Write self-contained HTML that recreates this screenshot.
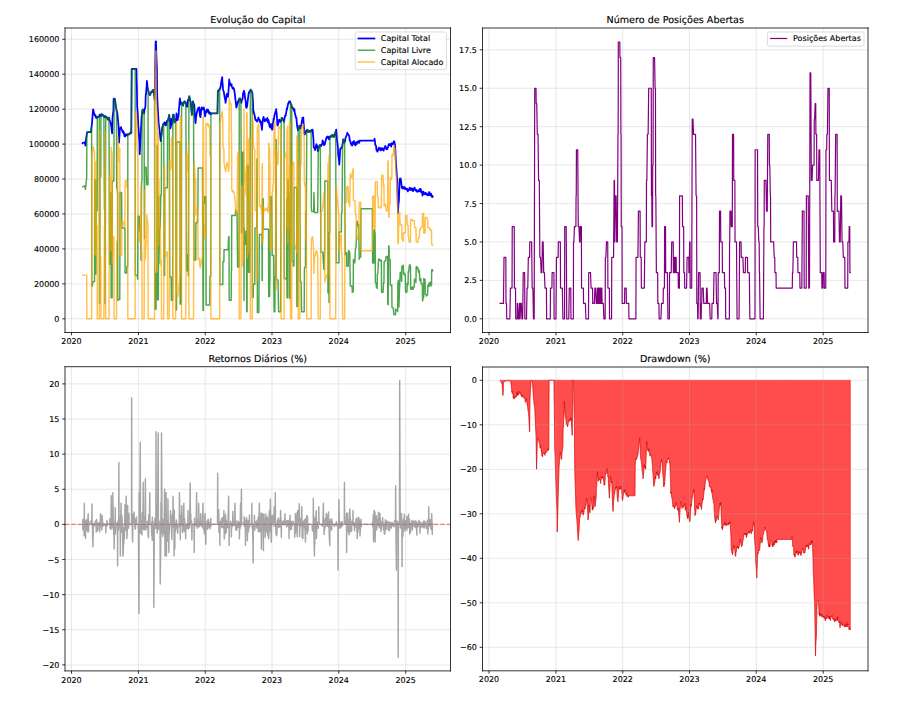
<!DOCTYPE html>
<html><head><meta charset="utf-8"><title>Backtest</title>
<style>html,body{margin:0;padding:0;background:#fff;width:903px;height:704px;overflow:hidden}
svg{display:block}
svg text{font-family:"DejaVu Sans","Liberation Sans",sans-serif;text-rendering:geometricPrecision;stroke:#000;stroke-width:0.3px;stroke-opacity:0.6}</style></head>
<body>
<svg width="903px" height="704px" viewBox="0 0 1128.75 880" version="1.1">
 
 <defs>
  <style type="text/css">*{stroke-linejoin: round; stroke-linecap: butt}</style>
 </defs>
 <g id="figure_1">
  <g id="patch_1">
   <path d="M 0 880 
L 1128.75 880 
L 1128.75 0 
L 0 0 
z
" style="fill: #ffffff"/>
  </g>
  <g id="axes_1">
   <g id="patch_2">
    <path d="M 81.25 415.625 
L 563.125 415.625 
L 563.125 35 
L 81.25 35 
z
" style="fill: #ffffff"/>
   </g>
   <g id="matplotlib.axis_1">
    <g id="xtick_1">
     <g id="line2d_1">
      <path d="M 89.375 415.625 
L 89.375 35 
" clip-path="url(#p4b7e24a7e3)" style="fill: none; stroke: #b0b0b0; stroke-opacity: 0.3; stroke-width: 1.2; stroke-linecap: square"/>
     </g>
     <g id="line2d_2">
      <defs>
       <path id="me911267e3d" d="M 0 0 
L 0 3.5 
" style="stroke: #000000"/>
      </defs>
      <g>
       <use href="#me911267e3d" x="89.375" y="415.625" style="stroke: #000000"/>
      </g>
     </g>
     <g id="text_1">
      <text style="font-size: 10px; font-family: 'DejaVu Sans', 'Liberation Sans', sans-serif; text-anchor: middle" x="89.375" y="430.223438" transform="rotate(-0 89.375 430.223438)">2020</text>
     </g>
    </g>
    <g id="xtick_2">
     <g id="line2d_3">
      <path d="M 173.065475 415.625 
L 173.065475 35 
" clip-path="url(#p4b7e24a7e3)" style="fill: none; stroke: #b0b0b0; stroke-opacity: 0.3; stroke-width: 1.2; stroke-linecap: square"/>
     </g>
     <g id="line2d_4">
      <g>
       <use href="#me911267e3d" x="173.065475" y="415.625" style="stroke: #000000"/>
      </g>
     </g>
     <g id="text_2">
      <text style="font-size: 10px; font-family: 'DejaVu Sans', 'Liberation Sans', sans-serif; text-anchor: middle" x="173.065475" y="430.223438" transform="rotate(-0 173.065475 430.223438)">2021</text>
     </g>
    </g>
    <g id="xtick_3">
     <g id="line2d_5">
      <path d="M 256.527288 415.625 
L 256.527288 35 
" clip-path="url(#p4b7e24a7e3)" style="fill: none; stroke: #b0b0b0; stroke-opacity: 0.3; stroke-width: 1.2; stroke-linecap: square"/>
     </g>
     <g id="line2d_6">
      <g>
       <use href="#me911267e3d" x="256.527288" y="415.625" style="stroke: #000000"/>
      </g>
     </g>
     <g id="text_3">
      <text style="font-size: 10px; font-family: 'DejaVu Sans', 'Liberation Sans', sans-serif; text-anchor: middle" x="256.527288" y="430.223438" transform="rotate(-0 256.527288 430.223438)">2022</text>
     </g>
    </g>
    <g id="xtick_4">
     <g id="line2d_7">
      <path d="M 339.9891 415.625 
L 339.9891 35 
" clip-path="url(#p4b7e24a7e3)" style="fill: none; stroke: #b0b0b0; stroke-opacity: 0.3; stroke-width: 1.2; stroke-linecap: square"/>
     </g>
     <g id="line2d_8">
      <g>
       <use href="#me911267e3d" x="339.9891" y="415.625" style="stroke: #000000"/>
      </g>
     </g>
     <g id="text_4">
      <text style="font-size: 10px; font-family: 'DejaVu Sans', 'Liberation Sans', sans-serif; text-anchor: middle" x="339.9891" y="430.223438" transform="rotate(-0 339.9891 430.223438)">2023</text>
     </g>
    </g>
    <g id="xtick_5">
     <g id="line2d_9">
      <path d="M 423.450913 415.625 
L 423.450913 35 
" clip-path="url(#p4b7e24a7e3)" style="fill: none; stroke: #b0b0b0; stroke-opacity: 0.3; stroke-width: 1.2; stroke-linecap: square"/>
     </g>
     <g id="line2d_10">
      <g>
       <use href="#me911267e3d" x="423.450913" y="415.625" style="stroke: #000000"/>
      </g>
     </g>
     <g id="text_5">
      <text style="font-size: 10px; font-family: 'DejaVu Sans', 'Liberation Sans', sans-serif; text-anchor: middle" x="423.450913" y="430.223438" transform="rotate(-0 423.450913 430.223438)">2024</text>
     </g>
    </g>
    <g id="xtick_6">
     <g id="line2d_11">
      <path d="M 507.141388 415.625 
L 507.141388 35 
" clip-path="url(#p4b7e24a7e3)" style="fill: none; stroke: #b0b0b0; stroke-opacity: 0.3; stroke-width: 1.2; stroke-linecap: square"/>
     </g>
     <g id="line2d_12">
      <g>
       <use href="#me911267e3d" x="507.141388" y="415.625" style="stroke: #000000"/>
      </g>
     </g>
     <g id="text_6">
      <text style="font-size: 10px; font-family: 'DejaVu Sans', 'Liberation Sans', sans-serif; text-anchor: middle" x="507.141388" y="430.223438" transform="rotate(-0 507.141388 430.223438)">2025</text>
     </g>
    </g>
   </g>
   <g id="matplotlib.axis_2">
    <g id="ytick_1">
     <g id="line2d_13">
      <path d="M 81.25 398.5 
L 563.125 398.5 
" clip-path="url(#p4b7e24a7e3)" style="fill: none; stroke: #b0b0b0; stroke-opacity: 0.3; stroke-width: 1.2; stroke-linecap: square"/>
     </g>
     <g id="line2d_14">
      <defs>
       <path id="mcc44afb5ca" d="M 0 0 
L -3.5 0 
" style="stroke: #000000"/>
      </defs>
      <g>
       <use href="#mcc44afb5ca" x="81.25" y="398.5" style="stroke: #000000"/>
      </g>
     </g>
     <g id="text_7">
      <text style="font-size: 10px; font-family: 'DejaVu Sans', 'Liberation Sans', sans-serif; text-anchor: end" x="74.25" y="402.299219" transform="rotate(-0 74.25 402.299219)">0</text>
     </g>
    </g>
    <g id="ytick_2">
     <g id="line2d_15">
      <path d="M 81.25 354.824249 
L 563.125 354.824249 
" clip-path="url(#p4b7e24a7e3)" style="fill: none; stroke: #b0b0b0; stroke-opacity: 0.3; stroke-width: 1.2; stroke-linecap: square"/>
     </g>
     <g id="line2d_16">
      <g>
       <use href="#mcc44afb5ca" x="81.25" y="354.824249" style="stroke: #000000"/>
      </g>
     </g>
     <g id="text_8">
      <text style="font-size: 10px; font-family: 'DejaVu Sans', 'Liberation Sans', sans-serif; text-anchor: end" x="74.25" y="358.623468" transform="rotate(-0 74.25 358.623468)">20000</text>
     </g>
    </g>
    <g id="ytick_3">
     <g id="line2d_17">
      <path d="M 81.25 311.148498 
L 563.125 311.148498 
" clip-path="url(#p4b7e24a7e3)" style="fill: none; stroke: #b0b0b0; stroke-opacity: 0.3; stroke-width: 1.2; stroke-linecap: square"/>
     </g>
     <g id="line2d_18">
      <g>
       <use href="#mcc44afb5ca" x="81.25" y="311.148498" style="stroke: #000000"/>
      </g>
     </g>
     <g id="text_9">
      <text style="font-size: 10px; font-family: 'DejaVu Sans', 'Liberation Sans', sans-serif; text-anchor: end" x="74.25" y="314.947716" transform="rotate(-0 74.25 314.947716)">40000</text>
     </g>
    </g>
    <g id="ytick_4">
     <g id="line2d_19">
      <path d="M 81.25 267.472746 
L 563.125 267.472746 
" clip-path="url(#p4b7e24a7e3)" style="fill: none; stroke: #b0b0b0; stroke-opacity: 0.3; stroke-width: 1.2; stroke-linecap: square"/>
     </g>
     <g id="line2d_20">
      <g>
       <use href="#mcc44afb5ca" x="81.25" y="267.472746" style="stroke: #000000"/>
      </g>
     </g>
     <g id="text_10">
      <text style="font-size: 10px; font-family: 'DejaVu Sans', 'Liberation Sans', sans-serif; text-anchor: end" x="74.25" y="271.271965" transform="rotate(-0 74.25 271.271965)">60000</text>
     </g>
    </g>
    <g id="ytick_5">
     <g id="line2d_21">
      <path d="M 81.25 223.796995 
L 563.125 223.796995 
" clip-path="url(#p4b7e24a7e3)" style="fill: none; stroke: #b0b0b0; stroke-opacity: 0.3; stroke-width: 1.2; stroke-linecap: square"/>
     </g>
     <g id="line2d_22">
      <g>
       <use href="#mcc44afb5ca" x="81.25" y="223.796995" style="stroke: #000000"/>
      </g>
     </g>
     <g id="text_11">
      <text style="font-size: 10px; font-family: 'DejaVu Sans', 'Liberation Sans', sans-serif; text-anchor: end" x="74.25" y="227.596214" transform="rotate(-0 74.25 227.596214)">80000</text>
     </g>
    </g>
    <g id="ytick_6">
     <g id="line2d_23">
      <path d="M 81.25 180.121244 
L 563.125 180.121244 
" clip-path="url(#p4b7e24a7e3)" style="fill: none; stroke: #b0b0b0; stroke-opacity: 0.3; stroke-width: 1.2; stroke-linecap: square"/>
     </g>
     <g id="line2d_24">
      <g>
       <use href="#mcc44afb5ca" x="81.25" y="180.121244" style="stroke: #000000"/>
      </g>
     </g>
     <g id="text_12">
      <text style="font-size: 10px; font-family: 'DejaVu Sans', 'Liberation Sans', sans-serif; text-anchor: end" x="74.25" y="183.920463" transform="rotate(-0 74.25 183.920463)">100000</text>
     </g>
    </g>
    <g id="ytick_7">
     <g id="line2d_25">
      <path d="M 81.25 136.445493 
L 563.125 136.445493 
" clip-path="url(#p4b7e24a7e3)" style="fill: none; stroke: #b0b0b0; stroke-opacity: 0.3; stroke-width: 1.2; stroke-linecap: square"/>
     </g>
     <g id="line2d_26">
      <g>
       <use href="#mcc44afb5ca" x="81.25" y="136.445493" style="stroke: #000000"/>
      </g>
     </g>
     <g id="text_13">
      <text style="font-size: 10px; font-family: 'DejaVu Sans', 'Liberation Sans', sans-serif; text-anchor: end" x="74.25" y="140.244711" transform="rotate(-0 74.25 140.244711)">120000</text>
     </g>
    </g>
    <g id="ytick_8">
     <g id="line2d_27">
      <path d="M 81.25 92.769741 
L 563.125 92.769741 
" clip-path="url(#p4b7e24a7e3)" style="fill: none; stroke: #b0b0b0; stroke-opacity: 0.3; stroke-width: 1.2; stroke-linecap: square"/>
     </g>
     <g id="line2d_28">
      <g>
       <use href="#mcc44afb5ca" x="81.25" y="92.769741" style="stroke: #000000"/>
      </g>
     </g>
     <g id="text_14">
      <text style="font-size: 10px; font-family: 'DejaVu Sans', 'Liberation Sans', sans-serif; text-anchor: end" x="74.25" y="96.56896" transform="rotate(-0 74.25 96.56896)">140000</text>
     </g>
    </g>
    <g id="ytick_9">
     <g id="line2d_29">
      <path d="M 81.25 49.09399 
L 563.125 49.09399 
" clip-path="url(#p4b7e24a7e3)" style="fill: none; stroke: #b0b0b0; stroke-opacity: 0.3; stroke-width: 1.2; stroke-linecap: square"/>
     </g>
     <g id="line2d_30">
      <g>
       <use href="#mcc44afb5ca" x="81.25" y="49.09399" style="stroke: #000000"/>
      </g>
     </g>
     <g id="text_15">
      <text style="font-size: 10px; font-family: 'DejaVu Sans', 'Liberation Sans', sans-serif; text-anchor: end" x="74.25" y="52.893209" transform="rotate(-0 74.25 52.893209)">160000</text>
     </g>
    </g>
   </g>
   <g id="line2d_31">
    <path d="M 103.323413 178.930087 
L 103.552075 178.632298 
L 104.238062 178.382462 
L 105.8387 177.83205 
L 106.524687 180.583824 
L 106.75335 182.125744 
L 107.210675 179.213633 
L 107.439338 174.546776 
L 108.811312 165.550774 
L 110.640613 165.088439 
L 113.613225 165.088439 
L 114.9852 154.181357 
L 116.357175 136.730025 
L 116.585837 136.730025 
L 116.8145 138.504867 
L 117.043163 138.95169 
L 117.72915 141.851612 
L 117.957813 143.370635 
L 118.186475 142.849783 
L 118.415138 144.196474 
L 118.6438 143.549111 
L 119.329788 144.106701 
L 119.55845 146.1196 
L 119.787113 147.034579 
L 120.015775 146.202907 
L 120.930425 147.542263 
L 121.159087 147.056789 
L 121.38775 146.850539 
L 121.616413 145.747648 
L 121.845075 146.323973 
L 122.531063 146.405928 
L 122.988388 145.894483 
L 123.445713 146.306943 
L 124.360363 144.135937 
L 124.589025 143.237264 
L 125.04635 145.47588 
L 125.732337 143.990842 
L 126.189662 145.136118 
L 126.646988 142.788959 
L 127.561638 143.409444 
L 127.7903 144.194867 
L 128.018963 144.311069 
L 128.247625 143.357055 
L 128.933613 143.946749 
L 129.162275 145.185727 
L 129.390938 144.887073 
L 129.6196 144.940839 
L 129.848263 145.408269 
L 130.53425 146.391945 
L 130.762912 146.390158 
L 130.991575 146.102567 
L 131.4489 144.977062 
L 132.134888 146.002101 
L 132.36355 146.100826 
L 132.592213 146.394728 
L 132.820875 146.276206 
L 133.049538 146.830932 
L 133.735525 146.638244 
L 133.964188 147.450071 
L 134.421513 147.931642 
L 134.650175 149.39 
L 135.336163 148.735737 
L 135.564825 148.12015 
L 136.02215 147.542263 
L 136.250812 147.061379 
L 136.9368 150.692196 
L 137.394125 150.71501 
L 137.85145 152.949893 
L 138.7661 155.882453 
L 138.994763 157.875803 
L 139.223425 158.212235 
L 139.452088 161.127015 
L 140.138075 166.748213 
L 140.5954 147.542263 
L 140.824063 145.883605 
L 141.052725 143.109236 
L 141.738713 139.006286 
L 141.967375 124.222088 
L 142.196038 123.342767 
L 143.568013 123.641527 
L 143.796675 124.560171 
L 144.254 128.611829 
L 145.16865 134.994376 
L 145.397312 135.485497 
L 145.625975 138.05053 
L 146.540625 140.039411 
L 148.141263 157.401317 
L 148.369925 162.820859 
L 148.82725 178.314462 
L 149.055913 174.684423 
L 149.7419 161.882705 
L 149.970563 161.386107 
L 150.199225 160.23794 
L 150.427887 159.965672 
L 150.65655 159.409508 
L 151.342538 158.895113 
L 151.5712 160.561411 
L 152.257188 162.192987 
L 152.943175 163.376501 
L 153.171838 164.850397 
L 153.4005 165.390495 
L 153.629163 163.739241 
L 153.857825 163.881542 
L 154.543813 164.870298 
L 154.772475 167.150682 
L 155.001138 166.418749 
L 155.458462 170.098584 
L 156.14445 170.036219 
L 156.373113 170.657987 
L 156.830438 168.057167 
L 157.0591 167.85789 
L 157.745088 168.518684 
L 158.202413 168.375737 
L 158.431075 168.858897 
L 158.659738 168.604788 
L 159.345725 169.759534 
L 159.574388 168.133443 
L 159.80305 167.58137 
L 160.031713 168.114493 
L 160.260375 167.85789 
L 160.946363 167.822639 
L 161.175025 168.00307 
L 161.403688 167.226739 
L 161.63235 166.986016 
L 161.861013 167.110992 
L 162.547 166.92364 
L 163.004325 165.532336 
L 163.232988 165.943041 
L 163.46165 166.63245 
L 164.147638 166.364094 
L 164.604962 86.218379 
L 170.550188 86.218379 
L 170.77885 99.44203 
L 171.007513 105.961951 
L 171.236175 116.594063 
L 171.464838 133.34883 
L 172.150825 141.486265 
L 172.836813 156.721433 
L 173.065475 158.778929 
L 173.980125 173.871235 
L 174.208788 175.732329 
L 174.666112 192.685728 
L 176.952738 146.911549 
L 177.410063 143.687657 
L 177.867388 138.644589 
L 178.553375 136.73951 
L 178.782038 138.392322 
L 179.0107 138.246938 
L 179.468025 141.377231 
L 180.154013 141.82553 
L 180.611338 137.403092 
L 181.75465 133.34883 
L 181.983313 122.997414 
L 182.211975 118.09077 
L 182.440638 118.455799 
L 182.6693 115.083225 
L 183.355288 107.252031 
L 183.58395 101.13737 
L 184.041275 103.998055 
L 184.269938 107.91873 
L 184.955925 112.326374 
L 185.184588 111.992029 
L 185.41325 112.50424 
L 185.870575 116.39543 
L 186.556563 117.436102 
L 186.785225 117.217813 
L 187.013888 117.241721 
L 187.471213 118.93844 
L 188.1572 117.339844 
L 188.614525 115.394482 
L 188.843187 115.164824 
L 189.07185 114.70009 
L 189.757838 114.356429 
L 189.9865 115.062079 
L 190.215163 113.718601 
L 190.443825 113.85242 
L 190.672488 113.040588 
L 191.358475 113.139302 
L 191.587138 112.419108 
L 191.8158 114.669327 
L 192.044463 113.00475 
L 193.416438 124.87213 
L 193.6451 115.473502 
L 193.873763 86.218379 
L 194.55975 51.714535 
L 195.017075 51.714535 
L 195.4744 69.89106 
L 196.160388 85.225834 
L 196.38905 115.363363 
L 196.846375 127.65326 
L 198.21835 152.858376 
L 198.675675 156.938594 
L 199.361663 161.588432 
L 200.276313 171.278323 
L 200.9623 176.534711 
L 201.190963 173.306268 
L 201.648288 170.321868 
L 201.87695 168.816085 
L 202.7916 159.0037 
L 203.020263 158.402338 
L 203.248925 158.405859 
L 204.163575 154.884152 
L 204.392238 155.628525 
L 204.6209 155.612553 
L 205.078225 153.592031 
L 205.764213 153.001495 
L 205.992875 154.205602 
L 206.221538 152.985178 
L 206.4502 154.250435 
L 206.678863 156.479611 
L 207.36485 156.76681 
L 207.593513 155.339033 
L 207.822175 155.693371 
L 208.050838 154.76183 
L 208.2795 153.001495 
L 208.965488 150.69367 
L 209.19415 151.854292 
L 209.422813 151.897904 
L 209.651475 150.920315 
L 209.880138 149.236181 
L 210.566125 149.327627 
L 210.794788 146.500694 
L 211.480775 143.588209 
L 212.166763 148.453227 
L 212.395425 151.777269 
L 212.624088 153.022763 
L 213.081413 160.532124 
L 213.7674 157.19881 
L 213.996063 154.992613 
L 214.453388 148.644501 
L 214.68205 149.236181 
L 215.368038 154.830062 
L 215.5967 154.884152 
L 215.825363 150.640085 
L 216.054025 143.588209 
L 216.282688 143.581075 
L 216.968675 143.189341 
L 217.197338 143.588209 
L 217.654663 147.353523 
L 217.883325 148.592088 
L 218.569313 153.001495 
L 218.797975 150.765602 
L 219.026638 150.126269 
L 219.483963 152.179391 
L 220.16995 149.236181 
L 220.398613 146.86337 
L 220.627275 141.705552 
L 220.855938 143.742319 
L 221.0846 144.036107 
L 221.770588 150.177509 
L 221.99925 150.163945 
L 222.227913 149.338648 
L 222.685238 145.751212 
L 223.371225 143.588209 
L 223.599888 135.805598 
L 223.82855 135.038558 
L 224.057213 132.984419 
L 224.285875 129.283372 
L 224.971863 122.878979 
L 225.200525 126.497127 
L 225.65785 128.549189 
L 225.886513 130.409608 
L 226.5725 128.238994 
L 226.801163 127.97518 
L 227.029825 128.889059 
L 227.258488 129.048833 
L 227.48715 128.526951 
L 228.4018 129.967286 
L 228.859125 132.110327 
L 229.087788 130.409608 
L 229.773775 128.537789 
L 230.002438 128.41838 
L 230.2311 126.917246 
L 230.459763 127.868105 
L 230.688425 126.644294 
L 231.374413 127.933398 
L 231.603075 127.300787 
L 231.831738 128.016972 
L 232.0604 127.805035 
L 232.289063 128.526951 
L 232.97505 131.628386 
L 233.203713 133.231691 
L 233.432375 132.369342 
L 233.661038 133.233594 
L 233.8897 133.518653 
L 234.575688 128.979348 
L 234.80435 125.747738 
L 235.033013 124.467933 
L 235.261675 124.761636 
L 235.490338 124.843308 
L 236.176325 124.139642 
L 236.404988 121.501691 
L 236.63365 120.331917 
L 236.862313 121.937651 
L 237.090975 122.235057 
L 238.005625 126.996545 
L 238.234288 126.644294 
L 238.46295 128.341857 
L 238.691613 131.586241 
L 239.834925 143.588209 
L 240.063588 141.606654 
L 241.2069 126.644294 
L 241.435563 128.073056 
L 241.664225 128.462698 
L 242.578875 131.668225 
L 242.807538 130.409608 
L 243.0362 133.457245 
L 243.493525 142.42808 
L 244.179513 152.43535 
L 244.408175 153.942824 
L 245.094163 146.81011 
L 245.78015 141.705552 
L 246.008813 141.299475 
L 246.237475 140.012857 
L 246.466138 140.047295 
L 246.6948 138.555934 
L 247.60945 135.356727 
L 247.838113 134.987541 
L 248.066775 136.020275 
L 248.295438 135.777857 
L 248.981425 134.174923 
L 249.896075 144.129423 
L 250.582063 146.412195 
L 250.810725 142.990563 
L 251.039388 143.054814 
L 251.26805 140.403642 
L 251.496713 136.277937 
L 252.1827 134.174923 
L 252.411363 136.904832 
L 252.640025 136.580468 
L 252.868688 136.897977 
L 253.09735 136.05758 
L 253.783338 135.871718 
L 254.012 136.445589 
L 254.240663 135.075334 
L 254.469325 134.816704 
L 254.697988 134.174923 
L 255.383975 138.394513 
L 255.8413 143.774094 
L 256.069963 143.087018 
L 256.298625 145.470866 
L 257.213275 141.177423 
L 257.899263 137.940237 
L 258.58525 136.831894 
L 258.813913 139.393471 
L 259.042575 139.22985 
L 259.271238 138.913464 
L 259.4999 136.998909 
L 260.185888 137.236337 
L 260.643213 141.149752 
L 261.100538 139.130062 
L 262.015188 142.2981 
L 262.24385 141.080038 
L 262.472512 140.764223 
L 262.701175 140.966034 
L 263.615825 142.905048 
L 263.844488 141.705552 
L 271.847675 141.705552 
L 272.305 113.465693 
L 272.990988 113.853627 
L 273.676975 112.138724 
L 273.905638 113.180509 
L 274.591625 111.583036 
L 275.04895 111.06488 
L 275.277613 109.391288 
L 275.506275 109.674063 
L 276.192263 105.935064 
L 276.420925 103.192778 
L 277.106913 99.727198 
L 277.7929 96.521778 
L 278.021563 102.486729 
L 278.478888 106.436513 
L 278.70755 111.583036 
L 279.393538 114.148214 
L 279.6222 114.237552 
L 281.222838 124.308099 
L 281.4515 124.245424 
L 281.680163 125.809384 
L 281.908825 128.526951 
L 282.823475 123.452845 
L 283.2808 118.485387 
L 283.509463 117.231007 
L 284.19545 119.836737 
L 284.424113 120.14865 
L 284.652775 118.624893 
L 284.881438 118.827092 
L 285.1101 120.996322 
L 286.02475 107.775939 
L 286.482075 99.345764 
L 286.710738 101.602021 
L 287.396725 103.784437 
L 287.625388 106.088385 
L 287.85405 106.417585 
L 288.311375 105.509068 
L 288.997363 107.146059 
L 289.454688 105.030812 
L 289.68335 107.817721 
L 290.826663 110.875095 
L 291.055325 109.700378 
L 291.283988 109.279064 
L 291.51265 109.810101 
L 292.198638 110.198141 
L 292.4273 111.171969 
L 292.655963 111.583036 
L 293.799275 119.132276 
L 294.027938 122.878979 
L 294.2566 123.777229 
L 294.713925 127.767183 
L 295.399913 134.461862 
L 295.628575 134.174923 
L 296.0859 131.738448 
L 296.314563 131.879437 
L 297.00055 128.983061 
L 297.229213 126.644294 
L 297.686538 128.404957 
L 297.9152 127.706773 
L 298.82985 123.547916 
L 299.058513 124.431793 
L 299.287175 124.455522 
L 299.515838 123.110958 
L 300.201825 122.878979 
L 300.430488 126.119285 
L 300.65915 124.397056 
L 300.887813 124.623117 
L 301.116475 124.57541 
L 301.802463 128.526951 
L 302.031125 126.0678 
L 302.259788 125.862341 
L 302.48845 124.63672 
L 302.717113 124.437685 
L 303.4031 122.878979 
L 303.860425 116.435431 
L 304.089088 115.841018 
L 304.31775 115.980321 
L 305.003738 113.465693 
L 305.689725 116.064153 
L 305.918388 119.113665 
L 307.290363 128.515492 
L 307.519025 134.174923 
L 308.205013 134.843001 
L 308.433675 132.832079 
L 308.662338 132.061682 
L 308.891 132.9421 
L 309.119663 130.409608 
L 310.034313 122.566037 
L 310.262975 121.32633 
L 310.7203 117.231007 
L 311.406288 114.885187 
L 311.63495 114.838979 
L 311.863613 115.790628 
L 312.320938 113.465693 
L 313.006925 113.010555 
L 313.235588 112.117031 
L 313.46425 113.221649 
L 313.692913 112.524364 
L 313.921575 113.056902 
L 314.607563 113.682376 
L 314.836225 114.329584 
L 315.064888 115.814589 
L 315.29355 115.34835 
L 315.522213 116.864066 
L 316.2082 127.370581 
L 316.665525 139.822894 
L 316.894188 138.759519 
L 317.12285 139.597694 
L 317.808838 143.266967 
L 318.0375 143.648998 
L 318.266163 143.588209 
L 318.494825 144.67907 
L 318.723488 147.17135 
L 319.409475 150.211852 
L 319.638138 149.263615 
L 319.8668 149.236181 
L 320.095463 150.506489 
L 320.324125 150.176638 
L 321.010113 150.866467 
L 321.238775 152.060167 
L 321.467438 151.414474 
L 321.6961 151.134749 
L 321.924763 151.093217 
L 322.61075 149.05936 
L 322.839413 147.353523 
L 323.068075 146.812178 
L 323.296738 148.557275 
L 323.5254 149.096245 
L 324.211388 149.236181 
L 324.44005 149.160391 
L 324.897375 152.728931 
L 325.126038 152.34925 
L 325.812025 153.001495 
L 326.040688 151.591689 
L 326.26935 155.08032 
L 326.498013 156.696248 
L 326.726675 156.429729 
L 327.412663 162.414781 
L 327.869988 156.46734 
L 328.327313 151.655133 
L 329.0133 147.353523 
L 329.241963 147.227195 
L 329.470625 146.067025 
L 329.92795 149.06747 
L 330.8426 151.600349 
L 331.071263 149.884841 
L 331.299925 149.758704 
L 331.528588 149.236181 
L 332.214575 148.969979 
L 332.443238 150.821507 
L 333.129225 149.236181 
L 333.815213 149.170339 
L 334.043875 148.762756 
L 334.272538 147.421479 
L 334.5012 149.645922 
L 334.729863 153.001495 
L 335.41585 151.676689 
L 335.644513 150.216895 
L 335.873175 150.953788 
L 336.101838 153.79231 
L 337.016488 158.066061 
L 337.24515 158.330504 
L 337.473813 157.896966 
L 337.702475 159.637928 
L 337.931138 158.649467 
L 338.617125 154.727352 
L 338.845788 157.785523 
L 339.07445 157.54781 
L 339.531775 159.706785 
L 340.217763 162.033226 
L 340.675088 161.076563 
L 340.90375 159.196228 
L 341.132413 155.017658 
L 342.047063 148.155619 
L 342.275725 149.85677 
L 342.73305 146.537956 
L 343.419038 142.632569 
L 343.6477 142.671593 
L 343.876363 141.714585 
L 344.105025 140.115605 
L 344.333688 139.781625 
L 345.019675 137.780411 
L 345.248338 136.462669 
L 345.477 139.779797 
L 345.705663 140.183393 
L 345.934325 142.975455 
L 346.848975 157.162644 
L 347.077638 155.563069 
L 347.3063 156.13472 
L 347.534963 156.136103 
L 348.449613 151.327258 
L 348.678275 151.235822 
L 348.906938 149.521038 
L 349.1356 149.85677 
L 350.05025 151.493955 
L 350.278913 150.752071 
L 350.507575 152.225649 
L 350.736238 152.292061 
L 351.422225 151.629411 
L 352.108213 147.421283 
L 352.336875 148.552282 
L 353.022863 147.421479 
L 353.251525 148.031972 
L 353.480188 149.564577 
L 353.70885 149.342401 
L 353.937513 149.968658 
L 354.6235 151.074416 
L 354.852163 152.470551 
L 355.080825 151.305885 
L 355.309488 150.810563 
L 355.53815 148.639208 
L 356.224138 145.751096 
L 356.4528 144.090022 
L 356.681463 144.986188 
L 356.910125 144.994255 
L 357.138788 144.28798 
L 358.2821 137.409896 
L 358.510763 135.245023 
L 358.739425 136.837262 
L 359.425413 133.651681 
L 359.654075 131.482963 
L 359.882738 131.03554 
L 360.340063 129.156795 
L 361.02605 128.036802 
L 361.483375 126.692934 
L 361.712038 127.066472 
L 361.9407 126.793154 
L 362.626688 126.721504 
L 362.85535 128.87268 
L 363.084013 128.508674 
L 363.312675 128.788497 
L 363.541338 130.21653 
L 364.227325 130.814098 
L 364.455988 131.592086 
L 364.913313 134.731317 
L 365.141975 134.433313 
L 365.827963 134.4529 
L 366.056625 135.221549 
L 366.285288 135.507373 
L 366.51395 135.245023 
L 366.742613 136.153671 
L 367.4286 137.929392 
L 367.657263 138.960097 
L 367.885925 138.201229 
L 368.114588 136.734824 
L 368.34325 140.115605 
L 369.2579 144.494371 
L 369.486563 144.375282 
L 369.715225 145.471146 
L 369.943888 147.316397 
L 370.629875 147.421479 
L 370.858538 152.29323 
L 371.544525 158.64854 
L 372.459175 163.000699 
L 372.687838 161.186956 
L 372.9165 160.439397 
L 373.145163 161.369002 
L 373.83115 159.875264 
L 374.059813 157.297875 
L 374.288475 157.162644 
L 374.517138 157.162414 
L 374.7458 158.573636 
L 375.66045 158.919457 
L 375.889113 160.609413 
L 376.117775 159.597935 
L 377.261088 151.731086 
L 377.718413 149.598289 
L 377.947075 147.421479 
L 378.633063 149.069461 
L 378.861725 147.135296 
L 379.090388 146.889066 
L 379.547713 153.962883 
L 380.462363 166.903808 
L 380.691025 166.14302 
L 380.919688 168.242543 
L 381.14835 167.875432 
L 382.063 165.386462 
L 382.291663 164.167445 
L 382.520325 163.802162 
L 383.663638 164.650485 
L 383.8923 162.15571 
L 384.120963 162.22983 
L 384.349625 163.6676 
L 385.035613 164.150524 
L 385.264275 162.953917 
L 385.492938 163.797518 
L 385.7216 165.278656 
L 385.950263 164.196122 
L 386.63625 163.528912 
L 386.864913 164.22923 
L 387.093575 164.468517 
L 387.322238 164.312872 
L 387.5509 164.316109 
L 388.236888 163.774654 
L 388.46555 164.616846 
L 388.694213 164.387697 
L 388.922875 162.66998 
L 389.151538 163.250872 
L 389.837525 163.710343 
L 390.066188 162.294548 
L 390.29485 162.798657 
L 390.523513 163.0323 
L 390.752175 162.033226 
L 391.895488 175.106808 
L 392.12415 183.950847 
L 392.352813 183.930794 
L 393.0388 185.26912 
L 393.267463 186.301588 
L 393.496125 185.72292 
L 393.724788 187.603783 
L 393.95345 187.048658 
L 395.096763 181.320944 
L 395.325425 182.089509 
L 395.554088 180.29791 
L 396.240075 181.850687 
L 396.926063 185.661106 
L 397.154725 188.704799 
L 397.840713 188.821429 
L 398.069375 186.0283 
L 398.5267 185.39642 
L 398.755363 183.848115 
L 399.44135 181.692149 
L 399.670013 181.515555 
L 399.898675 182.39432 
L 400.127338 181.057777 
L 400.356 182.135532 
L 401.041988 182.561068 
L 401.27065 182.120094 
L 401.499313 182.733201 
L 401.727975 182.093076 
L 401.956638 180.597021 
L 402.642625 180.456395 
L 402.871288 179.947922 
L 403.328613 175.571317 
L 403.557275 176.644973 
L 404.243263 178.475723 
L 404.471925 178.155519 
L 404.92925 180.396142 
L 405.157913 181.515555 
L 406.072563 180.059179 
L 406.529888 177.470658 
L 406.75855 177.10886 
L 407.901863 172.575657 
L 408.130525 172.468636 
L 408.359188 171.412623 
L 409.045175 170.788442 
L 409.273838 171.774391 
L 409.5025 170.805426 
L 409.731163 172.231661 
L 409.959825 172.121053 
L 410.645813 172.159158 
L 410.874475 170.869235 
L 411.103138 174.127161 
L 411.3318 174.209682 
L 411.560463 174.012773 
L 412.475113 170.873442 
L 412.703775 171.117376 
L 413.1611 170.556745 
L 414.07575 169.320617 
L 414.304413 170.880312 
L 414.533075 171.044798 
L 414.761738 169.946067 
L 415.447725 169.3391 
L 415.676388 168.76951 
L 415.90505 170.211026 
L 416.133713 169.740848 
L 416.362375 169.75844 
L 417.277025 171.274211 
L 417.505688 170.582847 
L 417.73435 168.972284 
L 417.963013 168.153211 
L 418.649 169.3391 
L 418.877663 166.693368 
L 419.106325 165.713431 
L 419.334988 165.748492 
L 419.56365 164.459637 
L 420.249638 162.033226 
L 420.4783 163.196564 
L 421.164288 174.209682 
L 422.078938 181.523537 
L 422.536263 187.276939 
L 422.764925 193.692011 
L 423.679575 199.680618 
L 424.1369 205.868467 
L 425.280213 186.386138 
L 425.508875 186.007062 
L 425.737538 186.768543 
L 425.9662 185.626403 
L 426.652188 184.425127 
L 427.109513 184.427634 
L 427.338175 183.950847 
L 427.566838 184.147035 
L 428.481488 178.298407 
L 428.938813 174.209682 
L 429.167475 175.264727 
L 429.853463 175.34909 
L 430.082125 176.580434 
L 430.310788 178.44268 
L 430.53945 178.442261 
L 430.768113 176.644973 
L 431.4541 176.767835 
L 431.682763 173.078091 
L 431.911425 172.292773 
L 432.140088 172.17048 
L 432.36875 171.560966 
L 433.2834 168.768033 
L 433.512063 168.762984 
L 433.740725 167.784596 
L 433.969388 166.082477 
L 434.655375 166.903808 
L 434.884038 166.900927 
L 435.1127 168.287524 
L 435.341363 168.404583 
L 435.570025 168.312285 
L 436.256013 169.3391 
L 436.484675 170.770781 
L 436.713338 170.916973 
L 437.170663 175.730508 
L 437.85665 176.644973 
L 438.085313 176.716315 
L 438.313975 178.592438 
L 438.542638 179.096486 
L 438.7713 180.125317 
L 439.457288 181.535717 
L 439.68595 179.125015 
L 439.914613 181.515555 
L 440.143275 180.740511 
L 440.371938 181.745157 
L 441.057925 179.484956 
L 441.286588 177.449579 
L 441.51525 177.204538 
L 441.743913 176.644973 
L 441.972575 176.712272 
L 442.658563 176.354383 
L 443.34455 180.656091 
L 443.573213 179.080264 
L 444.2592 181.683525 
L 444.716525 179.589362 
L 444.945188 179.94144 
L 445.17385 178.134611 
L 445.859838 180.29791 
L 446.0885 179.560084 
L 446.317163 179.36942 
L 446.545825 177.14012 
L 446.774488 177.973056 
L 447.460475 178.337316 
L 447.689138 176.644973 
L 447.9178 177.817041 
L 448.146463 176.44133 
L 449.061113 178.509566 
L 449.518438 175.759696 
L 467.354113 175.830578 
L 467.582775 175.489081 
L 468.268763 173.422875 
L 468.497425 175.930405 
L 468.726088 176.867235 
L 468.95475 180.031947 
L 469.183413 181.448551 
L 469.8694 181.887065 
L 470.098063 182.648798 
L 470.555388 187.869092 
L 470.78405 187.318363 
L 471.6987 189.474227 
L 471.927363 189.621904 
L 472.384688 188.437035 
L 473.070675 185.842839 
L 473.299338 185.461389 
L 473.528 184.432215 
L 473.756663 186.455599 
L 473.985325 186.021473 
L 474.671313 185.890389 
L 474.899975 185.047185 
L 475.3573 187.186309 
L 475.585963 188.012589 
L 476.27195 187.880788 
L 476.500613 186.110824 
L 476.729275 185.281315 
L 476.957938 186.420988 
L 477.1866 186.676258 
L 478.10125 185.196946 
L 478.558575 186.415333 
L 478.787238 187.442396 
L 479.473225 188.358989 
L 479.701888 185.749078 
L 479.93055 186.629228 
L 480.387875 185.730533 
L 481.073863 183.62291 
L 481.302525 183.712476 
L 481.531188 182.251119 
L 481.988513 183.277539 
L 482.6745 184.658822 
L 482.903163 186.412074 
L 483.131825 185.898991 
L 483.360488 186.496176 
L 483.58915 185.936677 
L 484.275138 186.263957 
L 484.5038 183.940861 
L 484.732463 184.258498 
L 485.189788 183.053686 
L 486.104438 180.132105 
L 486.561763 181.448551 
L 486.790425 180.74103 
L 487.476413 180.816959 
L 487.705075 181.01249 
L 487.933738 179.843416 
L 488.391063 182.078242 
L 489.07705 183.339806 
L 489.534375 180.160537 
L 489.763038 178.944833 
L 489.9917 179.273512 
L 490.677688 179.040848 
L 490.90635 180.092175 
L 491.363675 179.460378 
L 491.592338 179.843416 
L 492.278325 176.77441 
L 492.506988 176.702786 
L 492.73565 178.668269 
L 492.964313 176.633145 
L 493.192975 179.186954 
L 493.878963 181.448551 
L 494.793613 200.710174 
L 496.39425 224.787204 
L 497.537563 266.520721 
L 497.994888 256.125574 
L 498.680875 250.469368 
L 499.1382 235.006427 
L 499.366863 227.692586 
L 499.595525 223.984636 
L 500.510175 222.935976 
L 500.738838 223.182068 
L 501.196163 224.942455 
L 502.110813 234.418015 
L 502.339475 232.713039 
L 502.568138 233.027611 
L 502.7968 235.631895 
L 503.482788 233.615448 
L 503.71145 234.703565 
L 503.940113 235.086774 
L 504.397438 234.418015 
L 505.083425 234.122746 
L 505.312088 236.080865 
L 505.54075 234.262509 
L 505.769413 233.871687 
L 505.998075 235.220583 
L 506.684063 236.448082 
L 506.912725 235.296303 
L 507.141388 236.023151 
L 507.598713 235.786625 
L 508.2847 237.123538 
L 508.513363 236.023151 
L 508.742025 235.792224 
L 509.19935 237.90885 
L 509.885338 239.233421 
L 510.114 236.743867 
L 510.342663 236.938965 
L 510.571325 237.777936 
L 511.485975 237.305572 
L 512.171963 234.625202 
L 512.400625 236.023151 
L 513.086613 236.660715 
L 513.315275 237.479068 
L 514.001263 235.474208 
L 514.68725 236.028205 
L 514.915913 237.628286 
L 515.144575 235.515506 
L 515.373238 236.071723 
L 515.6019 238.271933 
L 516.287888 238.893445 
L 516.51655 238.713773 
L 516.745213 236.409347 
L 516.973875 235.806272 
L 517.202538 235.944563 
L 517.888525 236.023151 
L 518.117188 234.750151 
L 518.34585 234.638111 
L 518.803175 237.422342 
L 519.489163 237.916854 
L 519.717825 237.83764 
L 519.946488 238.53183 
L 520.17515 238.430854 
L 520.403813 237.284223 
L 521.0898 238.800501 
L 521.318463 239.925716 
L 521.547125 239.376463 
L 521.775788 239.503419 
L 522.00445 238.211646 
L 522.690438 239.233421 
L 522.9191 238.418059 
L 523.147763 239.328789 
L 523.376425 238.783359 
L 523.605088 237.728643 
L 524.291075 237.25229 
L 524.519738 236.354511 
L 524.7484 238.572767 
L 524.977063 239.020238 
L 525.205725 236.023151 
L 525.891713 236.325062 
L 526.120375 236.913813 
L 526.5777 240.533359 
L 526.806363 240.258596 
L 527.49235 239.668847 
L 528.178338 244.487288 
L 528.407 243.484183 
L 529.092988 239.685164 
L 529.32165 239.672441 
L 529.550313 240.652506 
L 529.778975 240.646663 
L 530.007638 242.258856 
L 530.693625 241.641124 
L 530.922288 241.710215 
L 531.15095 242.988756 
L 531.608275 241.097008 
L 532.294263 241.20362 
L 532.522925 241.661896 
L 532.751588 242.651845 
L 532.98025 242.443692 
L 533.208913 243.343542 
L 533.8949 242.678015 
L 534.123563 243.675205 
L 534.352225 244.037635 
L 534.580888 243.328439 
L 534.80955 243.714964 
L 535.495538 241.641124 
L 535.7242 244.00727 
L 536.181525 241.361902 
L 536.410188 240.009211 
L 537.096175 241.709635 
L 537.324838 243.877214 
L 537.5535 242.067864 
L 537.782163 241.777943 
L 538.010825 242.443692 
L 538.696813 242.013264 
L 538.925475 242.306984 
L 539.154138 244.827553 
L 539.3828 245.875889 
L 539.611463 244.996636 
L 540.29745 244.585356 
L 540.526113 246.2024 
L 540.754775 245.653962 
L 540.983438 246.005616 
L 540.983438 246.005616 
" clip-path="url(#p4b7e24a7e3)" style="fill: none; stroke: #0000ff; stroke-width: 2.2; stroke-linecap: square"/>
   </g>
   <g id="line2d_32">
    <path d="M 103.323413 233.524776 
L 103.552075 233.226987 
L 104.238062 232.977151 
L 105.8387 232.426739 
L 106.524687 235.178513 
L 106.75335 236.720433 
L 107.210675 233.808322 
L 107.439338 229.141465 
L 108.353988 223.174755 
L 108.58265 167.065819 
L 108.811312 165.550774 
L 110.640613 165.088439 
L 113.613225 165.088439 
L 114.527875 157.817051 
L 114.756538 357.623507 
L 115.442525 357.623507 
L 116.128512 351.995261 
L 118.186475 351.995261 
L 118.415138 224.989293 
L 119.55845 224.989293 
L 119.787113 342.627964 
L 120.015775 342.627964 
L 120.244438 263.491256 
L 121.38775 263.491256 
L 121.616413 145.747648 
L 121.845075 146.323973 
L 122.531063 146.405928 
L 122.988388 145.894483 
L 123.445713 146.306943 
L 124.1317 144.696938 
L 124.360363 379.274553 
L 124.589025 379.274553 
L 124.817688 342.321093 
L 125.04635 183.392492 
L 125.732337 221.326603 
L 125.961 221.326603 
L 126.189662 145.136118 
L 126.646988 142.788959 
L 127.561638 143.409444 
L 127.7903 144.194867 
L 128.018963 144.311069 
L 128.247625 143.357055 
L 128.933613 143.946749 
L 129.162275 145.185727 
L 129.390938 144.887073 
L 129.6196 144.940839 
L 129.848263 145.408269 
L 130.53425 261.734023 
L 130.991575 261.734023 
L 131.220237 379.742376 
L 131.4489 359.514068 
L 132.134888 146.002101 
L 132.36355 146.100826 
L 132.592213 146.394728 
L 132.820875 146.276206 
L 133.049538 146.830932 
L 133.735525 146.638244 
L 133.964188 147.450071 
L 134.421513 147.931642 
L 134.650175 149.39 
L 135.336163 148.735737 
L 135.564825 148.12015 
L 136.02215 147.542263 
L 136.250812 147.061379 
L 136.9368 330.203473 
L 137.622788 330.203473 
L 137.85145 241.142163 
L 138.7661 241.142163 
L 138.994763 372.378931 
L 140.138075 372.378931 
L 140.366737 226.448729 
L 142.196038 226.448729 
L 142.4247 215.255889 
L 142.653363 123.439442 
L 143.568013 123.641527 
L 143.796675 124.560171 
L 144.254 128.611829 
L 145.16865 134.994376 
L 145.397312 135.485497 
L 145.625975 138.05053 
L 145.854638 235.063455 
L 146.540625 235.063455 
L 146.769288 240.797001 
L 146.99795 240.797001 
L 147.226613 375.504983 
L 147.455275 375.504983 
L 148.141263 374.433352 
L 149.7419 374.433352 
L 149.970563 240.522825 
L 152.028525 240.522825 
L 152.257188 284.95493 
L 156.14445 284.95493 
L 156.373113 341.324885 
L 158.431075 341.324885 
L 158.659738 332.728665 
L 159.574388 332.728665 
L 159.80305 167.58137 
L 160.031713 168.114493 
L 160.260375 167.85789 
L 160.946363 167.822639 
L 161.175025 168.00307 
L 161.403688 167.226739 
L 161.63235 166.986016 
L 161.861013 167.110992 
L 162.547 166.92364 
L 163.004325 165.532336 
L 163.232988 165.943041 
L 163.46165 166.63245 
L 164.147638 166.364094 
L 164.604962 86.218379 
L 168.94955 86.218379 
L 169.178213 344.128202 
L 171.464838 344.128202 
L 172.150825 348.920946 
L 172.379488 270.1423 
L 173.980125 270.1423 
L 174.208788 288.896733 
L 176.038088 288.896733 
L 176.26675 325.185585 
L 176.952738 227.527624 
L 177.410063 227.527624 
L 177.638725 141.35807 
L 177.867388 138.644589 
L 178.553375 136.73951 
L 178.782038 138.392322 
L 179.0107 138.246938 
L 179.468025 141.377231 
L 180.154013 141.82553 
L 180.382675 249.9292 
L 180.611338 298.21878 
L 180.84 209.133252 
L 182.6693 209.133252 
L 183.355288 230.976339 
L 184.955925 230.976339 
L 185.184588 111.992029 
L 185.41325 112.50424 
L 185.870575 116.39543 
L 186.556563 117.436102 
L 186.785225 117.217813 
L 187.013888 117.241721 
L 187.471213 118.93844 
L 188.1572 117.339844 
L 188.614525 115.394482 
L 188.843187 115.164824 
L 189.07185 114.70009 
L 189.757838 114.356429 
L 189.9865 115.062079 
L 190.215163 113.718601 
L 190.443825 113.85242 
L 190.672488 113.040588 
L 191.358475 113.139302 
L 191.587138 112.419108 
L 191.8158 114.669327 
L 192.044463 113.00475 
L 193.187775 123.168138 
L 193.416438 344.874885 
L 193.6451 386.501857 
L 195.017075 386.501857 
L 195.245738 341.6135 
L 196.160388 341.6135 
L 196.38905 181.641657 
L 196.617713 181.641657 
L 196.846375 374.727722 
L 197.989688 374.727722 
L 198.21835 245.153951 
L 198.447013 330.126718 
L 198.675675 330.126718 
L 199.361663 285.981802 
L 200.276313 285.981802 
L 200.9623 243.632679 
L 201.648288 243.632679 
L 201.87695 168.816085 
L 202.7916 159.0037 
L 203.020263 158.402338 
L 203.248925 158.405859 
L 204.163575 154.884152 
L 204.392238 155.628525 
L 204.6209 155.612553 
L 204.849563 206.724216 
L 205.078225 344.326651 
L 205.764213 344.326651 
L 205.992875 234.71637 
L 209.19415 234.71637 
L 209.422813 151.897904 
L 209.651475 150.920315 
L 209.880138 149.236181 
L 210.566125 149.327627 
L 210.794788 146.500694 
L 211.480775 143.588209 
L 212.166763 346.271727 
L 213.996063 346.271727 
L 214.224725 375.213637 
L 215.825363 375.213637 
L 216.054025 143.588209 
L 216.282688 143.581075 
L 216.968675 143.189341 
L 217.197338 143.588209 
L 217.654663 147.353523 
L 217.883325 148.592088 
L 218.569313 153.001495 
L 218.797975 150.765602 
L 219.026638 150.126269 
L 219.483963 152.179391 
L 220.16995 387.380091 
L 220.627275 387.380091 
L 220.855938 177.483559 
L 224.971863 177.483559 
L 225.200525 380.081809 
L 226.5725 380.081809 
L 227.029825 128.889059 
L 227.258488 129.048833 
L 227.48715 128.526951 
L 228.4018 129.967286 
L 228.859125 132.110327 
L 229.087788 130.409608 
L 229.773775 128.537789 
L 230.002438 128.41838 
L 230.2311 126.917246 
L 230.459763 127.868105 
L 230.688425 126.644294 
L 231.374413 127.933398 
L 231.603075 127.300787 
L 231.831738 128.016972 
L 232.0604 127.805035 
L 232.289063 128.526951 
L 233.203713 338.764835 
L 233.661038 338.764835 
L 233.8897 318.298831 
L 235.261675 318.298831 
L 235.490338 344.87235 
L 236.176325 124.139642 
L 236.404988 121.501691 
L 236.63365 120.331917 
L 236.862313 121.937651 
L 237.090975 122.235057 
L 238.005625 126.996545 
L 238.234288 126.644294 
L 238.46295 128.341857 
L 238.691613 131.586241 
L 239.834925 143.588209 
L 240.063588 141.606654 
L 241.2069 126.644294 
L 241.435563 128.073056 
L 241.664225 128.462698 
L 241.892888 129.188758 
L 242.578875 325.110865 
L 244.636838 325.110865 
L 244.8655 278.552241 
L 246.6948 278.552241 
L 247.380788 261.321469 
L 247.60945 209.941657 
L 253.09735 209.941657 
L 253.783338 388.247959 
L 254.240663 388.247959 
L 254.469325 254.513831 
L 255.383975 254.513831 
L 255.612638 245.959595 
L 257.441937 245.959595 
L 257.6706 381.221258 
L 262.24385 381.221258 
L 262.472512 345.285193 
L 263.387163 345.285193 
L 263.615825 142.905048 
L 263.844488 141.705552 
L 271.847675 141.705552 
L 272.305 113.465693 
L 272.990988 113.853627 
L 273.676975 112.138724 
L 273.905638 113.180509 
L 274.591625 111.583036 
L 274.820288 355.719449 
L 278.478888 355.719449 
L 278.70755 327.07509 
L 279.850863 327.07509 
L 280.079525 312.240949 
L 285.1101 312.240949 
L 285.796087 295.976249 
L 286.253413 295.976249 
L 286.482075 375.224914 
L 288.997363 375.224914 
L 289.226025 338.312884 
L 289.454688 338.312884 
L 289.68335 269.40485 
L 294.2566 269.40485 
L 294.485263 262.314862 
L 294.713925 262.314862 
L 295.399913 264.89806 
L 296.314563 264.89806 
L 297.00055 333.804385 
L 298.82985 333.804385 
L 299.058513 124.431793 
L 299.287175 124.455522 
L 299.515838 123.110958 
L 300.201825 122.878979 
L 300.430488 126.119285 
L 300.65915 124.397056 
L 300.887813 124.623117 
L 301.116475 124.57541 
L 301.802463 290.821341 
L 302.48845 290.821341 
L 302.717113 190.339276 
L 304.31775 190.339276 
L 305.003738 375.573152 
L 305.2324 285.221137 
L 305.461063 305.37554 
L 307.0617 305.37554 
L 307.290363 288.980547 
L 308.205013 288.980547 
L 308.433675 389.607808 
L 308.891 389.607808 
L 309.119663 206.946813 
L 310.491638 206.946813 
L 310.7203 340.223316 
L 312.320938 340.223316 
L 313.006925 113.010555 
L 313.235588 112.117031 
L 313.46425 113.221649 
L 313.692913 112.524364 
L 313.921575 113.056902 
L 314.607563 113.682376 
L 314.836225 114.329584 
L 315.064888 115.814589 
L 315.29355 115.34835 
L 315.522213 372.007258 
L 316.436863 372.007258 
L 316.665525 355.322911 
L 318.494825 355.322911 
L 318.723488 285.041702 
L 321.010113 285.041702 
L 321.238775 198.803176 
L 321.467438 198.803176 
L 321.6961 390.611505 
L 323.5254 390.611505 
L 324.211388 293.046285 
L 327.412663 293.046285 
L 327.641325 350.739643 
L 327.869988 350.739643 
L 328.09865 248.356896 
L 329.0133 248.356896 
L 329.241963 286.456388 
L 335.644513 286.456388 
L 335.873175 370.535524 
L 337.016488 370.535524 
L 337.24515 351.271576 
L 337.473813 351.271576 
L 337.702475 246.06622 
L 339.531775 246.06622 
L 340.217763 319.284684 
L 342.047063 319.284684 
L 342.504388 381.491247 
L 342.73305 389.825259 
L 343.6477 389.825259 
L 343.876363 344.640286 
L 344.333688 344.640286 
L 345.019675 174.424746 
L 345.248338 174.424746 
L 345.477 349.87867 
L 347.534963 349.87867 
L 348.22095 389.716172 
L 350.736238 389.716172 
L 351.422225 151.629411 
L 352.108213 147.421283 
L 352.336875 148.552282 
L 353.022863 147.421479 
L 353.251525 148.031972 
L 353.480188 149.564577 
L 353.70885 149.342401 
L 353.937513 149.968658 
L 354.6235 151.074416 
L 354.852163 152.470551 
L 355.080825 151.305885 
L 355.309488 348.327613 
L 357.824775 348.327613 
L 358.053438 346.636092 
L 358.2821 346.636092 
L 358.510763 248.565496 
L 358.739425 372.201744 
L 359.654075 372.201744 
L 359.882738 224.661022 
L 360.1114 224.661022 
L 360.340063 241.927667 
L 361.02605 241.927667 
L 361.254713 305.579834 
L 361.712038 305.579834 
L 361.9407 372.766939 
L 362.85535 372.766939 
L 363.084013 128.508674 
L 363.312675 128.788497 
L 363.541338 130.21653 
L 364.227325 130.814098 
L 364.455988 131.592086 
L 364.68465 132.888809 
L 364.913313 326.06916 
L 366.51395 326.06916 
L 366.742613 332.593409 
L 367.4286 332.593409 
L 367.657263 234.465755 
L 370.858538 234.465755 
L 371.0872 383.117743 
L 372.230513 383.117743 
L 372.459175 354.579615 
L 372.687838 161.186956 
L 372.9165 160.439397 
L 373.145163 161.369002 
L 373.83115 159.875264 
L 374.059813 157.297875 
L 374.288475 157.162644 
L 374.517138 157.162414 
L 374.7458 158.573636 
L 375.431788 351.778171 
L 376.346438 351.778171 
L 377.032425 389.635932 
L 380.2337 389.635932 
L 380.462363 340.877492 
L 380.691025 334.373831 
L 381.834338 334.373831 
L 382.063 263.103809 
L 382.291663 331.800609 
L 382.520325 331.800609 
L 382.748988 301.040261 
L 383.434975 164.468517 
L 383.663638 164.650485 
L 383.8923 162.15571 
L 384.120963 162.22983 
L 384.349625 163.6676 
L 385.035613 164.150524 
L 385.264275 162.953917 
L 385.492938 163.797518 
L 385.7216 165.278656 
L 385.950263 164.196122 
L 386.63625 163.528912 
L 386.864913 164.22923 
L 387.093575 164.468517 
L 387.322238 164.312872 
L 387.5509 164.316109 
L 388.236888 163.774654 
L 388.46555 164.616846 
L 388.694213 164.387697 
L 388.922875 162.66998 
L 389.151538 260.003645 
L 389.837525 264.528158 
L 392.12415 264.528158 
L 392.352813 240.676714 
L 393.0388 265.519403 
L 397.154725 265.519403 
L 397.840713 188.821429 
L 398.069375 186.0283 
L 398.5267 185.39642 
L 398.755363 183.848115 
L 399.44135 181.692149 
L 399.670013 181.515555 
L 399.898675 182.39432 
L 400.127338 181.057777 
L 400.356 182.135532 
L 401.041988 315.178382 
L 403.557275 315.178382 
L 404.243263 329.510796 
L 404.471925 329.510796 
L 404.700588 336.63252 
L 405.157913 336.63252 
L 405.8439 306.815116 
L 406.072563 226.2356 
L 409.731163 226.2356 
L 409.959825 366.260474 
L 410.874475 366.260474 
L 411.103138 357.622131 
L 411.3318 378.186196 
L 411.560463 290.564577 
L 412.24645 290.564577 
L 412.475113 170.873442 
L 412.703775 171.117376 
L 413.1611 170.556745 
L 414.07575 169.320617 
L 414.304413 170.880312 
L 414.533075 171.044798 
L 414.761738 169.946067 
L 415.447725 169.3391 
L 415.676388 168.76951 
L 415.90505 170.211026 
L 416.133713 169.740848 
L 416.362375 169.75844 
L 417.277025 171.274211 
L 417.505688 170.582847 
L 417.73435 168.972284 
L 417.963013 168.153211 
L 418.649 169.3391 
L 418.877663 166.693368 
L 419.106325 165.713431 
L 419.334988 165.748492 
L 419.56365 164.459637 
L 420.249638 328.475691 
L 423.679575 328.475691 
L 423.908238 290.032272 
L 426.652188 290.032272 
L 426.88085 266.084145 
L 427.566838 266.084145 
L 428.252825 180.189984 
L 428.938813 174.209682 
L 429.167475 175.264727 
L 429.853463 175.34909 
L 430.082125 176.580434 
L 430.310788 178.44268 
L 430.53945 178.442261 
L 430.768113 176.644973 
L 431.4541 318.684812 
L 431.682763 317.356644 
L 431.911425 317.073959 
L 432.140088 317.029938 
L 433.2834 315.805186 
L 433.512063 332.870712 
L 433.740725 332.591215 
L 433.969388 332.104968 
L 434.884038 332.338776 
L 435.1127 332.734887 
L 435.341363 332.768327 
L 435.570025 313.280683 
L 436.256013 313.660827 
L 436.484675 314.190859 
L 436.713338 314.244982 
L 437.170663 316.027032 
L 437.85665 357.342076 
L 438.085313 357.355312 
L 438.313975 357.703365 
L 439.457288 358.249393 
L 439.68595 357.412838 
L 439.914613 357.860567 
L 440.143275 357.715407 
L 440.371938 365.457879 
L 441.057925 365.113334 
L 441.286588 364.803061 
L 441.51525 364.765707 
L 441.743913 324.645849 
L 441.972575 324.713147 
L 442.658563 324.355259 
L 443.34455 328.656966 
L 443.573213 327.08114 
L 444.2592 311.665757 
L 444.716525 309.571593 
L 444.945188 309.923672 
L 445.17385 308.116843 
L 445.859838 279.602782 
L 446.0885 278.864957 
L 446.317163 278.674292 
L 446.545825 276.444993 
L 446.774488 281.909699 
L 447.460475 282.273958 
L 447.689138 280.581616 
L 447.9178 281.753684 
L 448.146463 280.377972 
L 448.375125 280.862705 
L 449.061113 324.149974 
L 449.518438 321.400104 
L 450.890413 321.400104 
L 451.119075 260.927411 
L 465.524813 260.927411 
L 465.753475 328.850465 
L 467.354113 328.921346 
L 467.582775 288.813708 
L 468.268763 286.747502 
L 468.497425 289.255033 
L 468.726088 290.191862 
L 468.95475 293.356574 
L 469.183413 352.947476 
L 469.8694 353.38599 
L 470.098063 354.147723 
L 470.555388 359.368017 
L 470.78405 358.817288 
L 471.470038 360.640178 
L 471.6987 342.609649 
L 471.927363 342.757325 
L 472.384688 341.572457 
L 473.070675 325.044316 
L 473.299338 324.662866 
L 473.528 323.633692 
L 473.756663 325.657076 
L 473.985325 325.222951 
L 474.671313 325.091866 
L 474.899975 324.248662 
L 475.128638 325.771706 
L 475.585963 326.370922 
L 476.27195 326.325756 
L 476.500613 325.719231 
L 476.729275 325.434978 
L 476.957938 365.365686 
L 477.1866 365.405568 
L 478.10125 365.174447 
L 478.787238 365.525267 
L 479.473225 353.857023 
L 479.701888 353.302566 
L 479.93055 353.489548 
L 480.159213 327.28057 
L 480.387875 327.10157 
L 481.073863 326.394322 
L 481.302525 326.424377 
L 481.531188 325.933993 
L 481.988513 326.278426 
L 482.6745 320.692268 
L 482.903163 321.330202 
L 483.131825 321.143513 
L 483.360488 321.360803 
L 483.58915 321.157225 
L 484.275138 321.276308 
L 484.5038 320.431032 
L 484.732463 380.688226 
L 485.189788 380.58806 
L 485.875775 307.565499 
L 486.104438 307.376302 
L 486.3331 307.674974 
L 486.561763 324.381112 
L 486.790425 324.139507 
L 487.705075 324.232205 
L 487.933738 356.509289 
L 488.391063 356.938464 
L 489.07705 357.180735 
L 489.534375 356.570189 
L 489.763038 356.336726 
L 489.9917 384.457394 
L 491.592338 384.493899 
L 492.278325 393.233042 
L 493.192975 393.29035 
L 494.107625 393.457895 
L 494.336288 393.532991 
L 494.56495 386.15589 
L 494.793613 386.450252 
L 496.39425 387.917072 
L 497.080238 389.49162 
L 497.3089 353.356593 
L 497.537563 360.688561 
L 497.994888 350.293414 
L 498.680875 383.73974 
L 499.1382 368.276799 
L 499.366863 360.962958 
L 499.595525 357.255008 
L 500.281513 340.336465 
L 500.510175 340.176178 
L 500.738838 340.42227 
L 501.196163 342.182657 
L 502.110813 351.658217 
L 502.339475 332.770402 
L 502.568138 333.084974 
L 502.7968 335.689258 
L 503.482788 333.67281 
L 503.71145 331.700922 
L 503.940113 332.084131 
L 504.168775 331.715265 
L 504.397438 341.985407 
L 505.083425 341.690138 
L 505.312088 343.648256 
L 505.54075 341.8299 
L 505.769413 341.439079 
L 505.998075 342.787975 
L 506.684063 344.015474 
L 506.912725 363.992245 
L 507.141388 364.719092 
L 507.598713 364.482567 
L 508.2847 365.81948 
L 508.513363 364.719092 
L 508.742025 364.488166 
L 508.970688 354.106421 
L 509.19935 355.019488 
L 509.885338 356.344059 
L 510.114 353.854504 
L 510.342663 339.399964 
L 510.571325 340.238935 
L 510.799988 340.089285 
L 511.485975 333.136325 
L 512.171963 330.455955 
L 512.400625 331.853904 
L 513.086613 332.491468 
L 513.315275 361.564505 
L 514.001263 359.559644 
L 514.68725 360.113642 
L 514.915913 361.713723 
L 515.144575 359.600943 
L 515.373238 358.708424 
L 515.6019 360.908635 
L 516.287888 361.530147 
L 516.51655 361.350475 
L 516.745213 359.046049 
L 516.973875 358.442974 
L 517.202538 358.581265 
L 517.888525 358.659852 
L 518.117188 348.983459 
L 518.34585 348.871419 
L 518.803175 351.65565 
L 519.489163 352.150162 
L 519.717825 352.070948 
L 519.946488 352.765138 
L 520.17515 334.360818 
L 520.403813 333.214188 
L 521.0898 334.730466 
L 521.318463 335.855681 
L 521.547125 335.306428 
L 521.775788 335.433384 
L 522.00445 334.141611 
L 522.690438 335.163386 
L 522.9191 339.572255 
L 523.147763 340.482985 
L 523.376425 339.937555 
L 523.605088 338.882839 
L 524.291075 338.406486 
L 524.519738 348.349312 
L 524.7484 350.567568 
L 524.977063 351.015039 
L 525.205725 348.017952 
L 525.891713 348.319863 
L 526.120375 348.908614 
L 526.349038 352.991339 
L 526.5777 354.958598 
L 526.806363 354.683835 
L 527.49235 354.094086 
L 527.949675 357.671499 
L 528.178338 376.10477 
L 528.407 375.101665 
L 529.092988 371.302645 
L 529.32165 371.289923 
L 529.550313 372.269987 
L 529.778975 347.943331 
L 530.007638 349.555524 
L 530.693625 348.937792 
L 530.922288 349.006883 
L 531.15095 350.285424 
L 531.379613 349.175751 
L 531.608275 367.715891 
L 532.294263 367.822504 
L 532.522925 368.28078 
L 532.751588 369.270729 
L 532.98025 369.062575 
L 533.208913 369.962425 
L 533.8949 369.296899 
L 534.123563 368.211148 
L 534.352225 368.573578 
L 534.580888 367.864382 
L 534.80955 357.557009 
L 535.495538 355.483169 
L 535.7242 357.849314 
L 536.181525 355.203946 
L 536.410188 353.851255 
L 537.096175 355.55168 
L 537.324838 357.719258 
L 537.5535 353.054805 
L 537.782163 352.764884 
L 538.010825 353.430633 
L 538.696813 353.000205 
L 538.925475 353.293925 
L 539.154138 355.814494 
L 539.3828 356.86283 
L 539.611463 337.438586 
L 540.29745 337.027306 
L 540.526113 338.644351 
L 540.754775 338.095913 
L 540.983438 338.447566 
L 540.983438 338.447566 
" clip-path="url(#p4b7e24a7e3)" style="fill: none; stroke: #008000; stroke-opacity: 0.7; stroke-width: 1.8; stroke-linecap: square"/>
   </g>
   <g id="line2d_33">
    <path d="M 103.323413 343.905311 
L 108.353988 343.905311 
L 108.58265 398.5 
L 114.527875 398.5 
L 114.756538 196.875697 
L 114.9852 195.05785 
L 115.442525 189.240739 
L 116.128512 186.14332 
L 116.357175 183.234765 
L 116.585837 183.234765 
L 116.8145 185.009606 
L 117.043163 185.45643 
L 117.72915 188.356351 
L 117.957813 189.875374 
L 118.186475 189.354523 
L 118.415138 317.707181 
L 118.6438 317.059817 
L 119.329788 317.617408 
L 119.55845 319.630307 
L 119.787113 202.906615 
L 120.015775 202.074943 
L 120.244438 281.582383 
L 120.930425 282.551007 
L 121.159087 282.065533 
L 121.38775 281.859283 
L 121.616413 398.5 
L 124.1317 398.5 
L 124.360363 163.361384 
L 124.589025 162.462711 
L 124.817688 200.618742 
L 125.04635 360.583388 
L 125.732337 321.164239 
L 125.961 321.762733 
L 126.189662 398.5 
L 129.848263 398.5 
L 130.53425 283.157922 
L 130.762912 283.156135 
L 130.991575 282.868544 
L 131.220237 164.273565 
L 131.4489 183.962994 
L 132.134888 398.5 
L 136.250812 398.5 
L 136.9368 218.988723 
L 137.394125 219.011537 
L 137.622788 220.106779 
L 137.85145 310.30773 
L 138.7661 313.24029 
L 138.994763 183.996871 
L 139.223425 184.333304 
L 139.452088 187.248083 
L 140.138075 192.869281 
L 140.366737 329.236425 
L 140.5954 319.593534 
L 140.824063 317.934875 
L 141.052725 315.160506 
L 141.738713 311.057556 
L 141.967375 296.273359 
L 142.196038 295.394038 
L 142.4247 306.638301 
L 142.653363 398.5 
L 145.625975 398.5 
L 145.854638 301.926092 
L 146.540625 303.475955 
L 146.769288 300.166356 
L 146.99795 303.385813 
L 147.226613 170.998658 
L 148.141263 181.467966 
L 148.369925 186.887508 
L 148.82725 202.38111 
L 149.055913 198.751071 
L 149.7419 185.949354 
L 149.970563 319.363282 
L 150.199225 318.215115 
L 150.427887 317.942847 
L 150.65655 317.386683 
L 151.342538 316.872288 
L 151.5712 318.538586 
L 152.028525 319.605896 
L 152.257188 275.738057 
L 152.943175 276.921572 
L 153.171838 278.395467 
L 153.4005 278.935565 
L 153.629163 277.284311 
L 153.857825 277.426612 
L 154.543813 278.415368 
L 154.772475 280.695752 
L 155.001138 279.963819 
L 155.458462 283.643654 
L 156.14445 283.581289 
L 156.373113 227.833102 
L 156.830438 225.232282 
L 157.0591 225.033005 
L 157.745088 225.6938 
L 158.202413 225.550853 
L 158.431075 226.034013 
L 158.659738 234.376123 
L 159.345725 235.530869 
L 159.574388 233.904778 
L 159.80305 398.5 
L 168.94955 398.5 
L 169.178213 140.590176 
L 170.550188 140.590176 
L 170.77885 153.813828 
L 171.007513 160.333749 
L 171.236175 170.96586 
L 171.464838 187.720627 
L 172.150825 191.06532 
L 172.379488 275.013613 
L 173.065475 287.136629 
L 173.980125 302.228935 
L 174.208788 285.335595 
L 174.666112 302.288995 
L 176.038088 273.468216 
L 176.26675 233.161299 
L 176.952738 317.883925 
L 177.410063 314.660032 
L 177.638725 398.5 
L 180.154013 398.5 
L 180.382675 287.523219 
L 180.611338 237.684311 
L 180.84 325.951152 
L 181.068663 324.813535 
L 181.75465 322.715578 
L 181.983313 312.364163 
L 182.211975 307.457518 
L 182.440638 307.822547 
L 182.6693 304.449974 
L 183.58395 268.661031 
L 184.041275 271.521715 
L 184.269938 275.442391 
L 184.955925 279.850034 
L 185.184588 398.5 
L 193.187775 398.5 
L 193.416438 178.497245 
L 193.873763 98.216522 
L 194.55975 63.712678 
L 195.017075 63.712678 
L 195.245738 116.820989 
L 195.4744 126.77756 
L 196.160388 142.112335 
L 196.38905 332.221706 
L 196.617713 339.737323 
L 196.846375 151.425538 
L 197.989688 174.891116 
L 198.21835 306.204425 
L 198.447013 223.554769 
L 198.675675 225.311876 
L 199.361663 274.10663 
L 200.276313 283.796521 
L 200.9623 331.402032 
L 201.190963 328.173589 
L 201.648288 325.189189 
L 201.87695 398.5 
L 204.6209 398.5 
L 204.849563 346.526861 
L 205.078225 207.76538 
L 205.764213 207.174844 
L 205.992875 317.989232 
L 206.221538 316.768808 
L 206.4502 318.034065 
L 206.678863 320.263241 
L 207.36485 320.55044 
L 207.593513 319.122664 
L 207.822175 319.477001 
L 208.050838 318.54546 
L 208.2795 316.785125 
L 208.965488 314.4773 
L 209.19415 315.637922 
L 209.422813 398.5 
L 211.480775 398.5 
L 212.166763 200.6815 
L 212.395425 204.005542 
L 212.624088 205.251036 
L 213.081413 212.760397 
L 213.7674 209.427083 
L 213.996063 207.220886 
L 214.224725 174.358014 
L 214.453388 171.930864 
L 214.68205 172.522543 
L 215.368038 178.116425 
L 215.5967 178.170515 
L 215.825363 173.926447 
L 216.054025 398.5 
L 219.483963 398.5 
L 220.16995 160.35609 
L 220.398613 157.983279 
L 220.627275 152.825461 
L 220.855938 364.75876 
L 221.0846 365.052548 
L 221.770588 371.193951 
L 221.99925 371.180386 
L 222.227913 370.35509 
L 222.685238 366.767654 
L 223.371225 364.60465 
L 223.599888 356.82204 
L 223.82855 356.054999 
L 224.057213 354.000861 
L 224.285875 350.299813 
L 224.971863 343.895421 
L 225.200525 144.915317 
L 225.65785 146.96738 
L 225.886513 148.827799 
L 226.5725 146.657185 
L 227.029825 398.5 
L 232.289063 398.5 
L 233.203713 192.966856 
L 233.432375 192.104507 
L 233.661038 192.968759 
L 233.8897 213.719822 
L 234.575688 209.180517 
L 234.80435 205.948907 
L 235.033013 204.669102 
L 235.261675 204.962805 
L 235.490338 178.470958 
L 236.176325 398.5 
L 241.892888 398.5 
L 242.578875 205.05736 
L 242.807538 203.798743 
L 243.0362 206.84638 
L 243.493525 215.817215 
L 244.179513 225.824484 
L 244.408175 227.331958 
L 244.636838 224.767597 
L 244.8655 269.114567 
L 245.094163 266.757869 
L 245.78015 261.653311 
L 246.008813 261.247234 
L 246.237475 259.960616 
L 246.466138 259.995054 
L 246.6948 258.503693 
L 247.380788 273.236111 
L 247.60945 323.91507 
L 247.838113 323.545884 
L 248.066775 324.578618 
L 248.295438 324.3362 
L 248.981425 322.733266 
L 249.896075 332.687766 
L 250.582063 334.970538 
L 250.810725 331.548906 
L 251.039388 331.613157 
L 251.26805 328.961985 
L 251.496713 324.83628 
L 252.1827 322.733266 
L 252.411363 325.463175 
L 252.640025 325.138811 
L 252.868688 325.45632 
L 253.09735 324.615923 
L 253.783338 146.123759 
L 254.012 146.69763 
L 254.240663 145.327375 
L 254.469325 278.802873 
L 254.697988 278.161091 
L 255.383975 282.380682 
L 255.612638 293.929346 
L 255.8413 296.314499 
L 256.069963 295.627423 
L 256.298625 298.011271 
L 257.213275 293.717828 
L 257.441937 292.642714 
L 257.6706 156.17742 
L 257.899263 155.218979 
L 258.58525 154.110636 
L 258.813913 156.672212 
L 259.042575 156.508592 
L 259.271238 156.192205 
L 259.4999 154.27765 
L 260.185888 154.515079 
L 260.643213 158.428494 
L 261.100538 156.408804 
L 262.015188 159.576841 
L 262.24385 158.35878 
L 262.472512 193.97903 
L 262.701175 194.180841 
L 263.387163 195.643044 
L 263.615825 398.5 
L 274.591625 398.5 
L 274.820288 154.167516 
L 275.04895 153.84543 
L 275.277613 152.171839 
L 275.506275 152.454614 
L 276.192263 148.715615 
L 276.420925 145.973329 
L 277.106913 142.507748 
L 277.7929 139.302328 
L 278.021563 145.267279 
L 278.478888 149.217063 
L 278.70755 183.007945 
L 279.393538 185.573124 
L 279.6222 185.662462 
L 279.850863 187.097376 
L 280.079525 203.526598 
L 280.308188 205.372716 
L 281.222838 210.56715 
L 281.4515 210.504475 
L 281.680163 212.068435 
L 281.908825 214.786002 
L 282.823475 209.711896 
L 283.2808 204.744438 
L 283.509463 203.490059 
L 284.19545 206.095788 
L 284.424113 206.407701 
L 284.652775 204.883944 
L 284.881438 205.086143 
L 285.796087 214.131964 
L 286.253413 205.919858 
L 286.482075 122.620849 
L 286.710738 124.877107 
L 287.396725 127.059523 
L 287.625388 129.363471 
L 287.85405 129.692671 
L 288.311375 128.784154 
L 288.997363 130.421145 
L 289.226025 165.965093 
L 289.454688 165.217928 
L 289.68335 236.912871 
L 290.826663 239.970245 
L 291.055325 238.795528 
L 291.283988 238.374214 
L 291.51265 238.905251 
L 292.198638 239.293291 
L 292.4273 240.267119 
L 292.655963 240.678186 
L 293.799275 248.227426 
L 294.027938 251.974129 
L 294.2566 252.872379 
L 294.485263 261.700494 
L 294.713925 263.952321 
L 295.399913 268.063802 
L 295.628575 267.776863 
L 296.0859 265.340388 
L 296.314563 265.481377 
L 297.00055 193.678676 
L 297.229213 191.339908 
L 297.686538 193.100572 
L 297.9152 192.402388 
L 298.82985 188.24353 
L 299.058513 398.5 
L 301.116475 398.5 
L 301.802463 236.20561 
L 302.031125 233.746459 
L 302.259788 233.541 
L 302.48845 232.315379 
L 302.717113 332.598409 
L 303.4031 331.039703 
L 303.860425 324.596155 
L 304.089088 324.001742 
L 304.31775 324.141044 
L 305.003738 136.392541 
L 305.2324 227.55198 
L 305.461063 208.431572 
L 305.689725 209.188613 
L 305.918388 212.238125 
L 307.0617 220.328887 
L 307.290363 238.034945 
L 307.519025 243.694375 
L 308.205013 244.362454 
L 308.433675 141.724271 
L 308.662338 140.953874 
L 308.891 141.834293 
L 309.119663 321.962795 
L 310.034313 314.119224 
L 310.262975 312.879517 
L 310.491638 310.46537 
L 310.7203 175.507692 
L 311.406288 173.161871 
L 311.63495 173.115663 
L 311.863613 174.067312 
L 312.320938 171.742377 
L 313.006925 398.5 
L 315.29355 398.5 
L 315.522213 143.356809 
L 316.2082 153.863323 
L 316.436863 159.267756 
L 316.665525 182.999984 
L 316.894188 181.936609 
L 317.12285 182.774784 
L 317.808838 186.444056 
L 318.0375 186.826087 
L 318.266163 186.765298 
L 318.494825 187.856159 
L 318.723488 260.629648 
L 319.409475 263.67015 
L 319.638138 262.721913 
L 319.8668 262.694478 
L 320.095463 263.964786 
L 320.324125 263.634935 
L 321.010113 264.324765 
L 321.238775 351.756991 
L 321.467438 351.111298 
L 321.6961 159.023243 
L 321.924763 158.981712 
L 322.61075 156.947855 
L 322.839413 155.242018 
L 323.068075 154.700673 
L 323.296738 156.44577 
L 323.5254 156.98474 
L 324.211388 254.689896 
L 324.44005 254.614106 
L 324.897375 258.182646 
L 325.126038 257.802965 
L 325.812025 258.45521 
L 326.040688 257.045404 
L 326.26935 260.534035 
L 326.498013 262.149963 
L 326.726675 261.883444 
L 327.412663 267.868496 
L 327.641325 207.636988 
L 327.869988 204.227696 
L 328.09865 303.657685 
L 328.327313 301.798237 
L 329.0133 297.496628 
L 329.241963 259.270807 
L 329.470625 258.110637 
L 329.92795 261.111083 
L 330.8426 263.643961 
L 331.071263 261.928453 
L 331.299925 261.802316 
L 331.528588 261.279793 
L 332.214575 261.013591 
L 332.443238 262.865119 
L 333.129225 261.279793 
L 333.815213 261.213951 
L 334.043875 260.806368 
L 334.272538 259.465091 
L 334.5012 261.689534 
L 334.729863 265.045107 
L 335.41585 263.720301 
L 335.644513 262.260507 
L 335.873175 178.918264 
L 336.101838 181.756786 
L 337.016488 186.030536 
L 337.24515 205.558928 
L 337.473813 205.125391 
L 337.702475 312.071709 
L 337.931138 311.083247 
L 338.617125 307.161133 
L 338.845788 310.219303 
L 339.07445 309.98159 
L 339.531775 312.140565 
L 340.217763 241.248542 
L 340.675088 240.291879 
L 340.90375 238.411544 
L 341.132413 234.232974 
L 342.047063 227.370936 
L 342.504388 165.262176 
L 342.73305 155.212698 
L 343.419038 151.30731 
L 343.6477 151.346334 
L 343.876363 195.574298 
L 344.105025 193.975319 
L 344.333688 193.641339 
L 345.019675 361.855665 
L 345.248338 360.537922 
L 345.477 188.401126 
L 345.705663 188.804723 
L 345.934325 191.596784 
L 346.848975 205.783973 
L 347.077638 204.184399 
L 347.3063 204.75605 
L 347.534963 204.757433 
L 348.22095 161.196051 
L 348.449613 160.111086 
L 348.678275 160.019649 
L 348.906938 158.304865 
L 349.1356 158.640598 
L 350.05025 160.277783 
L 350.278913 159.535898 
L 350.507575 161.009477 
L 350.736238 161.075889 
L 351.422225 398.5 
L 355.080825 398.5 
L 355.309488 200.982949 
L 355.53815 198.811595 
L 356.224138 195.923483 
L 356.4528 194.262408 
L 356.681463 195.158574 
L 356.910125 195.166642 
L 357.138788 194.460367 
L 357.824775 190.559977 
L 358.053438 191.471321 
L 358.2821 189.273804 
L 358.510763 285.179527 
L 358.739425 163.135518 
L 359.425413 159.949937 
L 359.654075 157.781219 
L 359.882738 304.874518 
L 360.1114 303.992304 
L 360.340063 285.729128 
L 361.02605 284.609135 
L 361.254713 220.200147 
L 361.483375 219.6131 
L 361.712038 219.986638 
L 361.9407 152.526216 
L 362.626688 152.454565 
L 362.85535 154.605742 
L 363.084013 398.5 
L 364.68465 398.5 
L 364.913313 207.162157 
L 365.141975 206.864153 
L 365.827963 206.88374 
L 366.056625 207.652389 
L 366.285288 207.938213 
L 366.51395 207.675863 
L 366.742613 202.060262 
L 367.4286 203.835983 
L 367.657263 302.994343 
L 367.885925 302.235475 
L 368.114588 300.769069 
L 368.34325 304.149851 
L 369.2579 308.528616 
L 369.486563 308.409527 
L 369.715225 309.505392 
L 369.943888 311.350642 
L 370.629875 311.455724 
L 370.858538 316.327476 
L 371.0872 170.110033 
L 371.315863 171.428189 
L 371.544525 174.030797 
L 372.230513 177.415483 
L 372.459175 206.921084 
L 372.687838 398.5 
L 374.7458 398.5 
L 375.431788 205.59684 
L 375.66045 205.641286 
L 375.889113 207.331242 
L 376.117775 206.319764 
L 376.346438 204.727304 
L 377.032425 161.795141 
L 377.718413 158.462357 
L 377.947075 156.285547 
L 378.633063 157.933529 
L 378.861725 155.999364 
L 379.090388 155.753135 
L 379.547713 162.826951 
L 380.2337 172.16029 
L 380.462363 224.526316 
L 380.691025 230.269189 
L 380.919688 232.368712 
L 381.14835 232.001602 
L 381.834338 230.019948 
L 382.063 300.782653 
L 382.291663 230.866837 
L 382.520325 230.501554 
L 382.748988 261.451327 
L 383.434975 398.5 
L 388.922875 398.5 
L 389.151538 301.747227 
L 390.066188 296.26639 
L 390.29485 296.770499 
L 390.523513 297.004142 
L 390.752175 296.005068 
L 391.895488 309.07865 
L 392.12415 317.922689 
L 392.352813 341.754079 
L 393.0388 318.249716 
L 393.267463 319.282185 
L 393.496125 318.703517 
L 393.724788 320.58438 
L 393.95345 320.029254 
L 395.096763 314.30154 
L 395.325425 315.070106 
L 395.554088 313.278506 
L 396.240075 314.831284 
L 396.926063 318.641703 
L 397.154725 321.685395 
L 397.840713 398.5 
L 400.356 398.5 
L 401.041988 265.882687 
L 401.27065 265.441712 
L 401.499313 266.054819 
L 401.727975 265.414694 
L 401.956638 263.91864 
L 402.642625 263.778013 
L 402.871288 263.26954 
L 403.328613 258.892935 
L 403.557275 259.966591 
L 404.243263 247.464927 
L 404.471925 247.144723 
L 404.700588 241.413243 
L 405.157913 243.383035 
L 405.8439 272.240266 
L 406.072563 352.323579 
L 406.529888 349.735058 
L 406.75855 349.37326 
L 407.901863 344.840057 
L 408.130525 344.733035 
L 408.359188 343.677023 
L 409.045175 343.052842 
L 409.273838 344.03879 
L 409.5025 343.069826 
L 409.731163 344.496061 
L 409.959825 204.360579 
L 410.645813 204.398684 
L 410.874475 203.108761 
L 411.103138 215.00503 
L 411.3318 194.523486 
L 411.560463 281.948196 
L 412.24645 279.292909 
L 412.475113 398.5 
L 419.56365 398.5 
L 420.249638 232.057535 
L 420.4783 233.220873 
L 421.164288 244.233991 
L 422.078938 251.547846 
L 422.536263 257.301248 
L 422.764925 263.71632 
L 423.679575 269.704927 
L 423.908238 311.132488 
L 424.1369 314.336195 
L 425.280213 294.853866 
L 425.508875 294.47479 
L 425.737538 295.23627 
L 425.9662 294.094131 
L 426.652188 292.892855 
L 426.88085 316.857553 
L 427.109513 316.843489 
L 427.338175 316.366702 
L 427.566838 316.56289 
L 428.252825 398.5 
L 430.768113 398.5 
L 431.4541 256.583023 
L 431.682763 254.221447 
L 431.911425 253.718814 
L 432.140088 253.640542 
L 432.36875 253.25043 
L 433.2834 251.462847 
L 433.512063 234.392272 
L 433.740725 233.693381 
L 433.969388 232.477509 
L 434.655375 233.06421 
L 434.884038 233.062151 
L 435.1127 234.052637 
L 435.341363 234.136256 
L 435.570025 253.531602 
L 436.256013 254.178273 
L 436.484675 255.079922 
L 436.713338 255.171991 
L 437.170663 258.203475 
L 437.85665 217.802897 
L 438.085313 217.861003 
L 438.313975 219.389073 
L 438.542638 219.799612 
L 438.7713 220.637577 
L 439.457288 221.786323 
L 439.68595 220.212177 
L 439.914613 222.154989 
L 440.143275 221.525104 
L 440.371938 214.787278 
L 441.057925 212.871622 
L 441.286588 211.146518 
L 441.51525 210.938831 
L 441.743913 250.499124 
L 443.573213 250.499124 
L 444.2592 268.517768 
L 445.17385 268.517768 
L 445.859838 299.195127 
L 446.545825 299.195127 
L 446.774488 294.563357 
L 448.375125 294.563357 
L 449.061113 252.859592 
L 450.890413 252.859592 
L 451.119075 313.332285 
L 465.524813 313.332285 
L 465.753475 245.409231 
L 467.354113 245.409231 
L 467.582775 285.175373 
L 468.95475 285.175373 
L 469.183413 227.001075 
L 471.470038 227.001075 
L 471.6987 245.364578 
L 472.384688 245.364578 
L 473.070675 259.298523 
L 474.899975 259.298523 
L 475.128638 258.992251 
L 475.585963 260.141668 
L 476.27195 260.055032 
L 476.500613 258.891593 
L 476.729275 258.346337 
L 476.957938 219.555302 
L 477.1866 219.77069 
L 478.10125 218.522499 
L 478.558575 219.55053 
L 478.787238 220.41713 
L 479.473225 233.001965 
L 479.701888 230.946511 
L 479.93055 231.63968 
L 480.159213 257.483387 
L 480.387875 257.128963 
L 481.073863 255.728589 
L 481.302525 255.788099 
L 481.531188 254.817125 
L 481.988513 255.499112 
L 482.6745 262.466554 
L 482.903163 263.581872 
L 483.131825 263.255479 
L 483.360488 263.635373 
L 483.58915 263.279452 
L 484.275138 263.487649 
L 484.5038 262.009829 
L 484.732463 202.070272 
L 485.189788 200.965627 
L 485.875775 271.519994 
L 486.104438 271.255802 
L 486.3331 271.672864 
L 486.561763 255.567439 
L 486.790425 255.101523 
L 487.476413 255.151524 
L 487.705075 255.280285 
L 487.933738 221.834126 
L 488.391063 223.639777 
L 489.07705 224.659071 
L 489.534375 222.090348 
L 489.763038 221.108107 
L 489.9917 193.316118 
L 490.677688 193.098357 
L 490.90635 194.082341 
L 491.363675 193.491014 
L 491.592338 193.849516 
L 492.278325 182.041368 
L 492.506988 181.971445 
L 492.73565 183.89024 
L 492.964313 181.903459 
L 493.192975 184.396603 
L 493.878963 186.604478 
L 494.336288 194.368531 
L 494.56495 208.222513 
L 494.793613 212.759923 
L 496.39425 235.370132 
L 497.080238 259.640905 
L 497.3089 304.33216 
L 497.994888 304.33216 
L 498.680875 265.229628 
L 499.595525 265.229628 
L 500.281513 281.259798 
L 502.110813 281.259798 
L 502.339475 298.442637 
L 503.482788 298.442637 
L 503.71145 301.502643 
L 504.168775 301.502643 
L 504.397438 290.932608 
L 506.684063 290.932608 
L 506.912725 269.804058 
L 508.742025 269.804058 
L 508.970688 281.389362 
L 510.114 281.389362 
L 510.342663 296.039001 
L 510.799988 296.039001 
L 511.485975 302.669247 
L 513.086613 302.669247 
L 513.315275 274.414563 
L 515.144575 274.414563 
L 515.373238 275.863298 
L 517.888525 275.863298 
L 518.117188 284.266692 
L 519.946488 284.266692 
L 520.17515 302.570035 
L 522.690438 302.570035 
L 522.9191 297.345804 
L 524.291075 297.345804 
L 524.519738 286.505199 
L 526.120375 286.505199 
L 526.349038 284.074761 
L 527.949675 284.074761 
L 528.178338 266.882518 
L 529.550313 266.882518 
L 529.778975 291.203332 
L 531.379613 291.203332 
L 531.608275 271.881117 
L 533.8949 271.881117 
L 534.123563 273.964057 
L 534.580888 273.964057 
L 534.80955 284.657956 
L 537.324838 284.657956 
L 537.5535 287.513059 
L 539.3828 287.513059 
L 539.611463 306.05805 
L 540.983438 306.05805 
L 540.983438 306.05805 
" clip-path="url(#p4b7e24a7e3)" style="fill: none; stroke: #ffa500; stroke-opacity: 0.7; stroke-width: 1.8; stroke-linecap: square"/>
   </g>
   <g id="patch_3">
    <path d="M 81.25 415.625 
L 81.25 35 
" style="fill: none; stroke: #000000; stroke-linejoin: miter; stroke-linecap: square"/>
   </g>
   <g id="patch_4">
    <path d="M 563.125 415.625 
L 563.125 35 
" style="fill: none; stroke: #000000; stroke-linejoin: miter; stroke-linecap: square"/>
   </g>
   <g id="patch_5">
    <path d="M 81.25 415.625 
L 563.125 415.625 
" style="fill: none; stroke: #000000; stroke-linejoin: miter; stroke-linecap: square"/>
   </g>
   <g id="patch_6">
    <path d="M 81.25 35 
L 563.125 35 
" style="fill: none; stroke: #000000; stroke-linejoin: miter; stroke-linecap: square"/>
   </g>
   <g id="text_16">
    <text style="font-size: 12px; font-family: 'DejaVu Sans', 'Liberation Sans', sans-serif; text-anchor: middle" x="322.1875" y="29" transform="rotate(-0 322.1875 29)">Evolução do Capital</text>
   </g>
   <g id="legend_1">
    <g id="patch_7">
     <path d="M 446.051562 87.034375 
L 556.125 87.034375 
Q 558.125 87.034375 558.125 85.034375 
L 558.125 42 
Q 558.125 40 556.125 40 
L 446.051562 40 
Q 444.051562 40 444.051562 42 
L 444.051562 85.034375 
Q 444.051562 87.034375 446.051562 87.034375 
z
" style="fill: #ffffff; opacity: 0.8; stroke: #cccccc; stroke-linejoin: miter"/>
    </g>
    <g id="line2d_34">
     <path d="M 448.051562 48.098438 
L 458.051562 48.098438 
L 468.051562 48.098438 
" style="fill: none; stroke: #0000ff; stroke-width: 2.2; stroke-linecap: square"/>
    </g>
    <g id="text_17">
     <text style="font-size: 10px; font-family: 'DejaVu Sans', 'Liberation Sans', sans-serif; text-anchor: start" x="476.051562" y="51.598438" transform="rotate(-0 476.051562 51.598438)">Capital Total</text>
    </g>
    <g id="line2d_35">
     <path d="M 448.051562 62.776563 
L 458.051562 62.776563 
L 468.051562 62.776563 
" style="fill: none; stroke: #008000; stroke-opacity: 0.7; stroke-width: 1.8; stroke-linecap: square"/>
    </g>
    <g id="text_18">
     <text style="font-size: 10px; font-family: 'DejaVu Sans', 'Liberation Sans', sans-serif; text-anchor: start" x="476.051562" y="66.276563" transform="rotate(-0 476.051562 66.276563)">Capital Livre</text>
    </g>
    <g id="line2d_36">
     <path d="M 448.051562 77.454688 
L 458.051562 77.454688 
L 468.051562 77.454688 
" style="fill: none; stroke: #ffa500; stroke-opacity: 0.7; stroke-width: 1.8; stroke-linecap: square"/>
    </g>
    <g id="text_19">
     <text style="font-size: 10px; font-family: 'DejaVu Sans', 'Liberation Sans', sans-serif; text-anchor: start" x="476.051562" y="80.954688" transform="rotate(-0 476.051562 80.954688)">Capital Alocado</text>
    </g>
   </g>
  </g>
  <g id="axes_2">
   <g id="patch_8">
    <path d="M 603.125 415.625 
L 1085 415.625 
L 1085 35 
L 603.125 35 
z
" style="fill: #ffffff"/>
   </g>
   <g id="matplotlib.axis_3">
    <g id="xtick_7">
     <g id="line2d_37">
      <path d="M 611.25 415.625 
L 611.25 35 
" clip-path="url(#pbfd30560b8)" style="fill: none; stroke: #b0b0b0; stroke-opacity: 0.3; stroke-width: 1.2; stroke-linecap: square"/>
     </g>
     <g id="line2d_38">
      <g>
       <use href="#me911267e3d" x="611.25" y="415.625" style="stroke: #000000"/>
      </g>
     </g>
     <g id="text_20">
      <text style="font-size: 10px; font-family: 'DejaVu Sans', 'Liberation Sans', sans-serif; text-anchor: middle" x="611.25" y="430.223438" transform="rotate(-0 611.25 430.223438)">2020</text>
     </g>
    </g>
    <g id="xtick_8">
     <g id="line2d_39">
      <path d="M 694.940475 415.625 
L 694.940475 35 
" clip-path="url(#pbfd30560b8)" style="fill: none; stroke: #b0b0b0; stroke-opacity: 0.3; stroke-width: 1.2; stroke-linecap: square"/>
     </g>
     <g id="line2d_40">
      <g>
       <use href="#me911267e3d" x="694.940475" y="415.625" style="stroke: #000000"/>
      </g>
     </g>
     <g id="text_21">
      <text style="font-size: 10px; font-family: 'DejaVu Sans', 'Liberation Sans', sans-serif; text-anchor: middle" x="694.940475" y="430.223438" transform="rotate(-0 694.940475 430.223438)">2021</text>
     </g>
    </g>
    <g id="xtick_9">
     <g id="line2d_41">
      <path d="M 778.402288 415.625 
L 778.402288 35 
" clip-path="url(#pbfd30560b8)" style="fill: none; stroke: #b0b0b0; stroke-opacity: 0.3; stroke-width: 1.2; stroke-linecap: square"/>
     </g>
     <g id="line2d_42">
      <g>
       <use href="#me911267e3d" x="778.402288" y="415.625" style="stroke: #000000"/>
      </g>
     </g>
     <g id="text_22">
      <text style="font-size: 10px; font-family: 'DejaVu Sans', 'Liberation Sans', sans-serif; text-anchor: middle" x="778.402288" y="430.223438" transform="rotate(-0 778.402288 430.223438)">2022</text>
     </g>
    </g>
    <g id="xtick_10">
     <g id="line2d_43">
      <path d="M 861.8641 415.625 
L 861.8641 35 
" clip-path="url(#pbfd30560b8)" style="fill: none; stroke: #b0b0b0; stroke-opacity: 0.3; stroke-width: 1.2; stroke-linecap: square"/>
     </g>
     <g id="line2d_44">
      <g>
       <use href="#me911267e3d" x="861.8641" y="415.625" style="stroke: #000000"/>
      </g>
     </g>
     <g id="text_23">
      <text style="font-size: 10px; font-family: 'DejaVu Sans', 'Liberation Sans', sans-serif; text-anchor: middle" x="861.8641" y="430.223438" transform="rotate(-0 861.8641 430.223438)">2023</text>
     </g>
    </g>
    <g id="xtick_11">
     <g id="line2d_45">
      <path d="M 945.325913 415.625 
L 945.325913 35 
" clip-path="url(#pbfd30560b8)" style="fill: none; stroke: #b0b0b0; stroke-opacity: 0.3; stroke-width: 1.2; stroke-linecap: square"/>
     </g>
     <g id="line2d_46">
      <g>
       <use href="#me911267e3d" x="945.325913" y="415.625" style="stroke: #000000"/>
      </g>
     </g>
     <g id="text_24">
      <text style="font-size: 10px; font-family: 'DejaVu Sans', 'Liberation Sans', sans-serif; text-anchor: middle" x="945.325913" y="430.223438" transform="rotate(-0 945.325913 430.223438)">2024</text>
     </g>
    </g>
    <g id="xtick_12">
     <g id="line2d_47">
      <path d="M 1029.016388 415.625 
L 1029.016388 35 
" clip-path="url(#pbfd30560b8)" style="fill: none; stroke: #b0b0b0; stroke-opacity: 0.3; stroke-width: 1.2; stroke-linecap: square"/>
     </g>
     <g id="line2d_48">
      <g>
       <use href="#me911267e3d" x="1029.016388" y="415.625" style="stroke: #000000"/>
      </g>
     </g>
     <g id="text_25">
      <text style="font-size: 10px; font-family: 'DejaVu Sans', 'Liberation Sans', sans-serif; text-anchor: middle" x="1029.016388" y="430.223438" transform="rotate(-0 1029.016388 430.223438)">2025</text>
     </g>
    </g>
   </g>
   <g id="matplotlib.axis_4">
    <g id="ytick_10">
     <g id="line2d_49">
      <path d="M 603.125 398.5 
L 1085 398.5 
" clip-path="url(#pbfd30560b8)" style="fill: none; stroke: #b0b0b0; stroke-opacity: 0.3; stroke-width: 1.2; stroke-linecap: square"/>
     </g>
     <g id="line2d_50">
      <g>
       <use href="#mcc44afb5ca" x="603.125" y="398.5" style="stroke: #000000"/>
      </g>
     </g>
     <g id="text_26">
      <text style="font-size: 10px; font-family: 'DejaVu Sans', 'Liberation Sans', sans-serif; text-anchor: end" x="596.125" y="402.299219" transform="rotate(-0 596.125 402.299219)">0.0</text>
     </g>
    </g>
    <g id="ytick_11">
     <g id="line2d_51">
      <path d="M 603.125 350.46875 
L 1085 350.46875 
" clip-path="url(#pbfd30560b8)" style="fill: none; stroke: #b0b0b0; stroke-opacity: 0.3; stroke-width: 1.2; stroke-linecap: square"/>
     </g>
     <g id="line2d_52">
      <g>
       <use href="#mcc44afb5ca" x="603.125" y="350.46875" style="stroke: #000000"/>
      </g>
     </g>
     <g id="text_27">
      <text style="font-size: 10px; font-family: 'DejaVu Sans', 'Liberation Sans', sans-serif; text-anchor: end" x="596.125" y="354.267969" transform="rotate(-0 596.125 354.267969)">2.5</text>
     </g>
    </g>
    <g id="ytick_12">
     <g id="line2d_53">
      <path d="M 603.125 302.4375 
L 1085 302.4375 
" clip-path="url(#pbfd30560b8)" style="fill: none; stroke: #b0b0b0; stroke-opacity: 0.3; stroke-width: 1.2; stroke-linecap: square"/>
     </g>
     <g id="line2d_54">
      <g>
       <use href="#mcc44afb5ca" x="603.125" y="302.4375" style="stroke: #000000"/>
      </g>
     </g>
     <g id="text_28">
      <text style="font-size: 10px; font-family: 'DejaVu Sans', 'Liberation Sans', sans-serif; text-anchor: end" x="596.125" y="306.236719" transform="rotate(-0 596.125 306.236719)">5.0</text>
     </g>
    </g>
    <g id="ytick_13">
     <g id="line2d_55">
      <path d="M 603.125 254.40625 
L 1085 254.40625 
" clip-path="url(#pbfd30560b8)" style="fill: none; stroke: #b0b0b0; stroke-opacity: 0.3; stroke-width: 1.2; stroke-linecap: square"/>
     </g>
     <g id="line2d_56">
      <g>
       <use href="#mcc44afb5ca" x="603.125" y="254.40625" style="stroke: #000000"/>
      </g>
     </g>
     <g id="text_29">
      <text style="font-size: 10px; font-family: 'DejaVu Sans', 'Liberation Sans', sans-serif; text-anchor: end" x="596.125" y="258.205469" transform="rotate(-0 596.125 258.205469)">7.5</text>
     </g>
    </g>
    <g id="ytick_14">
     <g id="line2d_57">
      <path d="M 603.125 206.375 
L 1085 206.375 
" clip-path="url(#pbfd30560b8)" style="fill: none; stroke: #b0b0b0; stroke-opacity: 0.3; stroke-width: 1.2; stroke-linecap: square"/>
     </g>
     <g id="line2d_58">
      <g>
       <use href="#mcc44afb5ca" x="603.125" y="206.375" style="stroke: #000000"/>
      </g>
     </g>
     <g id="text_30">
      <text style="font-size: 10px; font-family: 'DejaVu Sans', 'Liberation Sans', sans-serif; text-anchor: end" x="596.125" y="210.174219" transform="rotate(-0 596.125 210.174219)">10.0</text>
     </g>
    </g>
    <g id="ytick_15">
     <g id="line2d_59">
      <path d="M 603.125 158.34375 
L 1085 158.34375 
" clip-path="url(#pbfd30560b8)" style="fill: none; stroke: #b0b0b0; stroke-opacity: 0.3; stroke-width: 1.2; stroke-linecap: square"/>
     </g>
     <g id="line2d_60">
      <g>
       <use href="#mcc44afb5ca" x="603.125" y="158.34375" style="stroke: #000000"/>
      </g>
     </g>
     <g id="text_31">
      <text style="font-size: 10px; font-family: 'DejaVu Sans', 'Liberation Sans', sans-serif; text-anchor: end" x="596.125" y="162.142969" transform="rotate(-0 596.125 162.142969)">12.5</text>
     </g>
    </g>
    <g id="ytick_16">
     <g id="line2d_61">
      <path d="M 603.125 110.3125 
L 1085 110.3125 
" clip-path="url(#pbfd30560b8)" style="fill: none; stroke: #b0b0b0; stroke-opacity: 0.3; stroke-width: 1.2; stroke-linecap: square"/>
     </g>
     <g id="line2d_62">
      <g>
       <use href="#mcc44afb5ca" x="603.125" y="110.3125" style="stroke: #000000"/>
      </g>
     </g>
     <g id="text_32">
      <text style="font-size: 10px; font-family: 'DejaVu Sans', 'Liberation Sans', sans-serif; text-anchor: end" x="596.125" y="114.111719" transform="rotate(-0 596.125 114.111719)">15.0</text>
     </g>
    </g>
    <g id="ytick_17">
     <g id="line2d_63">
      <path d="M 603.125 62.28125 
L 1085 62.28125 
" clip-path="url(#pbfd30560b8)" style="fill: none; stroke: #b0b0b0; stroke-opacity: 0.3; stroke-width: 1.2; stroke-linecap: square"/>
     </g>
     <g id="line2d_64">
      <g>
       <use href="#mcc44afb5ca" x="603.125" y="62.28125" style="stroke: #000000"/>
      </g>
     </g>
     <g id="text_33">
      <text style="font-size: 10px; font-family: 'DejaVu Sans', 'Liberation Sans', sans-serif; text-anchor: end" x="596.125" y="66.080469" transform="rotate(-0 596.125 66.080469)">17.5</text>
     </g>
    </g>
   </g>
   <g id="line2d_65">
    <path d="M 625.198413 379.2875 
L 629.314337 379.2875 
L 630.000325 321.65 
L 632.28695 321.65 
L 632.515612 379.2875 
L 633.2016 379.2875 
L 633.430263 398.5 
L 637.317525 398.5 
L 638.003513 360.075 
L 640.061475 360.075 
L 640.290138 283.225 
L 642.805425 283.225 
L 643.034088 360.075 
L 644.406062 360.075 
L 644.634725 398.5 
L 646.464025 398.5 
L 646.692688 379.2875 
L 646.92135 379.2875 
L 647.607337 398.5 
L 648.521988 398.5 
L 649.207975 379.2875 
L 649.436637 379.2875 
L 649.6653 398.5 
L 650.122625 398.5 
L 650.808612 379.2875 
L 651.723263 379.2875 
L 652.40925 398.5 
L 653.3239 398.5 
L 654.009887 340.8625 
L 655.839187 340.8625 
L 656.06785 398.5 
L 658.125813 398.5 
L 658.8118 360.075 
L 659.72645 360.075 
L 660.412438 321.65 
L 662.013075 321.65 
L 662.241737 302.4375 
L 664.528362 302.4375 
L 665.21435 360.075 
L 666.129 360.075 
L 666.814988 398.5 
L 667.729637 398.5 
L 668.415625 110.3125 
L 670.016263 110.3125 
L 670.244925 129.525 
L 670.930912 129.525 
L 671.6169 167.95 
L 672.53155 167.95 
L 673.217538 225.5875 
L 674.132187 225.5875 
L 674.818175 321.65 
L 675.732825 321.65 
L 676.418813 340.8625 
L 677.333462 340.8625 
L 678.01945 302.4375 
L 678.9341 302.4375 
L 679.620087 340.8625 
L 680.534738 340.8625 
L 681.220725 360.075 
L 683.050025 360.075 
L 683.278688 398.5 
L 687.851938 398.5 
L 688.0806 360.075 
L 689.9099 360.075 
L 690.138563 340.8625 
L 692.425187 340.8625 
L 692.65385 398.5 
L 694.940475 398.5 
L 695.626463 321.65 
L 697.684425 321.65 
L 697.913088 302.4375 
L 700.428375 302.4375 
L 700.657038 360.075 
L 702.943663 360.075 
L 703.62965 398.5 
L 705.687613 398.5 
L 705.916275 283.225 
L 707.745575 283.225 
L 708.431563 398.5 
L 710.94685 398.5 
L 711.632838 360.075 
L 713.462138 360.075 
L 713.6908 398.5 
L 716.663413 398.5 
L 716.892075 302.4375 
L 717.3494 302.4375 
L 718.035388 283.225 
L 719.864688 283.225 
L 720.09335 244.8 
L 720.322013 244.8 
L 720.550675 187.1625 
L 722.151313 187.1625 
L 722.8373 283.225 
L 723.75195 283.225 
L 724.437937 302.4375 
L 725.123925 302.4375 
L 725.352588 283.225 
L 726.724563 283.225 
L 726.953225 360.075 
L 729.23985 360.075 
L 729.468512 379.2875 
L 731.755138 379.2875 
L 732.441125 398.5 
L 735.6424 398.5 
L 735.871062 340.8625 
L 738.157688 340.8625 
L 738.843675 360.075 
L 740.672975 360.075 
L 740.901637 379.2875 
L 742.9596 379.2875 
L 743.645588 360.075 
L 744.560238 360.075 
L 745.246225 379.2875 
L 746.160875 379.2875 
L 746.846863 360.075 
L 747.075525 360.075 
L 747.304188 379.2875 
L 747.53285 379.2875 
L 747.761512 360.075 
L 748.4475 379.2875 
L 748.676163 379.2875 
L 748.904825 360.075 
L 749.133488 360.075 
L 749.36215 379.2875 
L 750.048138 360.075 
L 750.2768 360.075 
L 750.505463 379.2875 
L 750.734125 379.2875 
L 750.962787 360.075 
L 751.648775 379.2875 
L 751.877438 379.2875 
L 752.1061 360.075 
L 752.334763 360.075 
L 752.563425 379.2875 
L 754.164062 379.2875 
L 754.85005 398.5 
L 756.450688 398.5 
L 756.67935 321.65 
L 757.365338 321.65 
L 758.051325 302.4375 
L 759.651963 302.4375 
L 759.880625 360.075 
L 761.709925 360.075 
L 761.938588 398.5 
L 764.453875 398.5 
L 764.682538 321.65 
L 766.969163 321.65 
L 767.65515 225.5875 
L 768.112475 225.5875 
L 768.341138 302.4375 
L 768.5698 302.4375 
L 769.255787 244.8 
L 770.170438 244.8 
L 770.856425 302.4375 
L 771.771075 302.4375 
L 772.457063 167.95 
L 772.685725 167.95 
L 772.914387 52.675 
L 774.743688 52.675 
L 774.97235 71.8875 
L 775.887 71.8875 
L 776.115663 167.95 
L 776.344325 167.95 
L 776.572988 283.225 
L 777.487638 283.225 
L 777.7163 379.2875 
L 780.688913 379.2875 
L 780.917575 360.075 
L 782.746875 360.075 
L 782.975537 379.2875 
L 785.94815 379.2875 
L 786.176813 398.5 
L 794.865988 398.5 
L 795.09465 321.65 
L 797.381275 321.65 
L 798.067262 264.0125 
L 800.125225 264.0125 
L 800.353888 321.65 
L 801.4972 321.65 
L 801.725863 360.075 
L 805.384463 360.075 
L 806.07045 302.4375 
L 807.89975 302.4375 
L 808.128413 225.5875 
L 808.585738 225.5875 
L 809.271725 167.95 
L 810.186375 167.95 
L 810.872363 110.3125 
L 814.073638 110.3125 
L 814.3023 244.8 
L 814.759625 244.8 
L 814.988288 283.225 
L 815.674275 283.225 
L 815.902938 206.375 
L 816.360263 206.375 
L 816.588925 71.8875 
L 818.189563 71.8875 
L 818.87555 110.3125 
L 819.332875 110.3125 
L 819.561537 244.8 
L 819.7902 244.8 
L 820.476188 340.8625 
L 822.076825 340.8625 
L 822.305488 379.2875 
L 823.677463 379.2875 
L 823.906125 398.5 
L 826.19275 398.5 
L 826.878738 379.2875 
L 828.9367 379.2875 
L 829.165363 360.075 
L 830.537338 360.075 
L 830.766 283.225 
L 831.909313 283.225 
L 832.137975 340.8625 
L 834.195938 340.8625 
L 834.881925 398.5 
L 836.711225 398.5 
L 836.939888 340.8625 
L 838.99785 340.8625 
L 839.683837 302.4375 
L 841.513138 302.4375 
L 841.7418 340.8625 
L 841.970463 340.8625 
L 842.199125 321.65 
L 843.113775 321.65 
L 843.342438 340.8625 
L 843.799763 340.8625 
L 844.48575 321.65 
L 845.171738 321.65 
L 845.4004 340.8625 
L 847.687025 340.8625 
L 847.915688 360.075 
L 849.287663 360.075 
L 849.516325 244.8 
L 852.946263 244.8 
L 853.174925 283.225 
L 854.5469 283.225 
L 854.775563 340.8625 
L 855.690213 340.8625 
L 855.918875 360.075 
L 858.2055 360.075 
L 858.891488 321.65 
L 860.94945 321.65 
L 861.178112 340.8625 
L 861.406775 340.8625 
L 862.092763 302.4375 
L 862.550088 302.4375 
L 862.77875 360.075 
L 864.60805 360.075 
L 865.294038 148.7375 
L 866.208687 148.7375 
L 866.894675 167.95 
L 869.409963 167.95 
L 870.09595 244.8 
L 870.781938 244.8 
L 871.0106 379.2875 
L 871.92525 379.2875 
L 872.153913 398.5 
L 872.611238 398.5 
L 873.297225 340.8625 
L 875.126525 340.8625 
L 875.355188 398.5 
L 876.4985 398.5 
L 876.727163 379.2875 
L 877.184488 379.2875 
L 877.41315 360.075 
L 879.013788 360.075 
L 879.699775 379.2875 
L 882.90105 379.2875 
L 883.129713 360.075 
L 883.8157 360.075 
L 884.501688 379.2875 
L 887.016975 379.2875 
L 887.702963 398.5 
L 889.760925 398.5 
L 889.989588 379.2875 
L 891.818888 379.2875 
L 892.504875 340.8625 
L 895.020163 340.8625 
L 895.70615 379.2875 
L 896.6208 379.2875 
L 897.306788 398.5 
L 897.53545 398.5 
L 897.764113 340.8625 
L 899.136088 340.8625 
L 899.36475 264.0125 
L 900.736725 264.0125 
L 900.965388 302.4375 
L 902.794688 302.4375 
L 903.02335 340.8625 
L 905.538638 340.8625 
L 905.7673 360.075 
L 906.910613 360.075 
L 907.139275 398.5 
L 911.712525 398.5 
L 911.941188 302.4375 
L 912.16985 302.4375 
L 912.398513 264.0125 
L 913.770488 264.0125 
L 913.99915 283.225 
L 915.371125 283.225 
L 915.599788 167.95 
L 916.971763 167.95 
L 917.200425 225.5875 
L 918.5724 225.5875 
L 918.801063 302.4375 
L 920.630363 302.4375 
L 921.31635 398.5 
L 923.831638 398.5 
L 924.517625 302.4375 
L 926.346925 302.4375 
L 926.575587 321.65 
L 928.63355 321.65 
L 929.319538 340.8625 
L 931.606162 340.8625 
L 931.834825 321.65 
L 934.350113 321.65 
L 934.578775 340.8625 
L 936.636737 340.8625 
L 937.322725 398.5 
L 943.725275 398.5 
L 943.953938 187.1625 
L 946.92655 187.1625 
L 947.155213 283.225 
L 947.8412 283.225 
L 948.527188 302.4375 
L 948.984513 302.4375 
L 949.213175 340.8625 
L 949.441838 340.8625 
L 950.127825 398.5 
L 954.24375 398.5 
L 954.929738 283.225 
L 955.1584 283.225 
L 955.387063 225.5875 
L 957.445025 225.5875 
L 958.131012 264.0125 
L 959.045663 264.0125 
L 959.73165 167.95 
L 961.56095 167.95 
L 961.789613 206.375 
L 962.246938 206.375 
L 962.932925 244.8 
L 963.161587 244.8 
L 963.39025 302.4375 
L 967.04885 302.4375 
L 967.734838 321.65 
L 968.420825 321.65 
L 968.649488 340.8625 
L 970.021463 340.8625 
L 970.250125 360.075 
L 990.372425 360.075 
L 990.601088 340.8625 
L 991.058413 340.8625 
L 991.7444 302.4375 
L 995.631663 302.4375 
L 995.860325 321.65 
L 997.2323 321.65 
L 997.460963 340.8625 
L 999.747588 340.8625 
L 999.97625 360.075 
L 1002.262875 360.075 
L 1002.948863 264.0125 
L 1005.006825 264.0125 
L 1005.235488 360.075 
L 1007.750775 360.075 
L 1007.979438 244.8 
L 1010.266063 244.8 
L 1010.95205 360.075 
L 1011.8667 360.075 
L 1012.552688 91.1 
L 1013.467338 91.1 
L 1014.153325 225.5875 
L 1015.067975 225.5875 
L 1015.753963 206.375 
L 1017.583263 206.375 
L 1017.811925 148.7375 
L 1018.26925 148.7375 
L 1018.955238 129.525 
L 1019.641225 129.525 
L 1019.869888 167.95 
L 1020.784538 167.95 
L 1021.0132 225.5875 
L 1023.071163 225.5875 
L 1023.75715 187.1625 
L 1024.6718 187.1625 
L 1025.357788 340.8625 
L 1027.187087 340.8625 
L 1027.41575 360.075 
L 1028.559062 360.075 
L 1028.787725 340.8625 
L 1030.1597 340.8625 
L 1030.388363 360.075 
L 1032.217663 360.075 
L 1032.446325 187.1625 
L 1033.360975 187.1625 
L 1033.589638 167.95 
L 1034.275625 167.95 
L 1034.961613 110.3125 
L 1036.56225 110.3125 
L 1036.790913 225.5875 
L 1039.077538 225.5875 
L 1039.763525 264.0125 
L 1041.821488 264.0125 
L 1042.05015 302.4375 
L 1043.422125 302.4375 
L 1043.650788 244.8 
L 1043.87945 244.8 
L 1044.565438 167.95 
L 1046.394738 167.95 
L 1046.6234 264.0125 
L 1048.681362 264.0125 
L 1049.36735 302.4375 
L 1050.282 302.4375 
L 1050.967988 244.8 
L 1051.882638 244.8 
L 1052.568625 302.4375 
L 1053.483275 302.4375 
L 1054.169263 321.65 
L 1055.998563 321.65 
L 1056.227225 360.075 
L 1059.657163 360.075 
L 1059.885825 302.4375 
L 1061.2578 302.4375 
L 1061.486463 283.225 
L 1062.17245 283.225 
L 1062.401113 340.8625 
L 1062.858438 340.8625 
L 1062.858438 340.8625 
" clip-path="url(#pbfd30560b8)" style="fill: none; stroke: #800080; stroke-width: 1.5; stroke-linecap: square"/>
   </g>
   <g id="patch_9">
    <path d="M 603.125 415.625 
L 603.125 35 
" style="fill: none; stroke: #000000; stroke-linejoin: miter; stroke-linecap: square"/>
   </g>
   <g id="patch_10">
    <path d="M 1085 415.625 
L 1085 35 
" style="fill: none; stroke: #000000; stroke-linejoin: miter; stroke-linecap: square"/>
   </g>
   <g id="patch_11">
    <path d="M 603.125 415.625 
L 1085 415.625 
" style="fill: none; stroke: #000000; stroke-linejoin: miter; stroke-linecap: square"/>
   </g>
   <g id="patch_12">
    <path d="M 603.125 35 
L 1085 35 
" style="fill: none; stroke: #000000; stroke-linejoin: miter; stroke-linecap: square"/>
   </g>
   <g id="text_34">
    <text style="font-size: 12px; font-family: 'DejaVu Sans', 'Liberation Sans', sans-serif; text-anchor: middle" x="844.0625" y="29" transform="rotate(-0 844.0625 29)">Número de Posições Abertas</text>
   </g>
   <g id="legend_2">
    <g id="patch_13">
     <path d="M 961.357813 57.696875 
L 1078 57.696875 
Q 1080 57.696875 1080 55.696875 
L 1080 42 
Q 1080 40 1078 40 
L 961.357813 40 
Q 959.357813 40 959.357813 42 
L 959.357813 55.696875 
Q 959.357813 57.696875 961.357813 57.696875 
z
" style="fill: #ffffff; opacity: 0.8; stroke: #cccccc; stroke-linejoin: miter"/>
    </g>
    <g id="line2d_66">
     <path d="M 963.357813 48.117188 
L 973.357813 48.117188 
L 983.357813 48.117188 
" style="fill: none; stroke: #800080; stroke-width: 1.5; stroke-linecap: square"/>
    </g>
    <g id="text_35">
     <text style="font-size: 10px; font-family: 'DejaVu Sans', 'Liberation Sans', sans-serif; text-anchor: start" x="991.357813" y="51.617188" transform="rotate(-0 991.357813 51.617188)">Posições Abertas</text>
    </g>
   </g>
  </g>
  <g id="axes_3">
   <g id="patch_14">
    <path d="M 81.25 838.625 
L 563.125 838.625 
L 563.125 458.375 
L 81.25 458.375 
z
" style="fill: #ffffff"/>
   </g>
   <g id="matplotlib.axis_5">
    <g id="xtick_13">
     <g id="line2d_67">
      <path d="M 89.375 838.625 
L 89.375 458.375 
" clip-path="url(#pbc6b674ccd)" style="fill: none; stroke: #b0b0b0; stroke-opacity: 0.3; stroke-width: 1.2; stroke-linecap: square"/>
     </g>
     <g id="line2d_68">
      <g>
       <use href="#me911267e3d" x="89.375" y="838.625" style="stroke: #000000"/>
      </g>
     </g>
     <g id="text_36">
      <text style="font-size: 10px; font-family: 'DejaVu Sans', 'Liberation Sans', sans-serif; text-anchor: middle" x="89.375" y="853.223438" transform="rotate(-0 89.375 853.223438)">2020</text>
     </g>
    </g>
    <g id="xtick_14">
     <g id="line2d_69">
      <path d="M 173.065475 838.625 
L 173.065475 458.375 
" clip-path="url(#pbc6b674ccd)" style="fill: none; stroke: #b0b0b0; stroke-opacity: 0.3; stroke-width: 1.2; stroke-linecap: square"/>
     </g>
     <g id="line2d_70">
      <g>
       <use href="#me911267e3d" x="173.065475" y="838.625" style="stroke: #000000"/>
      </g>
     </g>
     <g id="text_37">
      <text style="font-size: 10px; font-family: 'DejaVu Sans', 'Liberation Sans', sans-serif; text-anchor: middle" x="173.065475" y="853.223438" transform="rotate(-0 173.065475 853.223438)">2021</text>
     </g>
    </g>
    <g id="xtick_15">
     <g id="line2d_71">
      <path d="M 256.527288 838.625 
L 256.527288 458.375 
" clip-path="url(#pbc6b674ccd)" style="fill: none; stroke: #b0b0b0; stroke-opacity: 0.3; stroke-width: 1.2; stroke-linecap: square"/>
     </g>
     <g id="line2d_72">
      <g>
       <use href="#me911267e3d" x="256.527288" y="838.625" style="stroke: #000000"/>
      </g>
     </g>
     <g id="text_38">
      <text style="font-size: 10px; font-family: 'DejaVu Sans', 'Liberation Sans', sans-serif; text-anchor: middle" x="256.527288" y="853.223438" transform="rotate(-0 256.527288 853.223438)">2022</text>
     </g>
    </g>
    <g id="xtick_16">
     <g id="line2d_73">
      <path d="M 339.9891 838.625 
L 339.9891 458.375 
" clip-path="url(#pbc6b674ccd)" style="fill: none; stroke: #b0b0b0; stroke-opacity: 0.3; stroke-width: 1.2; stroke-linecap: square"/>
     </g>
     <g id="line2d_74">
      <g>
       <use href="#me911267e3d" x="339.9891" y="838.625" style="stroke: #000000"/>
      </g>
     </g>
     <g id="text_39">
      <text style="font-size: 10px; font-family: 'DejaVu Sans', 'Liberation Sans', sans-serif; text-anchor: middle" x="339.9891" y="853.223438" transform="rotate(-0 339.9891 853.223438)">2023</text>
     </g>
    </g>
    <g id="xtick_17">
     <g id="line2d_75">
      <path d="M 423.450913 838.625 
L 423.450913 458.375 
" clip-path="url(#pbc6b674ccd)" style="fill: none; stroke: #b0b0b0; stroke-opacity: 0.3; stroke-width: 1.2; stroke-linecap: square"/>
     </g>
     <g id="line2d_76">
      <g>
       <use href="#me911267e3d" x="423.450913" y="838.625" style="stroke: #000000"/>
      </g>
     </g>
     <g id="text_40">
      <text style="font-size: 10px; font-family: 'DejaVu Sans', 'Liberation Sans', sans-serif; text-anchor: middle" x="423.450913" y="853.223438" transform="rotate(-0 423.450913 853.223438)">2024</text>
     </g>
    </g>
    <g id="xtick_18">
     <g id="line2d_77">
      <path d="M 507.141388 838.625 
L 507.141388 458.375 
" clip-path="url(#pbc6b674ccd)" style="fill: none; stroke: #b0b0b0; stroke-opacity: 0.3; stroke-width: 1.2; stroke-linecap: square"/>
     </g>
     <g id="line2d_78">
      <g>
       <use href="#me911267e3d" x="507.141388" y="838.625" style="stroke: #000000"/>
      </g>
     </g>
     <g id="text_41">
      <text style="font-size: 10px; font-family: 'DejaVu Sans', 'Liberation Sans', sans-serif; text-anchor: middle" x="507.141388" y="853.223438" transform="rotate(-0 507.141388 853.223438)">2025</text>
     </g>
    </g>
   </g>
   <g id="matplotlib.axis_6">
    <g id="ytick_18">
     <g id="line2d_79">
      <path d="M 81.25 831.125 
L 563.125 831.125 
" clip-path="url(#pbc6b674ccd)" style="fill: none; stroke: #b0b0b0; stroke-opacity: 0.3; stroke-width: 1.2; stroke-linecap: square"/>
     </g>
     <g id="line2d_80">
      <g>
       <use href="#mcc44afb5ca" x="81.25" y="831.125" style="stroke: #000000"/>
      </g>
     </g>
     <g id="text_42">
      <text style="font-size: 10px; font-family: 'DejaVu Sans', 'Liberation Sans', sans-serif; text-anchor: end" x="74.25" y="834.924219" transform="rotate(-0 74.25 834.924219)">−20</text>
     </g>
    </g>
    <g id="ytick_19">
     <g id="line2d_81">
      <path d="M 81.25 787.21875 
L 563.125 787.21875 
" clip-path="url(#pbc6b674ccd)" style="fill: none; stroke: #b0b0b0; stroke-opacity: 0.3; stroke-width: 1.2; stroke-linecap: square"/>
     </g>
     <g id="line2d_82">
      <g>
       <use href="#mcc44afb5ca" x="81.25" y="787.21875" style="stroke: #000000"/>
      </g>
     </g>
     <g id="text_43">
      <text style="font-size: 10px; font-family: 'DejaVu Sans', 'Liberation Sans', sans-serif; text-anchor: end" x="74.25" y="791.017969" transform="rotate(-0 74.25 791.017969)">−15</text>
     </g>
    </g>
    <g id="ytick_20">
     <g id="line2d_83">
      <path d="M 81.25 743.3125 
L 563.125 743.3125 
" clip-path="url(#pbc6b674ccd)" style="fill: none; stroke: #b0b0b0; stroke-opacity: 0.3; stroke-width: 1.2; stroke-linecap: square"/>
     </g>
     <g id="line2d_84">
      <g>
       <use href="#mcc44afb5ca" x="81.25" y="743.3125" style="stroke: #000000"/>
      </g>
     </g>
     <g id="text_44">
      <text style="font-size: 10px; font-family: 'DejaVu Sans', 'Liberation Sans', sans-serif; text-anchor: end" x="74.25" y="747.111719" transform="rotate(-0 74.25 747.111719)">−10</text>
     </g>
    </g>
    <g id="ytick_21">
     <g id="line2d_85">
      <path d="M 81.25 699.40625 
L 563.125 699.40625 
" clip-path="url(#pbc6b674ccd)" style="fill: none; stroke: #b0b0b0; stroke-opacity: 0.3; stroke-width: 1.2; stroke-linecap: square"/>
     </g>
     <g id="line2d_86">
      <g>
       <use href="#mcc44afb5ca" x="81.25" y="699.40625" style="stroke: #000000"/>
      </g>
     </g>
     <g id="text_45">
      <text style="font-size: 10px; font-family: 'DejaVu Sans', 'Liberation Sans', sans-serif; text-anchor: end" x="74.25" y="703.205469" transform="rotate(-0 74.25 703.205469)">−5</text>
     </g>
    </g>
    <g id="ytick_22">
     <g id="line2d_87">
      <path d="M 81.25 655.5 
L 563.125 655.5 
" clip-path="url(#pbc6b674ccd)" style="fill: none; stroke: #b0b0b0; stroke-opacity: 0.3; stroke-width: 1.2; stroke-linecap: square"/>
     </g>
     <g id="line2d_88">
      <g>
       <use href="#mcc44afb5ca" x="81.25" y="655.5" style="stroke: #000000"/>
      </g>
     </g>
     <g id="text_46">
      <text style="font-size: 10px; font-family: 'DejaVu Sans', 'Liberation Sans', sans-serif; text-anchor: end" x="74.25" y="659.299219" transform="rotate(-0 74.25 659.299219)">0</text>
     </g>
    </g>
    <g id="ytick_23">
     <g id="line2d_89">
      <path d="M 81.25 611.59375 
L 563.125 611.59375 
" clip-path="url(#pbc6b674ccd)" style="fill: none; stroke: #b0b0b0; stroke-opacity: 0.3; stroke-width: 1.2; stroke-linecap: square"/>
     </g>
     <g id="line2d_90">
      <g>
       <use href="#mcc44afb5ca" x="81.25" y="611.59375" style="stroke: #000000"/>
      </g>
     </g>
     <g id="text_47">
      <text style="font-size: 10px; font-family: 'DejaVu Sans', 'Liberation Sans', sans-serif; text-anchor: end" x="74.25" y="615.392969" transform="rotate(-0 74.25 615.392969)">5</text>
     </g>
    </g>
    <g id="ytick_24">
     <g id="line2d_91">
      <path d="M 81.25 567.6875 
L 563.125 567.6875 
" clip-path="url(#pbc6b674ccd)" style="fill: none; stroke: #b0b0b0; stroke-opacity: 0.3; stroke-width: 1.2; stroke-linecap: square"/>
     </g>
     <g id="line2d_92">
      <g>
       <use href="#mcc44afb5ca" x="81.25" y="567.6875" style="stroke: #000000"/>
      </g>
     </g>
     <g id="text_48">
      <text style="font-size: 10px; font-family: 'DejaVu Sans', 'Liberation Sans', sans-serif; text-anchor: end" x="74.25" y="571.486719" transform="rotate(-0 74.25 571.486719)">10</text>
     </g>
    </g>
    <g id="ytick_25">
     <g id="line2d_93">
      <path d="M 81.25 523.78125 
L 563.125 523.78125 
" clip-path="url(#pbc6b674ccd)" style="fill: none; stroke: #b0b0b0; stroke-opacity: 0.3; stroke-width: 1.2; stroke-linecap: square"/>
     </g>
     <g id="line2d_94">
      <g>
       <use href="#mcc44afb5ca" x="81.25" y="523.78125" style="stroke: #000000"/>
      </g>
     </g>
     <g id="text_49">
      <text style="font-size: 10px; font-family: 'DejaVu Sans', 'Liberation Sans', sans-serif; text-anchor: end" x="74.25" y="527.580469" transform="rotate(-0 74.25 527.580469)">15</text>
     </g>
    </g>
    <g id="ytick_26">
     <g id="line2d_95">
      <path d="M 81.25 479.875 
L 563.125 479.875 
" clip-path="url(#pbc6b674ccd)" style="fill: none; stroke: #b0b0b0; stroke-opacity: 0.3; stroke-width: 1.2; stroke-linecap: square"/>
     </g>
     <g id="line2d_96">
      <g>
       <use href="#mcc44afb5ca" x="81.25" y="479.875" style="stroke: #000000"/>
      </g>
     </g>
     <g id="text_50">
      <text style="font-size: 10px; font-family: 'DejaVu Sans', 'Liberation Sans', sans-serif; text-anchor: end" x="74.25" y="483.674219" transform="rotate(-0 74.25 483.674219)">20</text>
     </g>
    </g>
   </g>
   <g id="line2d_97">
    <path d="M 81.25 655.5 
L 563.125 655.5 
" clip-path="url(#pbc6b674ccd)" style="fill: none; stroke-dasharray: 5.55,2.4; stroke-dashoffset: 0; stroke: #ff0000; stroke-opacity: 0.5; stroke-width: 1.5"/>
   </g>
   <g id="patch_15">
    <path d="M 81.25 838.625 
L 81.25 458.375 
" style="fill: none; stroke: #000000; stroke-linejoin: miter; stroke-linecap: square"/>
   </g>
   <g id="patch_16">
    <path d="M 563.125 838.625 
L 563.125 458.375 
" style="fill: none; stroke: #000000; stroke-linejoin: miter; stroke-linecap: square"/>
   </g>
   <g id="patch_17">
    <path d="M 81.25 838.625 
L 563.125 838.625 
" style="fill: none; stroke: #000000; stroke-linejoin: miter; stroke-linecap: square"/>
   </g>
   <g id="patch_18">
    <path d="M 81.25 458.375 
L 563.125 458.375 
" style="fill: none; stroke: #000000; stroke-linejoin: miter; stroke-linecap: square"/>
   </g>
   <g id="line2d_98">
    <path d="M 103.323413 650.129485 
L 103.552075 662.243267 
L 103.780738 652.868538 
L 104.0094 652.459474 
L 104.238062 648.761755 
L 104.92405 648.329101 
L 105.152713 669.856353 
L 105.381375 629.15625 
L 105.610038 658.58997 
L 105.8387 656.163488 
L 106.524687 650.514212 
L 106.75335 654.757586 
L 106.982012 673.0625 
L 107.210675 650.168213 
L 107.439338 650.310743 
L 108.125325 661.689275 
L 108.353988 650.156169 
L 108.58265 662.413093 
L 108.811312 652.788483 
L 109.039975 649.212812 
L 109.725963 664.68293 
L 109.954625 646.230632 
L 110.183288 642.244166 
L 110.640613 664.616018 
L 111.3266 652.171977 
L 111.555262 655.5 
L 113.613225 655.5 
L 113.841888 650.779874 
L 114.527875 655.5 
L 114.756538 655.5 
L 114.9852 630.034375 
L 115.213863 655.5 
L 115.442525 654.315259 
L 116.128512 683.6 
L 116.585837 660.384227 
L 116.8145 658.330324 
L 117.043163 654.724286 
L 117.72915 654.406047 
L 117.957813 655.376885 
L 118.186475 655.590799 
L 118.415138 657.153459 
L 118.6438 655.450325 
L 119.329788 651.505056 
L 119.55845 654.712375 
L 119.787113 655.187397 
L 120.015775 650.708305 
L 120.244438 664.951618 
L 120.930425 649.248093 
L 121.38775 664.011872 
L 121.616413 663.719748 
L 121.845075 654.236982 
L 122.531063 662.573203 
L 122.759725 655.5 
L 123.21705 655.5 
L 123.445713 653.278033 
L 124.1317 655.5 
L 124.589025 655.5 
L 124.817688 664.721279 
L 125.04635 656.337315 
L 125.732337 642.328125 
L 125.961 655.5 
L 126.646988 655.5 
L 127.332975 662.376003 
L 127.561638 644.385923 
L 127.7903 655.5 
L 128.018963 649.353035 
L 128.247625 656.681536 
L 128.933613 657.660566 
L 129.162275 656.350298 
L 129.390938 656.799565 
L 129.6196 654.445818 
L 129.848263 655.035955 
L 130.53425 655.698106 
L 130.762912 655.5 
L 131.4489 655.5 
L 132.134888 659.228506 
L 132.36355 666.055462 
L 132.592213 655.675633 
L 132.820875 656.560203 
L 133.049538 658.179247 
L 133.735525 650.586005 
L 133.964188 656.570039 
L 134.421513 653.910218 
L 134.650175 655.5 
L 135.336163 654.733744 
L 135.564825 655.5 
L 136.250812 655.5 
L 136.9368 653.8011 
L 137.165463 654.84474 
L 137.394125 648.289991 
L 137.622788 660.297043 
L 137.85145 648.625842 
L 138.537438 656.242457 
L 138.7661 661.835049 
L 138.994763 619.496875 
L 139.223425 654.079757 
L 139.452088 656.448537 
L 140.138075 649.643646 
L 140.366737 652.537918 
L 140.5954 659.779403 
L 140.824063 659.541006 
L 141.052725 615.984375 
L 141.738713 658.36044 
L 142.196038 668.827841 
L 142.4247 661.084914 
L 142.653363 686.234375 
L 143.33935 651.549999 
L 143.568013 657.633869 
L 143.796675 667.840859 
L 144.025338 634.584136 
L 144.254 667.556331 
L 144.939988 655.5 
L 145.854638 655.5 
L 146.540625 653.193537 
L 146.769288 655.272883 
L 146.99795 707.309375 
L 147.226613 659.927247 
L 147.455275 651.25394 
L 148.141263 662.857089 
L 148.369925 647.865438 
L 148.598588 578.225 
L 148.82725 655.765947 
L 149.055913 658.757222 
L 149.7419 658.38584 
L 149.970563 655.806773 
L 150.199225 646.863445 
L 150.427887 695.015625 
L 150.65655 656.80759 
L 151.342538 629.15625 
L 151.5712 653.683813 
L 151.799863 665.11564 
L 152.028525 645.730424 
L 152.257188 644.06849 
L 152.943175 657.143418 
L 153.171838 658.859296 
L 153.629163 695.015625 
L 153.857825 693.842162 
L 154.543813 677.927945 
L 154.772475 679.822926 
L 155.001138 659.167235 
L 155.2298 659.502159 
L 155.458462 673.312876 
L 156.14445 634.874373 
L 156.373113 630.999915 
L 156.601775 636.223184 
L 156.830438 658.657154 
L 157.0591 662.681346 
L 157.745088 620.375 
L 157.97375 662.188428 
L 158.202413 655.139442 
L 158.431075 656.511348 
L 158.659738 673.0625 
L 159.345725 655.187935 
L 159.574388 631.846653 
L 159.80305 659.087893 
L 160.031713 654.743509 
L 160.260375 660.505671 
L 160.946363 658.597737 
L 161.175025 641.476654 
L 161.403688 655.5 
L 164.3763 655.5 
L 164.604962 497.4375 
L 164.833625 655.5 
L 165.062288 655.5 
L 165.748275 677.453125 
L 166.2056 642.783048 
L 166.434263 654.58551 
L 166.662925 650.355057 
L 167.348913 653.881081 
L 167.577575 640.061901 
L 167.806238 648.252239 
L 168.0349 647.625695 
L 168.263563 655.319804 
L 168.94955 661.476317 
L 169.178213 657.386402 
L 169.406875 661.034973 
L 169.635537 653.541103 
L 169.8642 650.233787 
L 170.550188 646.341864 
L 170.77885 655.5 
L 172.836813 655.5 
L 173.065475 664.76592 
L 173.751463 767.021875 
L 173.980125 615.984375 
L 174.208788 650.624748 
L 174.43745 661.307837 
L 174.666112 658.488424 
L 175.3521 552.759375 
L 175.580763 652.782302 
L 175.809425 666.540698 
L 176.038088 654.654684 
L 176.26675 655.110707 
L 176.952738 650.564536 
L 177.1814 651.750906 
L 177.410063 668.602509 
L 177.638725 644.80011 
L 177.867388 640.521477 
L 178.553375 645.57302 
L 178.782038 652.122749 
L 179.0107 602.8125 
L 179.239363 661.962825 
L 179.468025 645.590885 
L 180.382675 662.031635 
L 180.611338 649.846066 
L 180.84 662.272015 
L 181.068663 656.975958 
L 181.75465 598.421875 
L 181.983313 655.5 
L 182.211975 655.5 
L 182.440638 662.237709 
L 182.6693 655.5 
L 183.812613 655.5 
L 184.041275 651.676993 
L 184.269938 659.973389 
L 184.955925 660.401053 
L 185.184588 670.360833 
L 185.41325 661.298219 
L 185.641913 672.207089 
L 185.870575 644.339341 
L 186.556563 642.677161 
L 186.785225 655.5 
L 187.013888 629.15625 
L 187.24255 615.984375 
L 187.471213 655.5 
L 189.07185 655.5 
L 189.757838 670.066448 
L 189.9865 651.421794 
L 190.215163 675.480067 
L 190.443825 646.554743 
L 190.672488 653.096535 
L 191.358475 651.905279 
L 191.587138 673.829489 
L 191.8158 657.484074 
L 192.044463 655.5 
L 192.273125 759.11875 
L 192.959113 655.5 
L 193.416438 655.5 
L 193.6451 649.182073 
L 193.873763 647.459018 
L 194.55975 655.5 
L 194.788413 660.477022 
L 195.017075 539.5875 
L 195.245738 625.656251 
L 195.4744 660.423962 
L 196.160388 654.989696 
L 196.617713 666.401473 
L 197.075038 637.315649 
L 197.761025 541.34375 
L 197.989688 661.988277 
L 198.21835 659.349632 
L 198.447013 650.809284 
L 198.675675 656.700673 
L 199.361663 652.142951 
L 199.590325 655.539756 
L 199.818988 655.740616 
L 200.04765 658.333662 
L 200.276313 730.140625 
L 200.9623 680.302454 
L 201.190963 627.86127 
L 201.419625 661.416546 
L 201.648288 635.656129 
L 201.87695 541.34375 
L 202.562938 658.180694 
L 202.7916 666.443976 
L 203.020263 661.473391 
L 203.248925 661.249133 
L 203.477588 670.470022 
L 204.392238 648.91723 
L 204.6209 651.08742 
L 204.849563 665.739735 
L 205.078225 667.305962 
L 205.764213 611.59375 
L 206.221538 695.015625 
L 206.4502 664.158294 
L 206.678863 680.712481 
L 207.36485 671.791257 
L 207.593513 615.984375 
L 207.822175 641.661809 
L 208.050838 695.015625 
L 208.2795 658.710715 
L 208.965488 650.283071 
L 209.19415 664.977374 
L 209.422813 650.526322 
L 209.651475 676.302132 
L 209.880138 623.453517 
L 210.566125 668.323044 
L 210.794788 668.740987 
L 211.02345 690.625 
L 211.252113 659.355636 
L 211.480775 667.099965 
L 212.166763 655.5 
L 212.85275 655.5 
L 213.081413 638.295778 
L 213.7674 655.5 
L 213.996063 644.470138 
L 214.224725 650.414867 
L 214.68205 674.277737 
L 215.825363 641.116482 
L 216.054025 647.205651 
L 216.282688 620.375 
L 216.968675 659.375477 
L 217.197338 640.080463 
L 217.426 648.087645 
L 217.654663 695.015625 
L 217.883325 637.743975 
L 218.569313 685.882001 
L 218.797975 654.850083 
L 219.026638 655.974501 
L 219.2553 664.32393 
L 219.483963 663.12951 
L 220.16995 654.8763 
L 220.398613 649.851587 
L 220.627275 650.765631 
L 220.855938 652.150092 
L 221.0846 659.936881 
L 221.770588 655.375517 
L 221.99925 665.872069 
L 222.227913 666.518669 
L 222.456575 656.789645 
L 222.685238 655.56215 
L 223.599888 658.149288 
L 223.82855 657.808023 
L 224.057213 650.174679 
L 224.285875 615.984375 
L 224.971863 650.239803 
L 225.200525 655.960732 
L 225.429188 674.665543 
L 225.65785 643.975364 
L 225.886513 654.052249 
L 226.5725 648.901893 
L 226.801163 654.187691 
L 227.029825 656.00832 
L 227.258488 632.001615 
L 227.48715 649.841026 
L 228.173138 665.71726 
L 228.4018 655.776177 
L 228.630463 654.921263 
L 228.859125 650.33574 
L 229.087788 656.970807 
L 229.773775 629.15625 
L 230.002438 652.63163 
L 230.2311 664.395789 
L 230.688425 647.807899 
L 231.603075 661.395253 
L 231.831738 654.594578 
L 232.0604 673.428427 
L 232.289063 658.892471 
L 232.97505 655.5 
L 233.203713 655.5 
L 233.432375 660.633511 
L 233.661038 655.5 
L 233.8897 655.5 
L 234.575688 655.157122 
L 234.80435 653.564844 
L 235.033013 638.219452 
L 235.261675 660.182686 
L 235.490338 661.265441 
L 236.176325 657.919809 
L 236.404988 654.412836 
L 236.862313 659.623488 
L 237.090975 649.7191 
L 237.776963 603.690625 
L 238.005625 651.030606 
L 238.234288 656.050146 
L 238.46295 642.378654 
L 238.691613 652.798891 
L 239.3776 651.126776 
L 239.606263 659.781232 
L 239.834925 675.07983 
L 240.29225 655.5 
L 242.578875 655.5 
L 242.807538 690.625 
L 243.0362 647.731266 
L 243.264863 655.465194 
L 243.493525 655.17116 
L 244.179513 657.216895 
L 244.636838 654.679708 
L 245.094163 656.482849 
L 245.78015 615.984375 
L 246.008813 657.444394 
L 246.237475 656.611029 
L 246.466138 660.208498 
L 246.6948 651.37815 
L 247.380788 650.13402 
L 247.60945 654.061377 
L 247.838113 655.066694 
L 248.066775 658.711916 
L 248.295438 629.15625 
L 248.981425 658.522766 
L 249.210088 655.606974 
L 249.43875 655.931448 
L 249.667413 655.471132 
L 249.896075 652.803228 
L 250.582063 655.395694 
L 251.039388 641.758075 
L 251.26805 657.510052 
L 251.496713 656.933494 
L 252.1827 655.727211 
L 252.411363 654.995518 
L 252.640025 654.976947 
L 252.868688 652.458246 
L 253.09735 659.147203 
L 253.783338 629.15625 
L 254.012 656.895771 
L 254.240663 661.883065 
L 254.469325 659.636867 
L 254.697988 653.79422 
L 255.383975 662.940133 
L 255.612638 667.654195 
L 256.298625 642.028639 
L 257.213275 680.316975 
L 257.441937 663.017119 
L 257.6706 659.012596 
L 258.58525 657.936564 
L 258.813913 651.356884 
L 259.271238 656.705763 
L 259.4999 661.686977 
L 260.185888 648.937325 
L 260.41455 650.000288 
L 260.871875 658.775171 
L 261.786525 654.076898 
L 262.015188 655.183227 
L 262.24385 652.789634 
L 262.472512 660.959716 
L 263.387163 648.016346 
L 263.615825 658.25083 
L 263.844488 655.5 
L 271.847675 655.5 
L 272.076338 591.396875 
L 272.305 655.5 
L 272.990988 655.5 
L 273.21965 650.24257 
L 273.448313 637.139246 
L 273.676975 665.205429 
L 273.905638 655.596703 
L 274.591625 658.58238 
L 274.820288 681.84375 
L 275.04895 654.893382 
L 275.277613 654.452159 
L 275.506275 651.796794 
L 276.192263 655.06598 
L 276.420925 655.162667 
L 276.87825 648.852782 
L 277.106913 659.643663 
L 277.7929 654.397797 
L 278.021563 646.97802 
L 278.250225 658.328223 
L 278.478888 656.226743 
L 278.70755 649.953609 
L 279.393538 660.008024 
L 279.6222 655.123903 
L 279.850863 638.120305 
L 280.308188 673.795513 
L 280.994175 664.688982 
L 281.222838 658.296403 
L 281.4515 658.712318 
L 281.680163 666.747668 
L 281.908825 642.834093 
L 282.823475 665.726436 
L 283.052138 650.243663 
L 283.2808 658.790507 
L 283.509463 658.823178 
L 284.19545 656.7314 
L 284.424113 654.873017 
L 284.652775 659.711225 
L 285.1101 650.4467 
L 285.796087 620.375 
L 286.02475 655.378738 
L 286.253413 660.03424 
L 286.482075 681.84375 
L 286.710738 656.333457 
L 287.396725 656.443719 
L 287.625388 654.391584 
L 287.85405 656.546117 
L 288.082713 655.239948 
L 288.311375 651.525791 
L 288.997363 657.124679 
L 289.226025 670.973013 
L 289.454688 654.248848 
L 289.68335 660.052065 
L 289.912013 656.760161 
L 290.598 657.859484 
L 290.826663 651.89581 
L 291.055325 639.19439 
L 291.283988 653.709523 
L 291.51265 656.84388 
L 292.198638 653.924023 
L 292.4273 652.131695 
L 292.655963 654.825592 
L 292.884625 654.950536 
L 293.113288 656.443439 
L 293.799275 629.15625 
L 294.027938 651.731067 
L 294.713925 662.265992 
L 295.399913 660.804086 
L 295.628575 661.113957 
L 295.857238 662.794239 
L 296.0859 654.912164 
L 296.314563 651.01286 
L 297.00055 659.32418 
L 297.229213 655.49956 
L 297.457875 654.699751 
L 297.686538 658.470548 
L 297.9152 658.980136 
L 298.601188 652.016803 
L 298.82985 653.436999 
L 299.058513 652.649839 
L 299.287175 673.55838 
L 299.515838 659.50778 
L 300.201825 660.550497 
L 300.65915 630.482424 
L 300.887813 628.749496 
L 301.116475 657.958563 
L 301.802463 611.59375 
L 302.031125 655.5 
L 302.48845 652.948417 
L 302.717113 655.5 
L 304.31775 655.5 
L 305.003738 654.825792 
L 305.2324 646.007959 
L 305.461063 658.252943 
L 305.689725 656.691195 
L 305.918388 649.273032 
L 306.604375 654.006634 
L 306.833038 681.84375 
L 307.0617 660.298682 
L 307.290363 653.480479 
L 307.519025 655.80307 
L 308.205013 647.217287 
L 308.433675 650.181372 
L 308.662338 654.666941 
L 308.891 655.105688 
L 309.119663 675.860098 
L 309.80565 655.630777 
L 310.034313 654.794461 
L 310.262975 650.661362 
L 310.491638 664.829078 
L 310.7203 662.310028 
L 311.63495 654.264783 
L 311.863613 643.775528 
L 312.092275 658.626561 
L 312.320938 655.661776 
L 313.46425 655.5 
L 314.607563 655.5 
L 314.836225 629.15625 
L 315.064888 653.763612 
L 315.29355 660.160211 
L 315.522213 654.5809 
L 316.2082 682.168163 
L 316.436863 703.796875 
L 316.665525 656.585712 
L 316.894188 656.621829 
L 317.12285 658.449728 
L 317.808838 660.009616 
L 318.0375 643.873604 
L 318.494825 662.864463 
L 318.723488 656.141287 
L 319.409475 657.733352 
L 319.638138 652.548639 
L 319.8668 653.270326 
L 320.095463 657.299344 
L 320.324125 658.392705 
L 321.010113 651.121604 
L 321.238775 659.937028 
L 321.467438 656.374546 
L 321.6961 660.44201 
L 321.924763 654.567295 
L 322.61075 647.10516 
L 322.839413 664.40352 
L 323.068075 650.603796 
L 323.296738 645.376974 
L 323.5254 655.246771 
L 324.211388 629.15625 
L 324.44005 656.90759 
L 324.668713 665.069225 
L 324.897375 657.33543 
L 325.126038 664.847563 
L 325.812025 653.081118 
L 326.040688 644.001254 
L 326.26935 653.356186 
L 326.498013 641.146 
L 326.726675 686.234375 
L 327.412663 645.881909 
L 327.869988 661.556471 
L 328.09865 642.016957 
L 328.327313 659.170503 
L 329.0133 652.267804 
L 329.241963 688.061137 
L 329.470625 658.851155 
L 329.699288 652.536516 
L 329.92795 642.655061 
L 330.613938 654.542349 
L 330.8426 661.767683 
L 331.071263 648.933819 
L 331.299925 654.836375 
L 331.528588 671.478216 
L 332.214575 653.3114 
L 332.443238 642.516746 
L 332.6719 662.783694 
L 332.900563 654.965411 
L 333.129225 664.879727 
L 333.815213 646.190538 
L 334.5012 649.117147 
L 334.729863 669.632011 
L 335.41585 653.445205 
L 335.644513 657.133441 
L 335.873175 673.493382 
L 336.3305 643.326598 
L 337.016488 638.017034 
L 337.24515 664.482065 
L 337.473813 663.165972 
L 337.702475 658.908501 
L 337.931138 623.715146 
L 339.07445 677.827673 
L 339.303113 673.22716 
L 339.531775 646.821504 
L 340.217763 644.40176 
L 340.446425 646.225362 
L 340.675088 653.953938 
L 340.90375 653.879748 
L 341.132413 650.570906 
L 342.047063 656.059067 
L 342.275725 643.165714 
L 342.504388 658.095002 
L 342.73305 633.546875 
L 343.419038 651.873055 
L 343.6477 653.232555 
L 343.876363 647.375696 
L 344.105025 615.984375 
L 344.333688 650.487672 
L 345.019675 668.278693 
L 345.248338 655.137525 
L 345.705663 656.738616 
L 345.934325 669.708105 
L 346.848975 650.408732 
L 347.077638 651.412606 
L 347.3063 656.395197 
L 347.534963 650.673345 
L 348.22095 647.42006 
L 348.449613 658.22134 
L 348.678275 659.205388 
L 348.906938 650.221398 
L 349.1356 654.925652 
L 349.821588 656.774412 
L 350.05025 658.517944 
L 350.278913 655.5 
L 350.507575 655.5 
L 350.736238 637.9375 
L 351.422225 656.306586 
L 351.650888 671.586307 
L 351.87955 652.137336 
L 352.108213 655.019969 
L 352.336875 651.348388 
L 353.022863 652.221687 
L 353.251525 655.080435 
L 353.480188 655.5 
L 354.6235 655.5 
L 354.852163 650.691703 
L 355.080825 654.947607 
L 355.309488 656.102478 
L 355.53815 654.391589 
L 356.224138 642.089651 
L 356.4528 655.397337 
L 356.681463 653.89949 
L 356.910125 655.236607 
L 357.138788 654.815174 
L 357.824775 651.768337 
L 358.053438 658.610097 
L 358.2821 651.075056 
L 358.510763 650.787534 
L 358.739425 656.130233 
L 359.425413 656.786582 
L 359.654075 657.303543 
L 359.882738 651.740477 
L 360.1114 650.602406 
L 360.340063 653.812753 
L 361.02605 652.515251 
L 361.254713 673.0625 
L 361.483375 653.342545 
L 361.712038 650.89278 
L 361.9407 653.887685 
L 362.626688 644.084786 
L 362.85535 657.424504 
L 363.084013 661.836591 
L 363.312675 661.202447 
L 363.541338 655.995103 
L 364.227325 661.838814 
L 364.455988 651.835845 
L 364.68465 653.731529 
L 364.913313 657.372842 
L 365.141975 657.467052 
L 365.827963 655.5 
L 366.056625 655.5 
L 366.285288 651.501093 
L 366.51395 655.5 
L 366.742613 652.96203 
L 367.4286 655.5 
L 367.885925 655.5 
L 368.114588 656.316617 
L 368.34325 671.629745 
L 369.029238 656.961763 
L 369.2579 641.872825 
L 369.486563 666.366262 
L 369.715225 658.320486 
L 369.943888 660.879294 
L 370.629875 662.558256 
L 370.858538 652.30861 
L 371.0872 647.90808 
L 371.315863 640.757177 
L 371.544525 670.926981 
L 372.230513 637.9375 
L 372.459175 646.103044 
L 372.687838 641.566708 
L 372.9165 652.629607 
L 373.145163 656.161709 
L 373.83115 654.086938 
L 374.059813 629.575905 
L 374.288475 636.891833 
L 374.517138 670.674595 
L 374.7458 661.704454 
L 375.431788 655.5 
L 375.66045 655.5 
L 375.889113 648.241788 
L 376.117775 656.050381 
L 376.346438 654.431854 
L 377.032425 657.597421 
L 377.261088 633.546875 
L 377.718413 672.09721 
L 377.947075 652.375266 
L 378.633063 673.0625 
L 378.861725 651.605802 
L 379.090388 656.64739 
L 379.31905 656.925141 
L 379.547713 658.204158 
L 380.2337 659.473462 
L 380.462363 649.575651 
L 380.691025 652.287416 
L 380.919688 653.494794 
L 381.834338 677.453125 
L 382.063 657.543776 
L 382.291663 648.392861 
L 382.520325 648.034982 
L 382.748988 662.673568 
L 383.434975 644.291393 
L 383.663638 660.821838 
L 383.8923 655.152259 
L 384.120963 667.399158 
L 384.349625 645.791405 
L 385.035613 664.300526 
L 385.264275 655.5 
L 390.066188 655.481254 
L 390.29485 658.362758 
L 390.523513 663.78099 
L 390.752175 663.21294 
L 391.438163 661.928423 
L 391.666825 623.009375 
L 391.895488 659.48142 
L 392.12415 644.535325 
L 392.352813 669.762203 
L 393.0388 695.015625 
L 393.267463 656.172625 
L 393.496125 681.181604 
L 393.724788 646.998866 
L 393.95345 649.326358 
L 394.8681 664.167631 
L 395.096763 640.860384 
L 395.325425 638.447643 
L 395.554088 673.256538 
L 396.240075 652.444247 
L 396.468738 656.087256 
L 396.6974 652.315775 
L 396.926063 658.50352 
L 397.154725 657.757384 
L 397.840713 660.353104 
L 398.298038 649.897643 
L 398.5267 633.546875 
L 398.755363 652.95448 
L 399.44135 655.5 
L 401.727975 655.5 
L 401.956638 656.68923 
L 402.642625 654.987915 
L 402.871288 657.670635 
L 403.09995 655.86556 
L 403.328613 655.011218 
L 403.557275 655.285026 
L 404.243263 629.15625 
L 404.471925 653.2348 
L 404.700588 653.974836 
L 404.92925 655.521916 
L 405.157913 668.02572 
L 405.8439 650.264933 
L 406.072563 660.965452 
L 406.301225 658.211768 
L 406.529888 658.2446 
L 406.75855 647.856647 
L 407.444538 652.816666 
L 407.6732 656.386289 
L 407.901863 641.731243 
L 408.130525 656.88698 
L 408.359188 643.886015 
L 409.273838 653.362046 
L 409.5025 657.990796 
L 409.731163 656.802379 
L 409.959825 645.740742 
L 410.645813 639.995957 
L 410.874475 659.36052 
L 411.103138 653.050536 
L 411.3318 655.304748 
L 411.560463 670.21081 
L 412.24645 681.84375 
L 412.475113 656.249815 
L 412.703775 648.895417 
L 412.932438 654.817788 
L 413.1611 653.744538 
L 413.847088 657.565577 
L 414.07575 651.689348 
L 414.304413 660.884405 
L 414.533075 662.499169 
L 414.761738 648.690507 
L 415.447725 655.5 
L 417.505688 655.5 
L 417.73435 658.047698 
L 417.963013 655.5 
L 419.334988 655.5 
L 419.56365 656.00785 
L 420.249638 657.068343 
L 420.4783 652.010819 
L 420.706963 655.5 
L 421.850275 655.5 
L 422.078938 654.664583 
L 422.3076 656.541979 
L 422.536263 712.578125 
L 422.764925 654.408521 
L 423.450913 659.527645 
L 423.679575 624.765625 
L 424.1369 658.78267 
L 424.365563 656.762233 
L 425.05155 657.983571 
L 425.280213 660.317865 
L 425.508875 653.319433 
L 425.737538 652.91144 
L 425.9662 659.429103 
L 426.652188 657.123317 
L 426.88085 654.443747 
L 427.109513 657.877566 
L 427.566838 651.845412 
L 428.252825 657.006431 
L 428.481488 655.5 
L 430.310788 655.5 
L 430.53945 602.8125 
L 430.768113 655.5 
L 432.36875 655.5 
L 433.054738 641.462099 
L 433.2834 690.625 
L 433.512063 657.879136 
L 433.969388 647.380651 
L 434.655375 641.062627 
L 434.884038 658.084451 
L 435.1127 664.346171 
L 435.341363 660.444913 
L 435.570025 659.822076 
L 436.256013 668.375802 
L 436.484675 654.116934 
L 436.713338 647.665437 
L 436.942 666.689427 
L 437.170663 636.248198 
L 437.85665 651.46675 
L 438.085313 648.806309 
L 438.313975 651.573396 
L 438.542638 656.400655 
L 438.7713 664.315137 
L 439.457288 663.638407 
L 439.914613 652.19322 
L 440.143275 653.270767 
L 440.371938 652.276007 
L 441.057925 653.134967 
L 441.286588 637.9375 
L 441.51525 655.699034 
L 441.743913 653.929886 
L 441.972575 657.069101 
L 442.658563 653.684977 
L 442.887225 655.383142 
L 443.115888 663.618062 
L 443.34455 655.192538 
L 443.573213 655.207444 
L 444.2592 658.711831 
L 444.487863 651.864832 
L 444.716525 658.114888 
L 444.945188 649.124538 
L 445.17385 653.798039 
L 445.859838 651.654171 
L 446.0885 664.095271 
L 446.317163 647.162366 
L 446.545825 673.0625 
L 446.774488 651.642452 
L 447.460475 665.477141 
L 447.689138 650.969169 
L 448.146463 660.73665 
L 448.375125 646.965473 
L 449.061113 650.50842 
L 449.289775 658.19342 
L 449.518438 652.062731 
L 449.7471 653.309848 
L 449.975763 670.021169 
L 450.66175 660.14318 
L 450.890413 651.202976 
L 451.119075 652.802674 
L 451.347738 649.14398 
L 451.5764 657.97161 
L 452.262388 655.5 
L 465.524813 655.5 
L 465.753475 652.170187 
L 465.982138 658.494163 
L 466.668125 642.94722 
L 466.896788 677.032523 
L 467.12545 649.888714 
L 467.354113 672.313455 
L 467.582775 637.9375 
L 468.268763 651.077225 
L 468.497425 660.161541 
L 468.726088 640.003844 
L 468.95475 677.453125 
L 469.183413 655.384882 
L 470.098063 660.563338 
L 470.326725 644.707756 
L 470.78405 662.513413 
L 471.470038 649.304843 
L 471.6987 652.501474 
L 471.927363 657.539924 
L 472.156025 656.983619 
L 472.384688 654.41748 
L 473.070675 640.345732 
L 473.299338 649.664323 
L 473.528 653.916392 
L 473.756663 643.419063 
L 473.985325 659.877116 
L 474.671313 653.463101 
L 474.899975 641.582526 
L 475.128638 653.762373 
L 475.3573 647.420247 
L 475.585963 654.464362 
L 476.27195 664.55427 
L 476.500613 657.153196 
L 476.729275 661.285151 
L 476.957938 652.207519 
L 477.1866 653.949035 
L 477.872588 655.447572 
L 478.10125 657.654891 
L 478.329913 647.163662 
L 478.558575 653.530332 
L 478.787238 652.115303 
L 479.473225 662.481261 
L 479.701888 658.358699 
L 479.93055 659.120301 
L 480.159213 656.138432 
L 480.387875 667.781667 
L 481.073863 667.365427 
L 481.302525 652.863826 
L 481.531188 657.078744 
L 481.75985 649.754762 
L 481.988513 660.4812 
L 482.6745 662.300229 
L 483.131825 650.908657 
L 483.360488 658.445519 
L 483.58915 652.557227 
L 484.275138 657.923521 
L 484.5038 653.816478 
L 484.732463 655.260462 
L 484.961125 652.055187 
L 485.189788 662.244443 
L 485.875775 655.675572 
L 486.104438 652.136558 
L 486.3331 657.6072 
L 486.561763 655.054326 
L 486.790425 663.512167 
L 487.476413 656.556949 
L 487.705075 656.803266 
L 487.933738 656.047033 
L 488.1624 653.045951 
L 488.391063 653.163626 
L 489.07705 660.027916 
L 489.305713 655.701454 
L 489.534375 656.065028 
L 489.763038 655.89576 
L 489.9917 653.065124 
L 490.677688 655.006875 
L 490.90635 655.234628 
L 491.135013 657.59769 
L 491.363675 654.62237 
L 491.592338 656.006251 
L 492.506988 655.038885 
L 492.73565 658.369828 
L 492.964313 655.65973 
L 493.192975 650.450833 
L 494.107625 656.384778 
L 494.336288 654.919432 
L 494.56495 607.203125 
L 494.793613 653.365289 
L 495.4796 712.578125 
L 495.708263 651.592642 
L 495.936925 650.862154 
L 496.165588 658.317302 
L 496.39425 659.404147 
L 497.080238 655.116897 
L 497.3089 654.844358 
L 497.537563 656.752047 
L 497.766225 821.465625 
L 497.994888 652.123909 
L 498.680875 655.573446 
L 498.909538 651.769221 
L 499.1382 655.809383 
L 499.366863 655.069824 
L 499.595525 475.484375 
L 500.281513 660.136862 
L 500.510175 655.058579 
L 500.738838 657.49624 
L 500.9675 657.214084 
L 501.88215 641.844728 
L 502.110813 661.239785 
L 502.339475 662.122712 
L 502.568138 708.1875 
L 502.7968 651.909462 
L 503.482788 651.38955 
L 503.71145 670.179172 
L 504.168775 649.168254 
L 504.397438 660.219895 
L 505.083425 655.477234 
L 505.312088 642.752062 
L 505.54075 658.783431 
L 505.769413 655.800078 
L 505.998075 663.899314 
L 506.684063 651.102301 
L 506.912725 655.779342 
L 507.141388 651.841263 
L 507.37005 660.699905 
L 507.598713 654.493738 
L 508.2847 660.30329 
L 508.513363 645.505382 
L 508.742025 662.786746 
L 508.970688 645.780228 
L 509.19935 652.229634 
L 510.114 657.143295 
L 510.342663 659.46224 
L 510.571325 642.328125 
L 510.799988 653.312225 
L 511.485975 648.459878 
L 511.714638 648.915886 
L 511.9433 653.324228 
L 512.171963 667.564672 
L 512.400625 662.781725 
L 513.086613 665.258476 
L 513.315275 656.679084 
L 513.543938 654.099418 
L 513.7726 658.863118 
L 514.001263 653.048789 
L 514.68725 654.964712 
L 514.915913 650.511312 
L 515.144575 661.018172 
L 515.373238 662.528229 
L 515.6019 656.608808 
L 516.287888 655.611537 
L 516.745213 651.138419 
L 516.973875 657.429043 
L 517.202538 656.255319 
L 517.888525 652.072025 
L 518.117188 655.238667 
L 518.34585 655.813456 
L 518.574513 655.586595 
L 518.803175 659.50434 
L 519.489163 651.096846 
L 519.717825 650.932859 
L 519.946488 654.685606 
L 520.17515 655.218002 
L 520.403813 656.305884 
L 521.0898 668.671875 
L 521.318463 652.743642 
L 521.547125 655.704911 
L 521.775788 656.992248 
L 522.00445 659.19409 
L 522.690438 657.101499 
L 522.9191 657.38601 
L 523.147763 654.931822 
L 523.376425 654.976188 
L 523.605088 650.362454 
L 524.291075 656.913286 
L 524.519738 657.467867 
L 524.7484 652.16405 
L 524.977063 666.572347 
L 525.205725 654.138778 
L 525.891713 660.069192 
L 526.120375 653.227949 
L 526.349038 658.274419 
L 526.5777 655.655686 
L 526.806363 655.70005 
L 527.49235 655.329478 
L 527.721013 658.791884 
L 527.949675 655.361361 
L 528.178338 657.546869 
L 528.407 656.347799 
L 529.092988 651.980869 
L 529.32165 655.422032 
L 529.550313 655.435413 
L 529.778975 659.866552 
L 530.007638 651.284092 
L 530.922288 659.742887 
L 531.379613 651.837021 
L 531.608275 654.440595 
L 532.294263 655.986761 
L 532.522925 654.503349 
L 532.751588 655.158997 
L 532.98025 654.812 
L 533.208913 660.515572 
L 533.8949 656.015048 
L 534.123563 650.363928 
L 534.352225 654.667933 
L 534.580888 655.527111 
L 534.80955 667.37341 
L 535.495538 653.569718 
L 535.7242 653.572894 
L 535.952863 633.546875 
L 536.181525 654.598008 
L 536.410188 657.709104 
L 537.096175 655.711119 
L 537.324838 653.038927 
L 537.5535 655.722541 
L 537.782163 649.589441 
L 538.010825 653.885817 
L 538.696813 661.616055 
L 538.925475 653.692314 
L 539.154138 657.881235 
L 539.3828 657.135932 
L 539.611463 641.758117 
L 540.29745 668.099468 
L 540.526113 653.957166 
L 540.754775 653.75258 
L 540.983438 655.777613 
L 540.983438 655.777613 
" clip-path="url(#pbc6b674ccd)" style="fill: none; stroke: #808080; stroke-opacity: 0.7; stroke-width: 1.8; stroke-linecap: square"/>
   </g>
   <g id="text_51">
    <text style="font-size: 12px; font-family: 'DejaVu Sans', 'Liberation Sans', sans-serif; text-anchor: middle" x="322.1875" y="452.375" transform="rotate(-0 322.1875 452.375)">Retornos Diários (%)</text>
   </g>
  </g>
  <g id="axes_4">
   <g id="patch_19">
    <path d="M 603.125 838.5 
L 1085 838.5 
L 1085 458.75 
L 603.125 458.75 
z
" style="fill: #ffffff"/>
   </g>
   <g id="FillBetweenPolyCollection_1">
    <defs>
     <path id="m694a307c14" d="M 625.198413 -404.625 
L 625.198413 -404.625 
L 625.427075 -404.625 
L 625.655737 -404.032646 
L 625.8844 -403.518072 
L 626.113062 -403.003498 
L 626.79905 -401.459774 
L 627.027713 -400.9452 
L 627.256375 -400.430625 
L 627.485037 -399.916051 
L 627.7137 -399.189332 
L 628.399688 -390.148644 
L 628.62835 -385.600163 
L 628.857012 -388.805337 
L 629.085675 -391.38696 
L 629.314337 -402.209148 
L 630.000325 -402.463029 
L 630.228988 -402.615495 
L 630.45765 -402.767962 
L 630.686312 -402.920428 
L 630.914975 -403.072895 
L 631.600963 -403.530294 
L 631.829625 -403.682761 
L 632.058288 -403.835227 
L 632.28695 -404.021037 
L 632.515612 -404.021037 
L 633.2016 -404.021037 
L 633.430263 -404.021037 
L 633.658925 -404.021037 
L 633.887587 -404.021037 
L 634.11625 -404.021037 
L 634.802238 -404.021037 
L 635.0309 -404.021037 
L 635.259563 -404.021037 
L 635.488225 -404.021037 
L 635.716887 -404.021037 
L 636.402875 -404.021037 
L 636.631538 -404.021037 
L 636.8602 -404.021037 
L 637.088863 -404.021037 
L 637.317525 -404.021037 
L 638.003513 -404.021037 
L 638.232175 -404.021037 
L 638.460838 -404.021037 
L 638.6895 -400.25367 
L 638.918162 -399.30522 
L 639.60415 -393.149701 
L 639.832813 -389.925347 
L 640.061475 -391.030933 
L 640.290138 -388.172379 
L 640.5188 -389.546505 
L 641.204787 -388.362936 
L 641.43345 -384.090255 
L 641.662113 -382.148075 
L 641.890775 -383.913423 
L 642.119438 -383.12649 
L 642.805425 -381.07044 
L 643.034088 -382.100932 
L 643.26275 -382.538729 
L 643.491413 -384.87978 
L 643.720075 -383.656444 
L 644.406062 -383.482482 
L 644.634725 -384.205657 
L 644.863388 -384.5681 
L 645.09205 -384.11951 
L 645.320713 -383.692593 
L 646.0067 -387.110071 
L 646.235363 -388.300878 
L 646.464025 -390.208447 
L 646.692688 -387.655809 
L 646.92135 -385.456648 
L 647.607337 -388.608865 
L 647.836 -387.338471 
L 648.064663 -386.177845 
L 648.293325 -388.778422 
L 648.521988 -391.16004 
L 649.207975 -390.129886 
L 649.436637 -389.842968 
L 649.6653 -388.175791 
L 649.893963 -387.929134 
L 650.122625 -389.954173 
L 650.808612 -388.702459 
L 651.037275 -386.072542 
L 651.265938 -386.70648 
L 651.4946 -386.592353 
L 651.723263 -385.600163 
L 652.40925 -383.512162 
L 652.637912 -383.515956 
L 652.866575 -384.126412 
L 653.095238 -385.371613 
L 653.3239 -386.515464 
L 654.009887 -384.339666 
L 654.23855 -384.130106 
L 654.467212 -383.506255 
L 654.695875 -383.757837 
L 654.924538 -382.580347 
L 655.610525 -382.989357 
L 655.839187 -381.266132 
L 656.06785 -380.855534 
L 656.296513 -380.243925 
L 656.525175 -377.148342 
L 657.211163 -378.537113 
L 657.439825 -379.843789 
L 657.668487 -380.315834 
L 657.89715 -381.07044 
L 658.125813 -382.091189 
L 658.8118 -374.384236 
L 659.040462 -374.310067 
L 659.269125 -374.33581 
L 659.497787 -372.010993 
L 659.72645 -369.591936 
L 660.412438 -364.517002 
L 660.6411 -363.367136 
L 660.869762 -359.135952 
L 661.098425 -358.421824 
L 661.327088 -352.234767 
L 662.013075 -340.302932 
L 662.241737 -360.601958 
L 662.4704 -381.07044 
L 662.699062 -384.591191 
L 662.927725 -390.480206 
L 663.613713 -399.189332 
L 663.842375 -402.84739 
L 664.071037 -404.625 
L 664.2997 -404.521045 
L 664.528362 -404.429565 
L 665.21435 -404.155126 
L 665.443013 -404.021037 
L 665.671675 -402.163932 
L 665.900337 -397.56193 
L 666.129 -393.973216 
L 666.814988 -384.671664 
L 667.04365 -381.07044 
L 667.272312 -380.077605 
L 667.500975 -374.892206 
L 667.729637 -374.004703 
L 668.415625 -370.871542 
L 668.644288 -365.971363 
L 668.87295 -359.463001 
L 669.101612 -354.771282 
L 669.330275 -349.319646 
L 670.016263 -335.773208 
L 670.244925 -324.817217 
L 670.473588 -307.369217 
L 670.70225 -293.495793 
L 670.930912 -300.834177 
L 671.6169 -326.713762 
L 671.845563 -327.717671 
L 672.074225 -330.038772 
L 672.302887 -330.589182 
L 672.53155 -331.713508 
L 673.217538 -332.753393 
L 673.4462 -329.384853 
L 673.674863 -328.180579 
L 673.903525 -327.227209 
L 674.132187 -326.086505 
L 674.818175 -323.693947 
L 675.046838 -320.714361 
L 675.2755 -319.622515 
L 675.504163 -322.960644 
L 675.732825 -322.672972 
L 676.418813 -320.674131 
L 676.647475 -316.064171 
L 676.876138 -317.543826 
L 677.1048 -313.700941 
L 677.333462 -310.104777 
L 678.01945 -310.230853 
L 678.248113 -308.973904 
L 678.476775 -311.370864 
L 678.705438 -314.231647 
L 678.9341 -314.634501 
L 679.620087 -313.298657 
L 679.84875 -313.549734 
L 680.077413 -313.587635 
L 680.306075 -312.610892 
L 680.534738 -313.124593 
L 681.220725 -310.79019 
L 681.449388 -314.077449 
L 681.67805 -315.193504 
L 681.906713 -314.115758 
L 682.135375 -314.634501 
L 682.821363 -314.705763 
L 683.050025 -314.341008 
L 683.278688 -315.910417 
L 683.50735 -316.397055 
L 683.736013 -316.144408 
L 684.422 -316.523153 
L 684.650662 -318.348525 
L 684.879325 -319.335772 
L 685.107988 -318.505504 
L 685.33665 -317.111814 
L 686.022637 -317.654316 
L 686.2513 -385.137456 
L 686.479963 -404.625 
L 686.708625 -404.625 
L 686.937288 -404.625 
L 687.623275 -404.625 
L 687.851938 -404.625 
L 688.0806 -404.625 
L 688.309263 -404.625 
L 688.537925 -404.625 
L 689.223912 -404.625 
L 689.452575 -404.625 
L 689.681237 -404.625 
L 689.9099 -404.625 
L 690.138563 -404.625 
L 690.82455 -404.625 
L 691.053212 -404.625 
L 691.281875 -404.625 
L 691.510538 -404.625 
L 691.7392 -404.625 
L 692.425187 -404.625 
L 692.65385 -381.07044 
L 692.882513 -369.456866 
L 693.111175 -350.518472 
L 693.339838 -320.674131 
L 694.025825 -306.179367 
L 694.254487 -296.97096 
L 694.48315 -288.387396 
L 694.711813 -279.041805 
L 694.940475 -275.3769 
L 695.626463 -253.533224 
L 695.855125 -248.493809 
L 696.083787 -245.178746 
L 696.31245 -230.364337 
L 696.541113 -214.980592 
L 697.2271 -240.004892 
L 697.455762 -248.563311 
L 697.684425 -256.950652 
L 697.913088 -266.317454 
L 698.14175 -273.474611 
L 698.827738 -296.515608 
L 699.0564 -299.312679 
L 699.285062 -302.25815 
L 699.513725 -306.407715 
L 699.742388 -311.241088 
L 700.428375 -314.634501 
L 700.657038 -311.690437 
L 700.8857 -311.949401 
L 701.114362 -309.448378 
L 701.343025 -306.373584 
L 702.029013 -305.575054 
L 702.257675 -310.692767 
L 702.486337 -313.452499 
L 702.715 -314.910783 
L 702.943663 -316.937157 
L 703.62965 -320.674131 
L 703.858313 -339.112536 
L 704.086975 -347.85247 
L 704.315637 -347.202264 
L 704.5443 -353.209643 
L 705.230288 -367.158917 
L 705.45895 -378.050624 
L 705.687613 -375.281929 
L 705.916275 -372.955045 
L 706.144937 -365.971363 
L 706.830925 -358.120271 
L 707.059588 -358.715821 
L 707.28825 -357.803447 
L 707.516912 -354.161491 
L 707.745575 -350.872286 
L 708.431563 -349.018594 
L 708.660225 -349.407421 
L 708.888888 -349.364834 
L 709.11755 -347.940687 
L 709.346212 -346.342562 
L 710.0322 -349.190053 
L 710.260863 -350.782389 
L 710.489525 -352.655219 
L 710.718187 -353.064297 
L 710.94685 -353.892101 
L 711.632838 -354.504245 
L 711.8615 -353.247309 
L 712.090163 -355.640374 
L 712.318825 -355.402009 
L 712.547487 -356.848081 
L 713.233475 -356.672247 
L 713.462138 -357.955088 
L 713.6908 -353.946897 
L 713.919463 -356.911916 
L 714.148125 -353.095858 
L 714.834113 -343.281232 
L 715.062775 -338.808436 
L 715.291438 -335.773208 
L 715.5201 -352.514466 
L 715.748762 -404.625 
L 716.43475 -404.625 
L 716.663413 -404.625 
L 716.892075 -404.625 
L 717.120738 -391.44005 
L 717.3494 -375.469534 
L 718.035388 -350.872286 
L 718.26405 -302.531158 
L 718.492713 -290.475977 
L 718.721375 -282.817946 
L 718.950038 -275.5872 
L 719.636025 -253.994589 
L 719.864688 -245.178746 
L 720.09335 -242.388497 
L 720.322013 -238.662184 
L 720.550675 -235.843754 
L 721.236662 -228.385333 
L 721.465325 -224.040038 
L 721.693988 -220.930967 
L 721.92265 -216.537247 
L 722.151313 -212.842577 
L 722.8373 -204.411238 
L 723.065963 -209.589717 
L 723.294625 -211.55627 
L 723.523288 -214.376747 
L 723.75195 -216.792049 
L 724.437937 -230.079669 
L 724.6666 -232.531289 
L 724.895263 -233.495884 
L 725.123925 -233.490236 
L 725.352588 -235.077081 
L 726.038575 -239.139115 
L 726.267237 -237.945129 
L 726.4959 -237.970748 
L 726.724563 -239.352571 
L 726.953225 -241.2117 
L 727.639212 -242.158931 
L 727.867875 -240.227522 
L 728.096538 -242.185104 
L 728.3252 -240.15561 
L 728.553863 -236.579972 
L 729.23985 -236.1193 
L 729.468512 -238.409478 
L 729.697175 -237.841115 
L 729.925838 -239.335322 
L 730.1545 -242.158931 
L 730.840487 -245.860723 
L 731.06915 -243.999065 
L 731.297812 -243.92911 
L 731.526475 -245.49718 
L 731.755138 -248.198561 
L 732.441125 -248.051879 
L 732.669787 -252.58633 
L 732.89845 -254.21069 
L 733.127113 -255.334692 
L 733.355775 -257.258008 
L 734.041763 -249.454432 
L 734.270425 -244.122611 
L 734.499088 -242.124817 
L 734.72775 -237.0694 
L 734.956413 -230.079669 
L 735.6424 -235.426363 
L 735.871062 -238.965143 
L 736.099725 -245.254434 
L 736.328387 -249.147626 
L 736.55705 -248.198561 
L 737.243038 -239.225876 
L 737.4717 -239.139115 
L 737.700362 -245.946674 
L 737.929025 -257.258008 
L 738.157688 -257.26945 
L 738.843675 -257.897798 
L 739.072338 -257.258008 
L 739.301 -253.405728 
L 739.529663 -251.218377 
L 739.758325 -249.231697 
L 740.444313 -242.158931 
L 740.672975 -245.745342 
L 740.901637 -246.770843 
L 741.1303 -245.413975 
L 741.358962 -243.4776 
L 742.04495 -248.198561 
L 742.273613 -252.004591 
L 742.502275 -260.277823 
L 742.730937 -257.010813 
L 742.9596 -256.539572 
L 743.645588 -246.688654 
L 743.87425 -246.710411 
L 744.102913 -248.034201 
L 744.331575 -250.925802 
L 744.560238 -253.788512 
L 745.246225 -257.258008 
L 745.474888 -269.741452 
L 745.70355 -270.971799 
L 745.932212 -274.266673 
L 746.160875 -280.203218 
L 746.846863 -290.475977 
L 747.075525 -284.672405 
L 747.304188 -283.209701 
L 747.53285 -281.380861 
L 747.761512 -278.396716 
L 748.4475 -281.878419 
L 748.676163 -282.301581 
L 748.904825 -280.835703 
L 749.133488 -280.579423 
L 749.36215 -281.416531 
L 750.048138 -279.822776 
L 750.2768 -279.106208 
L 750.505463 -277.508756 
L 750.734125 -275.668733 
L 750.962787 -278.396716 
L 751.648775 -281.399147 
L 751.877438 -281.590681 
L 752.1061 -283.998526 
L 752.334763 -282.473332 
L 752.563425 -284.436346 
L 753.249413 -282.3686 
L 753.478075 -283.38332 
L 753.706738 -282.234545 
L 753.9354 -282.574497 
L 754.164062 -281.416531 
L 754.85005 -276.441775 
L 755.078713 -273.870045 
L 755.307375 -275.253267 
L 755.536038 -273.866992 
L 755.7647 -273.409752 
L 756.450688 -280.690878 
L 756.67935 -285.874437 
L 756.908013 -287.927266 
L 757.136675 -287.456162 
L 757.365338 -287.325159 
L 758.051325 -288.453851 
L 758.279988 -292.685171 
L 758.50865 -294.56151 
L 758.737313 -291.985885 
L 758.965975 -291.508839 
L 759.651963 -286.296504 
L 759.880625 -283.87133 
L 760.109288 -284.436346 
L 760.33795 -281.713425 
L 760.566613 -276.509376 
L 761.2526 -264.270319 
L 761.481263 -262.142433 
L 761.709925 -257.258008 
L 761.938588 -260.436456 
L 762.16725 -265.285072 
L 762.853237 -278.200662 
L 763.0819 -284.436346 
L 763.310563 -282.144586 
L 763.539225 -281.519594 
L 763.767888 -280.354981 
L 764.453875 -276.377871 
L 764.682538 -278.396716 
L 764.9112 -273.508252 
L 765.139863 -265.93695 
L 765.368525 -259.118875 
L 766.054513 -243.067038 
L 766.283175 -240.649023 
L 766.511838 -244.762304 
L 766.7405 -248.309837 
L 766.969163 -252.090022 
L 767.65515 -260.277823 
L 767.883812 -260.929178 
L 768.112475 -262.992935 
L 768.341138 -262.937697 
L 768.5698 -265.329866 
L 769.255787 -269.337269 
L 769.48445 -270.461449 
L 769.713113 -271.053631 
L 769.941775 -269.397108 
L 770.170438 -269.785949 
L 770.856425 -272.357085 
L 771.085088 -268.778045 
L 771.31375 -264.605671 
L 771.542413 -260.383774 
L 771.771075 -256.389891 
L 772.457063 -252.728284 
L 772.685725 -258.216643 
L 772.914387 -258.113583 
L 773.14305 -262.36611 
L 773.371713 -268.983812 
L 774.0577 -272.357085 
L 774.286362 -267.978262 
L 774.515025 -268.498548 
L 774.743688 -267.989258 
L 774.97235 -269.337269 
L 775.658338 -269.635395 
L 775.887 -268.714896 
L 776.115663 -270.91281 
L 776.344325 -271.327656 
L 776.572988 -272.357085 
L 777.258975 -265.588787 
L 777.487638 -260.785672 
L 777.7163 -256.959845 
L 777.944962 -258.061926 
L 778.173625 -254.238192 
L 778.859613 -258.933389 
L 779.088275 -261.124951 
L 779.316937 -262.849453 
L 779.5456 -264.780097 
L 779.774263 -266.317454 
L 780.46025 -268.095256 
L 780.688913 -263.986442 
L 780.917575 -264.248892 
L 781.146238 -264.756381 
L 781.3749 -267.827362 
L 782.060888 -267.446522 
L 782.28955 -264.622406 
L 782.518213 -261.169335 
L 782.746875 -263.297638 
L 782.975537 -264.408954 
L 783.661525 -260.638038 
L 783.890188 -259.327366 
L 784.11885 -261.281158 
L 784.347512 -261.787731 
L 784.576175 -261.464023 
L 785.262163 -259.118623 
L 785.490825 -258.35381 
L 785.719488 -260.277823 
L 785.94815 -260.277823 
L 786.176813 -260.277823 
L 786.8628 -260.277823 
L 787.091463 -260.277823 
L 787.320125 -260.277823 
L 787.548788 -260.277823 
L 787.77745 -260.277823 
L 788.463438 -260.277823 
L 788.6921 -260.277823 
L 788.920763 -260.277823 
L 789.149425 -260.277823 
L 789.378087 -260.277823 
L 790.064075 -260.277823 
L 790.292738 -260.277823 
L 790.5214 -260.277823 
L 790.750063 -260.277823 
L 790.978725 -260.277823 
L 791.664713 -260.277823 
L 791.893375 -260.277823 
L 792.122038 -260.277823 
L 792.3507 -260.277823 
L 792.579363 -260.277823 
L 793.26535 -260.277823 
L 793.494013 -260.277823 
L 793.722675 -260.277823 
L 793.951338 -289.875967 
L 794.18 -305.575054 
L 794.865988 -304.952802 
L 795.09465 -305.779138 
L 795.323313 -306.69556 
L 795.551975 -307.703535 
L 795.780638 -306.032495 
L 796.466625 -308.59487 
L 796.695288 -308.909369 
L 796.92395 -309.426001 
L 797.152613 -312.110471 
L 797.381275 -311.656896 
L 798.067262 -317.654316 
L 798.295925 -322.052991 
L 798.524588 -324.027684 
L 798.75325 -325.594657 
L 798.981913 -327.611843 
L 799.6679 -332.753393 
L 799.896563 -323.185506 
L 800.125225 -320.056882 
L 800.353888 -316.849983 
L 800.58255 -308.59487 
L 801.268538 -304.480278 
L 801.4972 -304.336979 
L 801.725863 -302.035351 
L 801.954525 -299.476813 
L 802.183188 -296.515608 
L 802.869175 -290.585643 
L 803.097837 -288.183644 
L 803.3265 -288.284176 
L 803.555163 -285.775556 
L 803.783825 -281.416531 
L 804.469812 -287.615559 
L 804.698475 -289.555486 
L 804.927138 -293.915278 
L 805.1558 -297.523377 
L 805.384463 -299.535423 
L 806.07045 -295.355787 
L 806.299113 -294.855474 
L 806.527775 -297.299607 
L 806.756438 -296.975276 
L 806.9851 -293.495793 
L 807.671087 -308.554486 
L 807.89975 -314.701521 
L 808.128413 -321.726848 
L 808.357075 -328.22367 
L 808.585738 -324.604593 
L 809.271725 -321.103959 
L 809.500387 -317.408386 
L 809.72905 -316.880343 
L 809.957713 -317.654316 
L 810.186375 -318.337621 
L 810.872363 -315.711858 
L 811.101025 -317.906286 
L 811.329688 -319.104751 
L 811.55835 -314.634501 
L 811.787013 -313.575601 
L 812.473 -310.754698 
L 812.701663 -309.730419 
L 812.930325 -311.614685 
L 813.158988 -312.290481 
L 813.38765 -311.438689 
L 814.073638 -310.816265 
L 814.3023 -309.254229 
L 814.530962 -308.59487 
L 814.759625 -306.236905 
L 814.988288 -304.293786 
L 815.674275 -296.485755 
L 815.902938 -290.475977 
L 816.1316 -289.035169 
L 816.360263 -286.247183 
L 816.588925 -282.635212 
L 817.274913 -271.896829 
L 817.503575 -272.357085 
L 817.732238 -274.776389 
L 817.9609 -276.265233 
L 818.189563 -276.039085 
L 818.87555 -280.684922 
L 819.104213 -284.436346 
L 819.332875 -283.226345 
L 819.561537 -281.612211 
L 819.7902 -282.732111 
L 820.476188 -287.456162 
L 820.70485 -289.402991 
L 820.933513 -287.985236 
L 821.162175 -287.947175 
L 821.390838 -290.103879 
L 822.076825 -290.475977 
L 822.305488 -285.27847 
L 822.53415 -288.040956 
L 822.762813 -287.678349 
L 822.991475 -287.754872 
L 823.677463 -281.416531 
L 823.906125 -285.361053 
L 824.134788 -285.690613 
L 824.36345 -287.65653 
L 824.592112 -287.975786 
L 825.2781 -290.475977 
L 825.506763 -296.024381 
L 825.735425 -300.811542 
L 825.964088 -301.764991 
L 826.19275 -301.541547 
L 826.878738 -305.575054 
L 827.1074 -304.279933 
L 827.336063 -302.621385 
L 827.564725 -301.407078 
L 827.793388 -296.515608 
L 828.479375 -288.677261 
L 828.708038 -285.979881 
L 828.9367 -283.537882 
L 829.165363 -281.434911 
L 829.394025 -272.357085 
L 830.080013 -271.285476 
L 830.308675 -274.51103 
L 830.537338 -275.74676 
L 830.766 -274.334554 
L 830.994663 -278.396716 
L 831.68065 -288.458625 
L 831.909313 -290.977942 
L 832.137975 -292.966453 
L 832.366638 -296.838788 
L 832.5953 -299.535423 
L 833.281288 -303.298161 
L 833.50995 -303.372279 
L 833.738613 -301.845817 
L 833.967275 -304.157771 
L 834.195938 -305.575054 
L 834.881925 -306.305103 
L 835.110588 -307.738331 
L 835.33925 -305.966506 
L 835.567913 -307.084962 
L 835.796575 -306.230762 
L 836.482563 -305.227491 
L 836.711225 -304.189358 
L 836.939888 -301.807384 
L 837.16855 -302.555239 
L 837.397213 -300.124003 
L 838.0832 -283.271369 
L 838.311863 -274.602564 
L 838.540525 -263.297638 
L 838.769188 -265.003311 
L 838.99785 -263.658863 
L 839.683837 -257.773285 
L 839.9125 -257.160501 
L 840.141163 -257.258008 
L 840.369825 -255.508248 
L 840.598488 -251.510586 
L 841.284475 -246.633567 
L 841.513138 -248.154556 
L 841.7418 -248.198561 
L 841.970463 -246.160965 
L 842.199125 -246.690052 
L 842.885113 -245.583552 
L 843.113775 -243.668838 
L 843.342438 -244.704541 
L 843.5711 -245.153225 
L 843.799763 -245.219842 
L 844.48575 -248.482184 
L 844.714412 -251.218377 
L 844.943075 -252.086705 
L 845.171738 -249.287538 
L 845.4004 -248.42302 
L 846.086388 -248.198561 
L 846.31505 -248.32013 
L 846.543713 -245.685799 
L 846.772375 -242.596128 
L 847.001038 -243.205143 
L 847.687025 -242.158931 
L 847.915688 -244.420284 
L 848.14435 -238.824459 
L 848.373013 -236.232481 
L 848.601675 -236.659983 
L 849.287663 -227.059853 
L 849.516325 -231.131091 
L 849.744987 -236.599655 
L 849.97365 -241.335932 
L 850.202313 -244.31852 
L 850.8883 -251.218377 
L 851.116962 -251.42101 
L 851.345625 -253.281943 
L 851.574288 -250.667203 
L 851.80295 -248.469176 
L 852.488938 -245.178746 
L 852.7176 -244.406394 
L 852.946263 -247.158098 
L 853.174925 -247.360424 
L 853.403588 -248.198561 
L 854.089575 -248.625554 
L 854.318238 -245.65567 
L 854.5469 -246.543236 
L 854.775563 -247.731091 
L 855.004225 -248.198561 
L 855.690213 -248.304172 
L 855.918875 -248.957944 
L 856.147537 -251.109375 
L 856.3762 -247.541329 
L 856.604863 -242.158931 
L 857.29085 -244.283944 
L 857.519513 -246.625479 
L 857.748175 -245.443488 
L 857.976838 -240.890449 
L 858.2055 -239.139115 
L 858.891488 -234.035278 
L 859.12015 -233.611107 
L 859.348813 -234.306509 
L 859.577475 -231.513975 
L 859.806138 -233.099484 
L 860.492125 -239.390625 
L 860.720788 -234.485265 
L 860.94945 -234.866561 
L 861.178112 -232.729886 
L 861.406775 -231.403528 
L 862.092763 -227.671875 
L 862.321425 -228.350263 
L 862.550088 -229.206379 
L 862.77875 -232.22247 
L 863.007413 -238.92497 
L 863.6934 -248.300639 
L 863.922063 -249.931801 
L 864.150725 -247.203125 
L 864.379388 -249.774923 
L 864.60805 -252.526561 
L 865.294038 -258.790871 
L 865.5227 -258.728276 
L 865.751363 -260.263334 
L 865.980025 -262.828125 
L 866.208687 -263.363835 
L 866.894675 -266.573818 
L 867.123338 -268.6875 
L 867.352 -263.366768 
L 867.580663 -262.719392 
L 867.809325 -258.240876 
L 868.495313 -240.510684 
L 868.723975 -235.484375 
L 868.952638 -238.050121 
L 869.1813 -237.133182 
L 869.409963 -237.130964 
L 870.09595 -243.104132 
L 870.324613 -244.844436 
L 870.553275 -244.991102 
L 870.781938 -247.741646 
L 871.0106 -247.203125 
L 871.696588 -244.951318 
L 871.92525 -244.577051 
L 872.153913 -245.767047 
L 872.382575 -243.403401 
L 872.611238 -243.296875 
L 873.297225 -244.359778 
L 873.525888 -246.943613 
L 873.75455 -249.279328 
L 873.983213 -251.109689 
L 874.211875 -249.295547 
L 874.897862 -251.109375 
L 875.126525 -250.130133 
L 875.355188 -247.671808 
L 875.58385 -248.028182 
L 875.812513 -247.023654 
L 876.4985 -245.25 
L 876.727163 -243.010574 
L 876.955825 -244.87872 
L 877.184488 -245.673225 
L 877.41315 -249.156115 
L 878.099138 -253.788699 
L 878.3278 -256.453091 
L 878.556463 -255.015625 
L 878.785125 -255.002684 
L 879.013788 -256.135562 
L 879.699775 -262.391856 
L 879.928437 -263.643274 
L 880.1571 -267.16813 
L 880.385763 -270.640625 
L 880.614425 -268.086646 
L 881.300412 -273.196374 
L 881.529075 -276.675035 
L 881.757738 -277.392709 
L 881.9864 -278.807796 
L 882.215063 -280.40625 
L 882.90105 -282.202738 
L 883.129713 -283.416693 
L 883.358375 -284.358327 
L 883.587038 -283.759165 
L 883.8157 -284.197571 
L 884.501688 -284.3125 
L 884.73035 -280.861975 
L 884.959012 -281.445847 
L 885.187675 -280.997007 
L 885.416338 -278.706417 
L 886.102325 -277.747906 
L 886.330987 -276.5 
L 886.55965 -274.420034 
L 886.788313 -271.464619 
L 887.016975 -271.942623 
L 887.702963 -271.911204 
L 887.931625 -270.678278 
L 888.160288 -270.219811 
L 888.38895 -270.640625 
L 888.617613 -269.183138 
L 889.3036 -266.33485 
L 889.532263 -264.68158 
L 889.760925 -265.898818 
L 889.989588 -268.250958 
L 890.21825 -262.828125 
L 890.904238 -256.966461 
L 891.1329 -255.804508 
L 891.361562 -255.995529 
L 891.590225 -254.237743 
L 891.818888 -251.277929 
L 892.504875 -251.109375 
L 892.733538 -243.295 
L 892.9622 -239.389946 
L 893.190863 -237.275601 
L 893.419525 -233.100971 
L 894.105513 -227.671875 
L 894.334175 -226.120031 
L 894.562838 -229.029307 
L 894.7915 -230.228405 
L 895.020163 -228.737302 
L 895.70615 -231.133285 
L 895.934813 -235.267462 
L 896.163475 -235.484375 
L 896.392137 -235.484743 
L 896.6208 -233.221118 
L 897.306788 -232.737708 
L 897.53545 -232.666416 
L 897.764113 -229.955697 
L 897.992775 -231.578125 
L 898.221438 -234.132458 
L 898.907425 -242.271889 
L 899.136088 -244.196689 
L 899.36475 -245.607826 
L 899.593413 -247.617733 
L 899.822075 -251.109375 
L 900.508063 -248.465983 
L 900.736725 -251.568418 
L 900.965388 -251.963374 
L 901.19405 -247.203125 
L 901.422712 -240.616848 
L 902.1087 -225.646008 
L 902.337363 -219.859375 
L 902.566025 -221.079693 
L 902.794688 -217.712021 
L 903.02335 -218.300873 
L 903.709338 -221.479481 
L 903.938 -222.293224 
L 904.166663 -224.248549 
L 904.395325 -224.83447 
L 904.623988 -224.530627 
L 905.309975 -223.765625 
L 905.538638 -223.473745 
L 905.7673 -227.475408 
L 905.995963 -227.356519 
L 906.224625 -225.05031 
L 906.910613 -224.275692 
L 907.139275 -226.195071 
L 907.367938 -224.84192 
L 907.5966 -222.466148 
L 907.825263 -224.202552 
L 908.51125 -225.272767 
L 908.739913 -224.149446 
L 908.968575 -223.765625 
L 909.197238 -224.015283 
L 909.4259 -224.010091 
L 910.111888 -224.878594 
L 910.34055 -223.527703 
L 910.569213 -223.895262 
L 910.797875 -226.65051 
L 911.026538 -225.71875 
L 911.712525 -224.98175 
L 911.941188 -227.25271 
L 912.16985 -226.444111 
L 912.398513 -226.069343 
L 912.627175 -227.671875 
L 913.313163 -215.088992 
L 913.541825 -212.450576 
L 913.770488 -206.701619 
L 913.99915 -192.515625 
L 914.227813 -192.54779 
L 914.9138 -190.401092 
L 915.142463 -188.744994 
L 915.371125 -189.673188 
L 915.599788 -186.65625 
L 915.82845 -187.546681 
L 916.514437 -193.252346 
L 916.7431 -195.06643 
L 916.971763 -196.734036 
L 917.200425 -195.501243 
L 917.429088 -198.375 
L 918.115075 -195.884317 
L 918.343738 -193.981582 
L 918.5724 -192.070646 
L 918.801063 -189.772339 
L 919.029725 -184.890202 
L 919.715713 -184.703125 
L 919.944375 -189.183353 
L 920.173038 -189.614347 
L 920.4017 -190.1969 
L 920.630363 -192.680409 
L 921.31635 -196.138616 
L 921.545012 -196.421875 
L 921.773675 -195.012322 
L 922.002338 -197.15616 
L 922.231 -195.427421 
L 922.916988 -194.744854 
L 923.14565 -195.452185 
L 923.374313 -194.46875 
L 923.602975 -195.495522 
L 923.831638 -197.89522 
L 924.517625 -198.120786 
L 924.746288 -198.936386 
L 924.97495 -202.872293 
L 925.203613 -205.956538 
L 925.432275 -204.234375 
L 926.118263 -201.29782 
L 926.346925 -201.811432 
L 926.575587 -199.581456 
L 926.80425 -198.217434 
L 927.032913 -196.421875 
L 927.7189 -197.96201 
L 927.947563 -198.757928 
L 928.176225 -200.884669 
L 928.404888 -202.909961 
L 928.63355 -203.490292 
L 929.319538 -208.140625 
L 929.5482 -209.503589 
L 929.776863 -210.761629 
L 930.005525 -210.933294 
L 930.234188 -212.627157 
L 930.920175 -213.628354 
L 931.148838 -212.046875 
L 931.3775 -213.601112 
L 931.606162 -211.313406 
L 931.834825 -211.490823 
L 932.520813 -211.429702 
L 932.749475 -213.498761 
L 932.978138 -208.27299 
L 933.2068 -208.140625 
L 933.435463 -208.45647 
L 934.12145 -212.715597 
L 934.350113 -213.492012 
L 934.578775 -213.100739 
L 934.807438 -213.434482 
L 935.0361 -214 
L 935.722088 -215.285674 
L 935.95075 -215.982772 
L 936.179413 -213.480993 
L 936.408075 -213.217155 
L 936.636737 -214.979538 
L 937.322725 -215.953125 
L 937.551388 -216.866757 
L 937.78005 -214.554539 
L 938.008713 -215.308714 
L 938.237375 -215.280496 
L 938.923363 -213.670148 
L 939.152025 -212.849172 
L 939.380688 -213.958132 
L 939.60935 -216.541504 
L 939.838013 -217.855312 
L 940.524 -215.953125 
L 940.752663 -220.196925 
L 940.981325 -221.768761 
L 941.209988 -221.712523 
L 941.43865 -223.779869 
L 942.124638 -227.671875 
L 942.3533 -225.80586 
L 942.581963 -220.365091 
L 942.810625 -216.780085 
L 943.039288 -208.140625 
L 943.725275 -199.799299 
L 943.953938 -196.409072 
L 944.1826 -192.461601 
L 944.411263 -187.180514 
L 944.639925 -176.890625 
L 945.325913 -169.572602 
L 945.554575 -167.284794 
L 945.783238 -162.498177 
L 946.0119 -157.359375 
L 946.240563 -164.268024 
L 946.92655 -182.255692 
L 947.155213 -188.609375 
L 947.383875 -189.217419 
L 947.612538 -187.995991 
L 947.8412 -189.828003 
L 948.527188 -191.75487 
L 948.75585 -191.72829 
L 948.984513 -191.75085 
L 949.213175 -192.515625 
L 949.441838 -192.200936 
L 950.127825 -198.548114 
L 950.356488 -201.582238 
L 950.58515 -205.736274 
L 950.813813 -208.140625 
L 951.042475 -206.448314 
L 951.728463 -206.312994 
L 951.957125 -204.337896 
L 952.185788 -201.350821 
L 952.41445 -201.351493 
L 952.643113 -204.234375 
L 953.3291 -204.037303 
L 953.557763 -209.955717 
L 953.786425 -211.215381 
L 954.015088 -211.411541 
L 954.24375 -212.389213 
L 954.929738 -215.953125 
L 955.1584 -216.869126 
L 955.387063 -216.877224 
L 955.615725 -218.446576 
L 955.844388 -221.176805 
L 956.530375 -219.859375 
L 956.759038 -219.863997 
L 956.9877 -217.639871 
L 957.216363 -217.452106 
L 957.445025 -217.600153 
L 958.131012 -215.953125 
L 958.359675 -213.656682 
L 958.588338 -213.422188 
L 958.817 -209.623171 
L 959.045663 -205.701193 
L 959.73165 -204.234375 
L 959.960313 -204.119941 
L 960.188975 -201.110608 
L 960.417638 -200.302105 
L 960.6463 -198.651842 
L 961.332288 -196.389536 
L 961.56095 -200.256344 
L 961.789613 -196.421875 
L 962.018275 -197.665059 
L 962.246938 -196.05359 
L 962.932925 -199.678992 
L 963.161587 -202.943772 
L 963.39025 -203.336822 
L 963.618913 -204.234375 
L 963.847575 -204.126426 
L 964.533563 -204.700486 
L 964.762225 -202.667989 
L 964.990888 -199.729547 
L 965.21955 -197.800472 
L 965.448213 -200.328125 
L 966.1342 -196.152449 
L 966.362863 -197.737063 
L 966.591525 -199.511524 
L 966.820188 -198.946784 
L 967.04885 -201.844969 
L 967.734838 -198.375 
L 967.9635 -199.558485 
L 968.192162 -199.864315 
L 968.420825 -203.44015 
L 968.649488 -202.104106 
L 969.335475 -201.519827 
L 969.564138 -204.234375 
L 969.7928 -202.354357 
L 970.021463 -204.561023 
L 970.250125 -203.783504 
L 970.936113 -201.243536 
L 971.164775 -204.145284 
L 971.393438 -205.654375 
L 971.6221 -205.654375 
L 971.850763 -205.654375 
L 972.53675 -205.654375 
L 972.765413 -205.654375 
L 972.994075 -205.654375 
L 973.222737 -205.654375 
L 973.4514 -205.654375 
L 974.137388 -205.654375 
L 974.36605 -205.654375 
L 974.594713 -205.654375 
L 974.823375 -205.654375 
L 975.052038 -205.654375 
L 975.738025 -205.654375 
L 975.966688 -205.654375 
L 976.19535 -205.654375 
L 976.424013 -205.654375 
L 976.652675 -205.654375 
L 977.338663 -205.654375 
L 977.567325 -205.654375 
L 977.795988 -205.654375 
L 978.02465 -205.654375 
L 978.253312 -205.654375 
L 978.9393 -205.654375 
L 979.167963 -205.654375 
L 979.396625 -205.654375 
L 979.625288 -205.654375 
L 979.85395 -205.654375 
L 980.539938 -205.654375 
L 980.7686 -205.654375 
L 980.997263 -205.654375 
L 981.225925 -205.654375 
L 981.454588 -205.654375 
L 982.140575 -205.654375 
L 982.369238 -205.654375 
L 982.5979 -205.654375 
L 982.826563 -205.654375 
L 983.055225 -205.654375 
L 983.741213 -205.654375 
L 983.969875 -205.654375 
L 984.198538 -205.654375 
L 984.4272 -205.654375 
L 984.655863 -205.654375 
L 985.34185 -205.654375 
L 985.570513 -205.654375 
L 985.799175 -205.654375 
L 986.027838 -205.654375 
L 986.2565 -205.654375 
L 986.942488 -205.654375 
L 987.17115 -205.654375 
L 987.399813 -205.654375 
L 987.628475 -205.654375 
L 987.857138 -205.654375 
L 988.543125 -205.654375 
L 988.771788 -205.654375 
L 989.00045 -205.654375 
L 989.229113 -205.54068 
L 989.457775 -206.088446 
L 990.143763 -209.402678 
L 990.372425 -205.380554 
L 990.601088 -203.877864 
L 990.82975 -198.80161 
L 991.058413 -196.529351 
L 991.7444 -195.825967 
L 991.973063 -194.604135 
L 992.201725 -190.186016 
L 992.430388 -186.23069 
L 992.65905 -187.114069 
L 993.345038 -184.190122 
L 993.5737 -183.656025 
L 993.802363 -183.41915 
L 994.031025 -184.510488 
L 994.259688 -185.3197 
L 994.945675 -189.480836 
L 995.174338 -190.092688 
L 995.403 -191.743501 
L 995.631663 -188.497958 
L 995.860325 -189.194303 
L 996.546313 -189.404565 
L 996.774975 -190.757079 
L 997.003638 -188.805355 
L 997.2323 -187.325886 
L 997.460963 -186.000518 
L 998.14695 -186.211929 
L 998.375613 -189.050984 
L 998.604275 -190.38153 
L 998.832938 -188.553475 
L 999.0616 -188.144017 
L 999.747588 -190.092688 
L 999.97625 -190.51686 
L 1000.204913 -189.620586 
L 1000.433575 -188.562546 
L 1000.662238 -186.915118 
L 1001.348225 -185.444887 
L 1001.576888 -189.631231 
L 1001.80555 -188.219454 
L 1002.034213 -188.805355 
L 1002.262875 -189.660976 
L 1002.948863 -193.041641 
L 1003.177525 -192.897976 
L 1003.406188 -195.242019 
L 1003.63485 -194.307235 
L 1003.863513 -193.595623 
L 1004.5495 -191.380021 
L 1004.778163 -188.567773 
L 1005.006825 -189.390767 
L 1005.235488 -188.432872 
L 1005.46415 -189.330318 
L 1006.150138 -188.805355 
L 1006.3788 -192.531642 
L 1006.607463 -192.022146 
L 1006.836125 -192.969929 
L 1007.064788 -193.954686 
L 1007.750775 -197.913712 
L 1007.979438 -198.640955 
L 1008.2081 -197.492904 
L 1008.436763 -196.529351 
L 1008.665425 -197.664227 
L 1009.351413 -197.542436 
L 1009.580075 -197.228801 
L 1009.808738 -199.104016 
L 1010.0374 -197.491757 
L 1010.266063 -195.519316 
L 1010.95205 -193.495745 
L 1011.180713 -196.529351 
L 1011.409375 -198.595349 
L 1011.638038 -200.545359 
L 1011.8667 -200.018152 
L 1012.552688 -200.391349 
L 1012.78135 -198.705002 
L 1013.010013 -199.217056 
L 1013.238675 -199.718417 
L 1013.467338 -199.104016 
L 1014.153325 -204.026756 
L 1014.381988 -204.141642 
L 1014.61065 -200.988972 
L 1014.839313 -204.253347 
L 1015.067975 -200.156993 
L 1015.753963 -196.529351 
L 1015.982625 -188.843519 
L 1016.211288 -183.772645 
L 1016.43995 -173.383614 
L 1016.668613 -165.633368 
L 1017.3546 -147.982111 
L 1017.583263 -139.886715 
L 1017.811925 -133.825979 
L 1018.040588 -130.047019 
L 1018.26925 -127.013388 
L 1018.955238 -85.557037 
L 1019.1839 -71.832697 
L 1019.412563 -60.072091 
L 1019.641225 -70.848377 
L 1019.869888 -76.746089 
L 1020.555875 -85.818744 
L 1020.784538 -102.190638 
L 1021.0132 -110.621574 
L 1021.241863 -122.353104 
L 1021.470525 -128.300721 
L 1022.156513 -129.725687 
L 1022.385175 -129.98279 
L 1022.613838 -129.588054 
L 1022.8425 -127.970164 
L 1023.071163 -126.764362 
L 1023.75715 -115.637207 
L 1023.985813 -111.565396 
L 1024.214475 -114.300209 
L 1024.443138 -113.795629 
L 1024.6718 -109.618311 
L 1025.357788 -112.852729 
L 1025.58645 -111.10737 
L 1025.815113 -110.492696 
L 1026.043775 -111.084364 
L 1026.272438 -111.565396 
L 1026.958425 -112.039013 
L 1027.187087 -108.898157 
L 1027.41575 -111.814832 
L 1027.644413 -112.441717 
L 1027.873075 -110.278064 
L 1028.559062 -108.309134 
L 1028.787725 -110.156608 
L 1029.016388 -108.990731 
L 1029.24505 -109.097619 
L 1029.473713 -109.370123 
L 1030.1597 -107.22569 
L 1030.388363 -108.990731 
L 1030.617025 -109.361142 
L 1030.845688 -107.430612 
L 1031.07435 -105.966037 
L 1031.760338 -103.841401 
L 1031.989 -107.83469 
L 1032.217663 -107.521748 
L 1032.446325 -106.176024 
L 1032.674988 -106.416066 
L 1033.360975 -106.933705 
L 1033.589638 -108.359282 
L 1033.8183 -110.093672 
L 1034.046963 -111.233066 
L 1034.275625 -108.990731 
L 1034.961613 -107.968067 
L 1035.190275 -106.655415 
L 1035.418938 -107.816284 
L 1035.6476 -108.987787 
L 1035.876263 -109.871245 
L 1036.56225 -108.982624 
L 1036.790913 -106.416066 
L 1037.019575 -109.805003 
L 1037.248237 -108.912821 
L 1037.4769 -105.383645 
L 1038.162888 -104.386729 
L 1038.39155 -104.674925 
L 1038.620212 -108.371266 
L 1038.848875 -109.338608 
L 1039.077538 -109.116787 
L 1039.763525 -108.990731 
L 1039.992188 -111.032645 
L 1040.22085 -111.212359 
L 1040.449513 -108.594829 
L 1040.678175 -106.746403 
L 1041.364163 -105.953197 
L 1041.592825 -106.080258 
L 1041.821488 -104.966765 
L 1042.05015 -105.128733 
L 1042.278813 -106.967948 
L 1042.9648 -104.535812 
L 1043.193463 -102.730947 
L 1043.422125 -103.611958 
L 1043.650788 -103.408319 
L 1043.87945 -105.480346 
L 1044.565438 -103.841401 
L 1044.7941 -105.149256 
L 1045.022763 -103.68843 
L 1045.251425 -104.563308 
L 1045.480088 -106.255092 
L 1046.166075 -107.01917 
L 1046.394738 -108.459224 
L 1046.6234 -104.901102 
L 1046.852063 -104.18335 
L 1047.080725 -108.990731 
L 1047.766713 -108.50646 
L 1047.995375 -107.562093 
L 1048.224038 -104.911795 
L 1048.4527 -101.756277 
L 1048.681362 -102.197003 
L 1049.36735 -103.14297 
L 1049.596013 -100.359643 
L 1049.824675 -97.404737 
L 1050.053337 -95.414105 
L 1050.282 -97.023103 
L 1050.967988 -103.116797 
L 1051.19665 -103.137205 
L 1051.425313 -101.565164 
L 1051.653975 -101.574536 
L 1051.882638 -98.98855 
L 1052.568625 -99.979403 
L 1052.797288 -99.86858 
L 1053.02595 -97.817777 
L 1053.254613 -99.597712 
L 1053.483275 -100.852175 
L 1054.169263 -100.681166 
L 1054.397925 -99.946084 
L 1054.626588 -98.358188 
L 1054.85525 -98.69207 
L 1055.083913 -97.248694 
L 1055.7699 -98.316211 
L 1055.998563 -96.716702 
L 1056.227225 -96.135357 
L 1056.455888 -97.27292 
L 1056.68455 -96.652926 
L 1057.370537 -99.979403 
L 1057.5992 -96.184063 
L 1057.827863 -97.9844 
L 1058.056525 -100.42728 
L 1058.285188 -102.59702 
L 1058.971175 -99.86951 
L 1059.199838 -96.392676 
L 1059.4285 -99.294905 
L 1059.657163 -99.759943 
L 1059.885825 -98.69207 
L 1060.571813 -99.382484 
L 1060.800475 -98.911352 
L 1061.029138 -94.868315 
L 1061.2578 -93.186765 
L 1061.486463 -94.597103 
L 1062.17245 -95.256803 
L 1062.401113 -92.663035 
L 1062.629775 -93.542739 
L 1062.858438 -92.978681 
L 1062.858438 -404.625 
L 1062.858438 -404.625 
L 1062.629775 -404.625 
L 1062.401113 -404.625 
L 1062.17245 -404.625 
L 1061.486463 -404.625 
L 1061.2578 -404.625 
L 1061.029138 -404.625 
L 1060.800475 -404.625 
L 1060.571813 -404.625 
L 1059.885825 -404.625 
L 1059.657163 -404.625 
L 1059.4285 -404.625 
L 1059.199838 -404.625 
L 1058.971175 -404.625 
L 1058.285188 -404.625 
L 1058.056525 -404.625 
L 1057.827863 -404.625 
L 1057.5992 -404.625 
L 1057.370537 -404.625 
L 1056.68455 -404.625 
L 1056.455888 -404.625 
L 1056.227225 -404.625 
L 1055.998563 -404.625 
L 1055.7699 -404.625 
L 1055.083913 -404.625 
L 1054.85525 -404.625 
L 1054.626588 -404.625 
L 1054.397925 -404.625 
L 1054.169263 -404.625 
L 1053.483275 -404.625 
L 1053.254613 -404.625 
L 1053.02595 -404.625 
L 1052.797288 -404.625 
L 1052.568625 -404.625 
L 1051.882638 -404.625 
L 1051.653975 -404.625 
L 1051.425313 -404.625 
L 1051.19665 -404.625 
L 1050.967988 -404.625 
L 1050.282 -404.625 
L 1050.053337 -404.625 
L 1049.824675 -404.625 
L 1049.596013 -404.625 
L 1049.36735 -404.625 
L 1048.681362 -404.625 
L 1048.4527 -404.625 
L 1048.224038 -404.625 
L 1047.995375 -404.625 
L 1047.766713 -404.625 
L 1047.080725 -404.625 
L 1046.852063 -404.625 
L 1046.6234 -404.625 
L 1046.394738 -404.625 
L 1046.166075 -404.625 
L 1045.480088 -404.625 
L 1045.251425 -404.625 
L 1045.022763 -404.625 
L 1044.7941 -404.625 
L 1044.565438 -404.625 
L 1043.87945 -404.625 
L 1043.650788 -404.625 
L 1043.422125 -404.625 
L 1043.193463 -404.625 
L 1042.9648 -404.625 
L 1042.278813 -404.625 
L 1042.05015 -404.625 
L 1041.821488 -404.625 
L 1041.592825 -404.625 
L 1041.364163 -404.625 
L 1040.678175 -404.625 
L 1040.449513 -404.625 
L 1040.22085 -404.625 
L 1039.992188 -404.625 
L 1039.763525 -404.625 
L 1039.077538 -404.625 
L 1038.848875 -404.625 
L 1038.620212 -404.625 
L 1038.39155 -404.625 
L 1038.162888 -404.625 
L 1037.4769 -404.625 
L 1037.248237 -404.625 
L 1037.019575 -404.625 
L 1036.790913 -404.625 
L 1036.56225 -404.625 
L 1035.876263 -404.625 
L 1035.6476 -404.625 
L 1035.418938 -404.625 
L 1035.190275 -404.625 
L 1034.961613 -404.625 
L 1034.275625 -404.625 
L 1034.046963 -404.625 
L 1033.8183 -404.625 
L 1033.589638 -404.625 
L 1033.360975 -404.625 
L 1032.674988 -404.625 
L 1032.446325 -404.625 
L 1032.217663 -404.625 
L 1031.989 -404.625 
L 1031.760338 -404.625 
L 1031.07435 -404.625 
L 1030.845688 -404.625 
L 1030.617025 -404.625 
L 1030.388363 -404.625 
L 1030.1597 -404.625 
L 1029.473713 -404.625 
L 1029.24505 -404.625 
L 1029.016388 -404.625 
L 1028.787725 -404.625 
L 1028.559062 -404.625 
L 1027.873075 -404.625 
L 1027.644413 -404.625 
L 1027.41575 -404.625 
L 1027.187087 -404.625 
L 1026.958425 -404.625 
L 1026.272438 -404.625 
L 1026.043775 -404.625 
L 1025.815113 -404.625 
L 1025.58645 -404.625 
L 1025.357788 -404.625 
L 1024.6718 -404.625 
L 1024.443138 -404.625 
L 1024.214475 -404.625 
L 1023.985813 -404.625 
L 1023.75715 -404.625 
L 1023.071163 -404.625 
L 1022.8425 -404.625 
L 1022.613838 -404.625 
L 1022.385175 -404.625 
L 1022.156513 -404.625 
L 1021.470525 -404.625 
L 1021.241863 -404.625 
L 1021.0132 -404.625 
L 1020.784538 -404.625 
L 1020.555875 -404.625 
L 1019.869888 -404.625 
L 1019.641225 -404.625 
L 1019.412563 -404.625 
L 1019.1839 -404.625 
L 1018.955238 -404.625 
L 1018.26925 -404.625 
L 1018.040588 -404.625 
L 1017.811925 -404.625 
L 1017.583263 -404.625 
L 1017.3546 -404.625 
L 1016.668613 -404.625 
L 1016.43995 -404.625 
L 1016.211288 -404.625 
L 1015.982625 -404.625 
L 1015.753963 -404.625 
L 1015.067975 -404.625 
L 1014.839313 -404.625 
L 1014.61065 -404.625 
L 1014.381988 -404.625 
L 1014.153325 -404.625 
L 1013.467338 -404.625 
L 1013.238675 -404.625 
L 1013.010013 -404.625 
L 1012.78135 -404.625 
L 1012.552688 -404.625 
L 1011.8667 -404.625 
L 1011.638038 -404.625 
L 1011.409375 -404.625 
L 1011.180713 -404.625 
L 1010.95205 -404.625 
L 1010.266063 -404.625 
L 1010.0374 -404.625 
L 1009.808738 -404.625 
L 1009.580075 -404.625 
L 1009.351413 -404.625 
L 1008.665425 -404.625 
L 1008.436763 -404.625 
L 1008.2081 -404.625 
L 1007.979438 -404.625 
L 1007.750775 -404.625 
L 1007.064788 -404.625 
L 1006.836125 -404.625 
L 1006.607463 -404.625 
L 1006.3788 -404.625 
L 1006.150138 -404.625 
L 1005.46415 -404.625 
L 1005.235488 -404.625 
L 1005.006825 -404.625 
L 1004.778163 -404.625 
L 1004.5495 -404.625 
L 1003.863513 -404.625 
L 1003.63485 -404.625 
L 1003.406188 -404.625 
L 1003.177525 -404.625 
L 1002.948863 -404.625 
L 1002.262875 -404.625 
L 1002.034213 -404.625 
L 1001.80555 -404.625 
L 1001.576888 -404.625 
L 1001.348225 -404.625 
L 1000.662238 -404.625 
L 1000.433575 -404.625 
L 1000.204913 -404.625 
L 999.97625 -404.625 
L 999.747588 -404.625 
L 999.0616 -404.625 
L 998.832938 -404.625 
L 998.604275 -404.625 
L 998.375613 -404.625 
L 998.14695 -404.625 
L 997.460963 -404.625 
L 997.2323 -404.625 
L 997.003638 -404.625 
L 996.774975 -404.625 
L 996.546313 -404.625 
L 995.860325 -404.625 
L 995.631663 -404.625 
L 995.403 -404.625 
L 995.174338 -404.625 
L 994.945675 -404.625 
L 994.259688 -404.625 
L 994.031025 -404.625 
L 993.802363 -404.625 
L 993.5737 -404.625 
L 993.345038 -404.625 
L 992.65905 -404.625 
L 992.430388 -404.625 
L 992.201725 -404.625 
L 991.973063 -404.625 
L 991.7444 -404.625 
L 991.058413 -404.625 
L 990.82975 -404.625 
L 990.601088 -404.625 
L 990.372425 -404.625 
L 990.143763 -404.625 
L 989.457775 -404.625 
L 989.229113 -404.625 
L 989.00045 -404.625 
L 988.771788 -404.625 
L 988.543125 -404.625 
L 987.857138 -404.625 
L 987.628475 -404.625 
L 987.399813 -404.625 
L 987.17115 -404.625 
L 986.942488 -404.625 
L 986.2565 -404.625 
L 986.027838 -404.625 
L 985.799175 -404.625 
L 985.570513 -404.625 
L 985.34185 -404.625 
L 984.655863 -404.625 
L 984.4272 -404.625 
L 984.198538 -404.625 
L 983.969875 -404.625 
L 983.741213 -404.625 
L 983.055225 -404.625 
L 982.826563 -404.625 
L 982.5979 -404.625 
L 982.369238 -404.625 
L 982.140575 -404.625 
L 981.454588 -404.625 
L 981.225925 -404.625 
L 980.997263 -404.625 
L 980.7686 -404.625 
L 980.539938 -404.625 
L 979.85395 -404.625 
L 979.625288 -404.625 
L 979.396625 -404.625 
L 979.167963 -404.625 
L 978.9393 -404.625 
L 978.253312 -404.625 
L 978.02465 -404.625 
L 977.795988 -404.625 
L 977.567325 -404.625 
L 977.338663 -404.625 
L 976.652675 -404.625 
L 976.424013 -404.625 
L 976.19535 -404.625 
L 975.966688 -404.625 
L 975.738025 -404.625 
L 975.052038 -404.625 
L 974.823375 -404.625 
L 974.594713 -404.625 
L 974.36605 -404.625 
L 974.137388 -404.625 
L 973.4514 -404.625 
L 973.222737 -404.625 
L 972.994075 -404.625 
L 972.765413 -404.625 
L 972.53675 -404.625 
L 971.850763 -404.625 
L 971.6221 -404.625 
L 971.393438 -404.625 
L 971.164775 -404.625 
L 970.936113 -404.625 
L 970.250125 -404.625 
L 970.021463 -404.625 
L 969.7928 -404.625 
L 969.564138 -404.625 
L 969.335475 -404.625 
L 968.649488 -404.625 
L 968.420825 -404.625 
L 968.192162 -404.625 
L 967.9635 -404.625 
L 967.734838 -404.625 
L 967.04885 -404.625 
L 966.820188 -404.625 
L 966.591525 -404.625 
L 966.362863 -404.625 
L 966.1342 -404.625 
L 965.448213 -404.625 
L 965.21955 -404.625 
L 964.990888 -404.625 
L 964.762225 -404.625 
L 964.533563 -404.625 
L 963.847575 -404.625 
L 963.618913 -404.625 
L 963.39025 -404.625 
L 963.161587 -404.625 
L 962.932925 -404.625 
L 962.246938 -404.625 
L 962.018275 -404.625 
L 961.789613 -404.625 
L 961.56095 -404.625 
L 961.332288 -404.625 
L 960.6463 -404.625 
L 960.417638 -404.625 
L 960.188975 -404.625 
L 959.960313 -404.625 
L 959.73165 -404.625 
L 959.045663 -404.625 
L 958.817 -404.625 
L 958.588338 -404.625 
L 958.359675 -404.625 
L 958.131012 -404.625 
L 957.445025 -404.625 
L 957.216363 -404.625 
L 956.9877 -404.625 
L 956.759038 -404.625 
L 956.530375 -404.625 
L 955.844388 -404.625 
L 955.615725 -404.625 
L 955.387063 -404.625 
L 955.1584 -404.625 
L 954.929738 -404.625 
L 954.24375 -404.625 
L 954.015088 -404.625 
L 953.786425 -404.625 
L 953.557763 -404.625 
L 953.3291 -404.625 
L 952.643113 -404.625 
L 952.41445 -404.625 
L 952.185788 -404.625 
L 951.957125 -404.625 
L 951.728463 -404.625 
L 951.042475 -404.625 
L 950.813813 -404.625 
L 950.58515 -404.625 
L 950.356488 -404.625 
L 950.127825 -404.625 
L 949.441838 -404.625 
L 949.213175 -404.625 
L 948.984513 -404.625 
L 948.75585 -404.625 
L 948.527188 -404.625 
L 947.8412 -404.625 
L 947.612538 -404.625 
L 947.383875 -404.625 
L 947.155213 -404.625 
L 946.92655 -404.625 
L 946.240563 -404.625 
L 946.0119 -404.625 
L 945.783238 -404.625 
L 945.554575 -404.625 
L 945.325913 -404.625 
L 944.639925 -404.625 
L 944.411263 -404.625 
L 944.1826 -404.625 
L 943.953938 -404.625 
L 943.725275 -404.625 
L 943.039288 -404.625 
L 942.810625 -404.625 
L 942.581963 -404.625 
L 942.3533 -404.625 
L 942.124638 -404.625 
L 941.43865 -404.625 
L 941.209988 -404.625 
L 940.981325 -404.625 
L 940.752663 -404.625 
L 940.524 -404.625 
L 939.838013 -404.625 
L 939.60935 -404.625 
L 939.380688 -404.625 
L 939.152025 -404.625 
L 938.923363 -404.625 
L 938.237375 -404.625 
L 938.008713 -404.625 
L 937.78005 -404.625 
L 937.551388 -404.625 
L 937.322725 -404.625 
L 936.636737 -404.625 
L 936.408075 -404.625 
L 936.179413 -404.625 
L 935.95075 -404.625 
L 935.722088 -404.625 
L 935.0361 -404.625 
L 934.807438 -404.625 
L 934.578775 -404.625 
L 934.350113 -404.625 
L 934.12145 -404.625 
L 933.435463 -404.625 
L 933.2068 -404.625 
L 932.978138 -404.625 
L 932.749475 -404.625 
L 932.520813 -404.625 
L 931.834825 -404.625 
L 931.606162 -404.625 
L 931.3775 -404.625 
L 931.148838 -404.625 
L 930.920175 -404.625 
L 930.234188 -404.625 
L 930.005525 -404.625 
L 929.776863 -404.625 
L 929.5482 -404.625 
L 929.319538 -404.625 
L 928.63355 -404.625 
L 928.404888 -404.625 
L 928.176225 -404.625 
L 927.947563 -404.625 
L 927.7189 -404.625 
L 927.032913 -404.625 
L 926.80425 -404.625 
L 926.575587 -404.625 
L 926.346925 -404.625 
L 926.118263 -404.625 
L 925.432275 -404.625 
L 925.203613 -404.625 
L 924.97495 -404.625 
L 924.746288 -404.625 
L 924.517625 -404.625 
L 923.831638 -404.625 
L 923.602975 -404.625 
L 923.374313 -404.625 
L 923.14565 -404.625 
L 922.916988 -404.625 
L 922.231 -404.625 
L 922.002338 -404.625 
L 921.773675 -404.625 
L 921.545012 -404.625 
L 921.31635 -404.625 
L 920.630363 -404.625 
L 920.4017 -404.625 
L 920.173038 -404.625 
L 919.944375 -404.625 
L 919.715713 -404.625 
L 919.029725 -404.625 
L 918.801063 -404.625 
L 918.5724 -404.625 
L 918.343738 -404.625 
L 918.115075 -404.625 
L 917.429088 -404.625 
L 917.200425 -404.625 
L 916.971763 -404.625 
L 916.7431 -404.625 
L 916.514437 -404.625 
L 915.82845 -404.625 
L 915.599788 -404.625 
L 915.371125 -404.625 
L 915.142463 -404.625 
L 914.9138 -404.625 
L 914.227813 -404.625 
L 913.99915 -404.625 
L 913.770488 -404.625 
L 913.541825 -404.625 
L 913.313163 -404.625 
L 912.627175 -404.625 
L 912.398513 -404.625 
L 912.16985 -404.625 
L 911.941188 -404.625 
L 911.712525 -404.625 
L 911.026538 -404.625 
L 910.797875 -404.625 
L 910.569213 -404.625 
L 910.34055 -404.625 
L 910.111888 -404.625 
L 909.4259 -404.625 
L 909.197238 -404.625 
L 908.968575 -404.625 
L 908.739913 -404.625 
L 908.51125 -404.625 
L 907.825263 -404.625 
L 907.5966 -404.625 
L 907.367938 -404.625 
L 907.139275 -404.625 
L 906.910613 -404.625 
L 906.224625 -404.625 
L 905.995963 -404.625 
L 905.7673 -404.625 
L 905.538638 -404.625 
L 905.309975 -404.625 
L 904.623988 -404.625 
L 904.395325 -404.625 
L 904.166663 -404.625 
L 903.938 -404.625 
L 903.709338 -404.625 
L 903.02335 -404.625 
L 902.794688 -404.625 
L 902.566025 -404.625 
L 902.337363 -404.625 
L 902.1087 -404.625 
L 901.422712 -404.625 
L 901.19405 -404.625 
L 900.965388 -404.625 
L 900.736725 -404.625 
L 900.508063 -404.625 
L 899.822075 -404.625 
L 899.593413 -404.625 
L 899.36475 -404.625 
L 899.136088 -404.625 
L 898.907425 -404.625 
L 898.221438 -404.625 
L 897.992775 -404.625 
L 897.764113 -404.625 
L 897.53545 -404.625 
L 897.306788 -404.625 
L 896.6208 -404.625 
L 896.392137 -404.625 
L 896.163475 -404.625 
L 895.934813 -404.625 
L 895.70615 -404.625 
L 895.020163 -404.625 
L 894.7915 -404.625 
L 894.562838 -404.625 
L 894.334175 -404.625 
L 894.105513 -404.625 
L 893.419525 -404.625 
L 893.190863 -404.625 
L 892.9622 -404.625 
L 892.733538 -404.625 
L 892.504875 -404.625 
L 891.818888 -404.625 
L 891.590225 -404.625 
L 891.361562 -404.625 
L 891.1329 -404.625 
L 890.904238 -404.625 
L 890.21825 -404.625 
L 889.989588 -404.625 
L 889.760925 -404.625 
L 889.532263 -404.625 
L 889.3036 -404.625 
L 888.617613 -404.625 
L 888.38895 -404.625 
L 888.160288 -404.625 
L 887.931625 -404.625 
L 887.702963 -404.625 
L 887.016975 -404.625 
L 886.788313 -404.625 
L 886.55965 -404.625 
L 886.330987 -404.625 
L 886.102325 -404.625 
L 885.416338 -404.625 
L 885.187675 -404.625 
L 884.959012 -404.625 
L 884.73035 -404.625 
L 884.501688 -404.625 
L 883.8157 -404.625 
L 883.587038 -404.625 
L 883.358375 -404.625 
L 883.129713 -404.625 
L 882.90105 -404.625 
L 882.215063 -404.625 
L 881.9864 -404.625 
L 881.757738 -404.625 
L 881.529075 -404.625 
L 881.300412 -404.625 
L 880.614425 -404.625 
L 880.385763 -404.625 
L 880.1571 -404.625 
L 879.928437 -404.625 
L 879.699775 -404.625 
L 879.013788 -404.625 
L 878.785125 -404.625 
L 878.556463 -404.625 
L 878.3278 -404.625 
L 878.099138 -404.625 
L 877.41315 -404.625 
L 877.184488 -404.625 
L 876.955825 -404.625 
L 876.727163 -404.625 
L 876.4985 -404.625 
L 875.812513 -404.625 
L 875.58385 -404.625 
L 875.355188 -404.625 
L 875.126525 -404.625 
L 874.897862 -404.625 
L 874.211875 -404.625 
L 873.983213 -404.625 
L 873.75455 -404.625 
L 873.525888 -404.625 
L 873.297225 -404.625 
L 872.611238 -404.625 
L 872.382575 -404.625 
L 872.153913 -404.625 
L 871.92525 -404.625 
L 871.696588 -404.625 
L 871.0106 -404.625 
L 870.781938 -404.625 
L 870.553275 -404.625 
L 870.324613 -404.625 
L 870.09595 -404.625 
L 869.409963 -404.625 
L 869.1813 -404.625 
L 868.952638 -404.625 
L 868.723975 -404.625 
L 868.495313 -404.625 
L 867.809325 -404.625 
L 867.580663 -404.625 
L 867.352 -404.625 
L 867.123338 -404.625 
L 866.894675 -404.625 
L 866.208687 -404.625 
L 865.980025 -404.625 
L 865.751363 -404.625 
L 865.5227 -404.625 
L 865.294038 -404.625 
L 864.60805 -404.625 
L 864.379388 -404.625 
L 864.150725 -404.625 
L 863.922063 -404.625 
L 863.6934 -404.625 
L 863.007413 -404.625 
L 862.77875 -404.625 
L 862.550088 -404.625 
L 862.321425 -404.625 
L 862.092763 -404.625 
L 861.406775 -404.625 
L 861.178112 -404.625 
L 860.94945 -404.625 
L 860.720788 -404.625 
L 860.492125 -404.625 
L 859.806138 -404.625 
L 859.577475 -404.625 
L 859.348813 -404.625 
L 859.12015 -404.625 
L 858.891488 -404.625 
L 858.2055 -404.625 
L 857.976838 -404.625 
L 857.748175 -404.625 
L 857.519513 -404.625 
L 857.29085 -404.625 
L 856.604863 -404.625 
L 856.3762 -404.625 
L 856.147537 -404.625 
L 855.918875 -404.625 
L 855.690213 -404.625 
L 855.004225 -404.625 
L 854.775563 -404.625 
L 854.5469 -404.625 
L 854.318238 -404.625 
L 854.089575 -404.625 
L 853.403588 -404.625 
L 853.174925 -404.625 
L 852.946263 -404.625 
L 852.7176 -404.625 
L 852.488938 -404.625 
L 851.80295 -404.625 
L 851.574288 -404.625 
L 851.345625 -404.625 
L 851.116962 -404.625 
L 850.8883 -404.625 
L 850.202313 -404.625 
L 849.97365 -404.625 
L 849.744987 -404.625 
L 849.516325 -404.625 
L 849.287663 -404.625 
L 848.601675 -404.625 
L 848.373013 -404.625 
L 848.14435 -404.625 
L 847.915688 -404.625 
L 847.687025 -404.625 
L 847.001038 -404.625 
L 846.772375 -404.625 
L 846.543713 -404.625 
L 846.31505 -404.625 
L 846.086388 -404.625 
L 845.4004 -404.625 
L 845.171738 -404.625 
L 844.943075 -404.625 
L 844.714412 -404.625 
L 844.48575 -404.625 
L 843.799763 -404.625 
L 843.5711 -404.625 
L 843.342438 -404.625 
L 843.113775 -404.625 
L 842.885113 -404.625 
L 842.199125 -404.625 
L 841.970463 -404.625 
L 841.7418 -404.625 
L 841.513138 -404.625 
L 841.284475 -404.625 
L 840.598488 -404.625 
L 840.369825 -404.625 
L 840.141163 -404.625 
L 839.9125 -404.625 
L 839.683837 -404.625 
L 838.99785 -404.625 
L 838.769188 -404.625 
L 838.540525 -404.625 
L 838.311863 -404.625 
L 838.0832 -404.625 
L 837.397213 -404.625 
L 837.16855 -404.625 
L 836.939888 -404.625 
L 836.711225 -404.625 
L 836.482563 -404.625 
L 835.796575 -404.625 
L 835.567913 -404.625 
L 835.33925 -404.625 
L 835.110588 -404.625 
L 834.881925 -404.625 
L 834.195938 -404.625 
L 833.967275 -404.625 
L 833.738613 -404.625 
L 833.50995 -404.625 
L 833.281288 -404.625 
L 832.5953 -404.625 
L 832.366638 -404.625 
L 832.137975 -404.625 
L 831.909313 -404.625 
L 831.68065 -404.625 
L 830.994663 -404.625 
L 830.766 -404.625 
L 830.537338 -404.625 
L 830.308675 -404.625 
L 830.080013 -404.625 
L 829.394025 -404.625 
L 829.165363 -404.625 
L 828.9367 -404.625 
L 828.708038 -404.625 
L 828.479375 -404.625 
L 827.793388 -404.625 
L 827.564725 -404.625 
L 827.336063 -404.625 
L 827.1074 -404.625 
L 826.878738 -404.625 
L 826.19275 -404.625 
L 825.964088 -404.625 
L 825.735425 -404.625 
L 825.506763 -404.625 
L 825.2781 -404.625 
L 824.592112 -404.625 
L 824.36345 -404.625 
L 824.134788 -404.625 
L 823.906125 -404.625 
L 823.677463 -404.625 
L 822.991475 -404.625 
L 822.762813 -404.625 
L 822.53415 -404.625 
L 822.305488 -404.625 
L 822.076825 -404.625 
L 821.390838 -404.625 
L 821.162175 -404.625 
L 820.933513 -404.625 
L 820.70485 -404.625 
L 820.476188 -404.625 
L 819.7902 -404.625 
L 819.561537 -404.625 
L 819.332875 -404.625 
L 819.104213 -404.625 
L 818.87555 -404.625 
L 818.189563 -404.625 
L 817.9609 -404.625 
L 817.732238 -404.625 
L 817.503575 -404.625 
L 817.274913 -404.625 
L 816.588925 -404.625 
L 816.360263 -404.625 
L 816.1316 -404.625 
L 815.902938 -404.625 
L 815.674275 -404.625 
L 814.988288 -404.625 
L 814.759625 -404.625 
L 814.530962 -404.625 
L 814.3023 -404.625 
L 814.073638 -404.625 
L 813.38765 -404.625 
L 813.158988 -404.625 
L 812.930325 -404.625 
L 812.701663 -404.625 
L 812.473 -404.625 
L 811.787013 -404.625 
L 811.55835 -404.625 
L 811.329688 -404.625 
L 811.101025 -404.625 
L 810.872363 -404.625 
L 810.186375 -404.625 
L 809.957713 -404.625 
L 809.72905 -404.625 
L 809.500387 -404.625 
L 809.271725 -404.625 
L 808.585738 -404.625 
L 808.357075 -404.625 
L 808.128413 -404.625 
L 807.89975 -404.625 
L 807.671087 -404.625 
L 806.9851 -404.625 
L 806.756438 -404.625 
L 806.527775 -404.625 
L 806.299113 -404.625 
L 806.07045 -404.625 
L 805.384463 -404.625 
L 805.1558 -404.625 
L 804.927138 -404.625 
L 804.698475 -404.625 
L 804.469812 -404.625 
L 803.783825 -404.625 
L 803.555163 -404.625 
L 803.3265 -404.625 
L 803.097837 -404.625 
L 802.869175 -404.625 
L 802.183188 -404.625 
L 801.954525 -404.625 
L 801.725863 -404.625 
L 801.4972 -404.625 
L 801.268538 -404.625 
L 800.58255 -404.625 
L 800.353888 -404.625 
L 800.125225 -404.625 
L 799.896563 -404.625 
L 799.6679 -404.625 
L 798.981913 -404.625 
L 798.75325 -404.625 
L 798.524588 -404.625 
L 798.295925 -404.625 
L 798.067262 -404.625 
L 797.381275 -404.625 
L 797.152613 -404.625 
L 796.92395 -404.625 
L 796.695288 -404.625 
L 796.466625 -404.625 
L 795.780638 -404.625 
L 795.551975 -404.625 
L 795.323313 -404.625 
L 795.09465 -404.625 
L 794.865988 -404.625 
L 794.18 -404.625 
L 793.951338 -404.625 
L 793.722675 -404.625 
L 793.494013 -404.625 
L 793.26535 -404.625 
L 792.579363 -404.625 
L 792.3507 -404.625 
L 792.122038 -404.625 
L 791.893375 -404.625 
L 791.664713 -404.625 
L 790.978725 -404.625 
L 790.750063 -404.625 
L 790.5214 -404.625 
L 790.292738 -404.625 
L 790.064075 -404.625 
L 789.378087 -404.625 
L 789.149425 -404.625 
L 788.920763 -404.625 
L 788.6921 -404.625 
L 788.463438 -404.625 
L 787.77745 -404.625 
L 787.548788 -404.625 
L 787.320125 -404.625 
L 787.091463 -404.625 
L 786.8628 -404.625 
L 786.176813 -404.625 
L 785.94815 -404.625 
L 785.719488 -404.625 
L 785.490825 -404.625 
L 785.262163 -404.625 
L 784.576175 -404.625 
L 784.347512 -404.625 
L 784.11885 -404.625 
L 783.890188 -404.625 
L 783.661525 -404.625 
L 782.975537 -404.625 
L 782.746875 -404.625 
L 782.518213 -404.625 
L 782.28955 -404.625 
L 782.060888 -404.625 
L 781.3749 -404.625 
L 781.146238 -404.625 
L 780.917575 -404.625 
L 780.688913 -404.625 
L 780.46025 -404.625 
L 779.774263 -404.625 
L 779.5456 -404.625 
L 779.316937 -404.625 
L 779.088275 -404.625 
L 778.859613 -404.625 
L 778.173625 -404.625 
L 777.944962 -404.625 
L 777.7163 -404.625 
L 777.487638 -404.625 
L 777.258975 -404.625 
L 776.572988 -404.625 
L 776.344325 -404.625 
L 776.115663 -404.625 
L 775.887 -404.625 
L 775.658338 -404.625 
L 774.97235 -404.625 
L 774.743688 -404.625 
L 774.515025 -404.625 
L 774.286362 -404.625 
L 774.0577 -404.625 
L 773.371713 -404.625 
L 773.14305 -404.625 
L 772.914387 -404.625 
L 772.685725 -404.625 
L 772.457063 -404.625 
L 771.771075 -404.625 
L 771.542413 -404.625 
L 771.31375 -404.625 
L 771.085088 -404.625 
L 770.856425 -404.625 
L 770.170438 -404.625 
L 769.941775 -404.625 
L 769.713113 -404.625 
L 769.48445 -404.625 
L 769.255787 -404.625 
L 768.5698 -404.625 
L 768.341138 -404.625 
L 768.112475 -404.625 
L 767.883812 -404.625 
L 767.65515 -404.625 
L 766.969163 -404.625 
L 766.7405 -404.625 
L 766.511838 -404.625 
L 766.283175 -404.625 
L 766.054513 -404.625 
L 765.368525 -404.625 
L 765.139863 -404.625 
L 764.9112 -404.625 
L 764.682538 -404.625 
L 764.453875 -404.625 
L 763.767888 -404.625 
L 763.539225 -404.625 
L 763.310563 -404.625 
L 763.0819 -404.625 
L 762.853237 -404.625 
L 762.16725 -404.625 
L 761.938588 -404.625 
L 761.709925 -404.625 
L 761.481263 -404.625 
L 761.2526 -404.625 
L 760.566613 -404.625 
L 760.33795 -404.625 
L 760.109288 -404.625 
L 759.880625 -404.625 
L 759.651963 -404.625 
L 758.965975 -404.625 
L 758.737313 -404.625 
L 758.50865 -404.625 
L 758.279988 -404.625 
L 758.051325 -404.625 
L 757.365338 -404.625 
L 757.136675 -404.625 
L 756.908013 -404.625 
L 756.67935 -404.625 
L 756.450688 -404.625 
L 755.7647 -404.625 
L 755.536038 -404.625 
L 755.307375 -404.625 
L 755.078713 -404.625 
L 754.85005 -404.625 
L 754.164062 -404.625 
L 753.9354 -404.625 
L 753.706738 -404.625 
L 753.478075 -404.625 
L 753.249413 -404.625 
L 752.563425 -404.625 
L 752.334763 -404.625 
L 752.1061 -404.625 
L 751.877438 -404.625 
L 751.648775 -404.625 
L 750.962787 -404.625 
L 750.734125 -404.625 
L 750.505463 -404.625 
L 750.2768 -404.625 
L 750.048138 -404.625 
L 749.36215 -404.625 
L 749.133488 -404.625 
L 748.904825 -404.625 
L 748.676163 -404.625 
L 748.4475 -404.625 
L 747.761512 -404.625 
L 747.53285 -404.625 
L 747.304188 -404.625 
L 747.075525 -404.625 
L 746.846863 -404.625 
L 746.160875 -404.625 
L 745.932212 -404.625 
L 745.70355 -404.625 
L 745.474888 -404.625 
L 745.246225 -404.625 
L 744.560238 -404.625 
L 744.331575 -404.625 
L 744.102913 -404.625 
L 743.87425 -404.625 
L 743.645588 -404.625 
L 742.9596 -404.625 
L 742.730937 -404.625 
L 742.502275 -404.625 
L 742.273613 -404.625 
L 742.04495 -404.625 
L 741.358962 -404.625 
L 741.1303 -404.625 
L 740.901637 -404.625 
L 740.672975 -404.625 
L 740.444313 -404.625 
L 739.758325 -404.625 
L 739.529663 -404.625 
L 739.301 -404.625 
L 739.072338 -404.625 
L 738.843675 -404.625 
L 738.157688 -404.625 
L 737.929025 -404.625 
L 737.700362 -404.625 
L 737.4717 -404.625 
L 737.243038 -404.625 
L 736.55705 -404.625 
L 736.328387 -404.625 
L 736.099725 -404.625 
L 735.871062 -404.625 
L 735.6424 -404.625 
L 734.956413 -404.625 
L 734.72775 -404.625 
L 734.499088 -404.625 
L 734.270425 -404.625 
L 734.041763 -404.625 
L 733.355775 -404.625 
L 733.127113 -404.625 
L 732.89845 -404.625 
L 732.669787 -404.625 
L 732.441125 -404.625 
L 731.755138 -404.625 
L 731.526475 -404.625 
L 731.297812 -404.625 
L 731.06915 -404.625 
L 730.840487 -404.625 
L 730.1545 -404.625 
L 729.925838 -404.625 
L 729.697175 -404.625 
L 729.468512 -404.625 
L 729.23985 -404.625 
L 728.553863 -404.625 
L 728.3252 -404.625 
L 728.096538 -404.625 
L 727.867875 -404.625 
L 727.639212 -404.625 
L 726.953225 -404.625 
L 726.724563 -404.625 
L 726.4959 -404.625 
L 726.267237 -404.625 
L 726.038575 -404.625 
L 725.352588 -404.625 
L 725.123925 -404.625 
L 724.895263 -404.625 
L 724.6666 -404.625 
L 724.437937 -404.625 
L 723.75195 -404.625 
L 723.523288 -404.625 
L 723.294625 -404.625 
L 723.065963 -404.625 
L 722.8373 -404.625 
L 722.151313 -404.625 
L 721.92265 -404.625 
L 721.693988 -404.625 
L 721.465325 -404.625 
L 721.236662 -404.625 
L 720.550675 -404.625 
L 720.322013 -404.625 
L 720.09335 -404.625 
L 719.864688 -404.625 
L 719.636025 -404.625 
L 718.950038 -404.625 
L 718.721375 -404.625 
L 718.492713 -404.625 
L 718.26405 -404.625 
L 718.035388 -404.625 
L 717.3494 -404.625 
L 717.120738 -404.625 
L 716.892075 -404.625 
L 716.663413 -404.625 
L 716.43475 -404.625 
L 715.748762 -404.625 
L 715.5201 -404.625 
L 715.291438 -404.625 
L 715.062775 -404.625 
L 714.834113 -404.625 
L 714.148125 -404.625 
L 713.919463 -404.625 
L 713.6908 -404.625 
L 713.462138 -404.625 
L 713.233475 -404.625 
L 712.547487 -404.625 
L 712.318825 -404.625 
L 712.090163 -404.625 
L 711.8615 -404.625 
L 711.632838 -404.625 
L 710.94685 -404.625 
L 710.718187 -404.625 
L 710.489525 -404.625 
L 710.260863 -404.625 
L 710.0322 -404.625 
L 709.346212 -404.625 
L 709.11755 -404.625 
L 708.888888 -404.625 
L 708.660225 -404.625 
L 708.431563 -404.625 
L 707.745575 -404.625 
L 707.516912 -404.625 
L 707.28825 -404.625 
L 707.059588 -404.625 
L 706.830925 -404.625 
L 706.144937 -404.625 
L 705.916275 -404.625 
L 705.687613 -404.625 
L 705.45895 -404.625 
L 705.230288 -404.625 
L 704.5443 -404.625 
L 704.315637 -404.625 
L 704.086975 -404.625 
L 703.858313 -404.625 
L 703.62965 -404.625 
L 702.943663 -404.625 
L 702.715 -404.625 
L 702.486337 -404.625 
L 702.257675 -404.625 
L 702.029013 -404.625 
L 701.343025 -404.625 
L 701.114362 -404.625 
L 700.8857 -404.625 
L 700.657038 -404.625 
L 700.428375 -404.625 
L 699.742388 -404.625 
L 699.513725 -404.625 
L 699.285062 -404.625 
L 699.0564 -404.625 
L 698.827738 -404.625 
L 698.14175 -404.625 
L 697.913088 -404.625 
L 697.684425 -404.625 
L 697.455762 -404.625 
L 697.2271 -404.625 
L 696.541113 -404.625 
L 696.31245 -404.625 
L 696.083787 -404.625 
L 695.855125 -404.625 
L 695.626463 -404.625 
L 694.940475 -404.625 
L 694.711813 -404.625 
L 694.48315 -404.625 
L 694.254487 -404.625 
L 694.025825 -404.625 
L 693.339838 -404.625 
L 693.111175 -404.625 
L 692.882513 -404.625 
L 692.65385 -404.625 
L 692.425187 -404.625 
L 691.7392 -404.625 
L 691.510538 -404.625 
L 691.281875 -404.625 
L 691.053212 -404.625 
L 690.82455 -404.625 
L 690.138563 -404.625 
L 689.9099 -404.625 
L 689.681237 -404.625 
L 689.452575 -404.625 
L 689.223912 -404.625 
L 688.537925 -404.625 
L 688.309263 -404.625 
L 688.0806 -404.625 
L 687.851938 -404.625 
L 687.623275 -404.625 
L 686.937288 -404.625 
L 686.708625 -404.625 
L 686.479963 -404.625 
L 686.2513 -404.625 
L 686.022637 -404.625 
L 685.33665 -404.625 
L 685.107988 -404.625 
L 684.879325 -404.625 
L 684.650662 -404.625 
L 684.422 -404.625 
L 683.736013 -404.625 
L 683.50735 -404.625 
L 683.278688 -404.625 
L 683.050025 -404.625 
L 682.821363 -404.625 
L 682.135375 -404.625 
L 681.906713 -404.625 
L 681.67805 -404.625 
L 681.449388 -404.625 
L 681.220725 -404.625 
L 680.534738 -404.625 
L 680.306075 -404.625 
L 680.077413 -404.625 
L 679.84875 -404.625 
L 679.620087 -404.625 
L 678.9341 -404.625 
L 678.705438 -404.625 
L 678.476775 -404.625 
L 678.248113 -404.625 
L 678.01945 -404.625 
L 677.333462 -404.625 
L 677.1048 -404.625 
L 676.876138 -404.625 
L 676.647475 -404.625 
L 676.418813 -404.625 
L 675.732825 -404.625 
L 675.504163 -404.625 
L 675.2755 -404.625 
L 675.046838 -404.625 
L 674.818175 -404.625 
L 674.132187 -404.625 
L 673.903525 -404.625 
L 673.674863 -404.625 
L 673.4462 -404.625 
L 673.217538 -404.625 
L 672.53155 -404.625 
L 672.302887 -404.625 
L 672.074225 -404.625 
L 671.845563 -404.625 
L 671.6169 -404.625 
L 670.930912 -404.625 
L 670.70225 -404.625 
L 670.473588 -404.625 
L 670.244925 -404.625 
L 670.016263 -404.625 
L 669.330275 -404.625 
L 669.101612 -404.625 
L 668.87295 -404.625 
L 668.644288 -404.625 
L 668.415625 -404.625 
L 667.729637 -404.625 
L 667.500975 -404.625 
L 667.272312 -404.625 
L 667.04365 -404.625 
L 666.814988 -404.625 
L 666.129 -404.625 
L 665.900337 -404.625 
L 665.671675 -404.625 
L 665.443013 -404.625 
L 665.21435 -404.625 
L 664.528362 -404.625 
L 664.2997 -404.625 
L 664.071037 -404.625 
L 663.842375 -404.625 
L 663.613713 -404.625 
L 662.927725 -404.625 
L 662.699062 -404.625 
L 662.4704 -404.625 
L 662.241737 -404.625 
L 662.013075 -404.625 
L 661.327088 -404.625 
L 661.098425 -404.625 
L 660.869762 -404.625 
L 660.6411 -404.625 
L 660.412438 -404.625 
L 659.72645 -404.625 
L 659.497787 -404.625 
L 659.269125 -404.625 
L 659.040462 -404.625 
L 658.8118 -404.625 
L 658.125813 -404.625 
L 657.89715 -404.625 
L 657.668487 -404.625 
L 657.439825 -404.625 
L 657.211163 -404.625 
L 656.525175 -404.625 
L 656.296513 -404.625 
L 656.06785 -404.625 
L 655.839187 -404.625 
L 655.610525 -404.625 
L 654.924538 -404.625 
L 654.695875 -404.625 
L 654.467212 -404.625 
L 654.23855 -404.625 
L 654.009887 -404.625 
L 653.3239 -404.625 
L 653.095238 -404.625 
L 652.866575 -404.625 
L 652.637912 -404.625 
L 652.40925 -404.625 
L 651.723263 -404.625 
L 651.4946 -404.625 
L 651.265938 -404.625 
L 651.037275 -404.625 
L 650.808612 -404.625 
L 650.122625 -404.625 
L 649.893963 -404.625 
L 649.6653 -404.625 
L 649.436637 -404.625 
L 649.207975 -404.625 
L 648.521988 -404.625 
L 648.293325 -404.625 
L 648.064663 -404.625 
L 647.836 -404.625 
L 647.607337 -404.625 
L 646.92135 -404.625 
L 646.692688 -404.625 
L 646.464025 -404.625 
L 646.235363 -404.625 
L 646.0067 -404.625 
L 645.320713 -404.625 
L 645.09205 -404.625 
L 644.863388 -404.625 
L 644.634725 -404.625 
L 644.406062 -404.625 
L 643.720075 -404.625 
L 643.491413 -404.625 
L 643.26275 -404.625 
L 643.034088 -404.625 
L 642.805425 -404.625 
L 642.119438 -404.625 
L 641.890775 -404.625 
L 641.662113 -404.625 
L 641.43345 -404.625 
L 641.204787 -404.625 
L 640.5188 -404.625 
L 640.290138 -404.625 
L 640.061475 -404.625 
L 639.832813 -404.625 
L 639.60415 -404.625 
L 638.918162 -404.625 
L 638.6895 -404.625 
L 638.460838 -404.625 
L 638.232175 -404.625 
L 638.003513 -404.625 
L 637.317525 -404.625 
L 637.088863 -404.625 
L 636.8602 -404.625 
L 636.631538 -404.625 
L 636.402875 -404.625 
L 635.716887 -404.625 
L 635.488225 -404.625 
L 635.259563 -404.625 
L 635.0309 -404.625 
L 634.802238 -404.625 
L 634.11625 -404.625 
L 633.887587 -404.625 
L 633.658925 -404.625 
L 633.430263 -404.625 
L 633.2016 -404.625 
L 632.515612 -404.625 
L 632.28695 -404.625 
L 632.058288 -404.625 
L 631.829625 -404.625 
L 631.600963 -404.625 
L 630.914975 -404.625 
L 630.686312 -404.625 
L 630.45765 -404.625 
L 630.228988 -404.625 
L 630.000325 -404.625 
L 629.314337 -404.625 
L 629.085675 -404.625 
L 628.857012 -404.625 
L 628.62835 -404.625 
L 628.399688 -404.625 
L 627.7137 -404.625 
L 627.485037 -404.625 
L 627.256375 -404.625 
L 627.027713 -404.625 
L 626.79905 -404.625 
L 626.113062 -404.625 
L 625.8844 -404.625 
L 625.655737 -404.625 
L 625.427075 -404.625 
L 625.198413 -404.625 
z
" style="stroke: #ff0000; stroke-opacity: 0.7"/>
    </defs>
    <g clip-path="url(#pd7cd44a650)">
     <use href="#m694a307c14" x="0" y="880" style="fill: #ff0000; fill-opacity: 0.7; stroke: #ff0000; stroke-opacity: 0.7"/>
    </g>
   </g>
   <g id="matplotlib.axis_7">
    <g id="xtick_19">
     <g id="line2d_99">
      <path d="M 611.25 838.5 
L 611.25 458.75 
" clip-path="url(#pd7cd44a650)" style="fill: none; stroke: #b0b0b0; stroke-opacity: 0.3; stroke-width: 1.2; stroke-linecap: square"/>
     </g>
     <g id="line2d_100">
      <g>
       <use href="#me911267e3d" x="611.25" y="838.5" style="stroke: #000000"/>
      </g>
     </g>
     <g id="text_52">
      <text style="font-size: 10px; font-family: 'DejaVu Sans', 'Liberation Sans', sans-serif; text-anchor: middle" x="611.25" y="853.098438" transform="rotate(-0 611.25 853.098438)">2020</text>
     </g>
    </g>
    <g id="xtick_20">
     <g id="line2d_101">
      <path d="M 694.940475 838.5 
L 694.940475 458.75 
" clip-path="url(#pd7cd44a650)" style="fill: none; stroke: #b0b0b0; stroke-opacity: 0.3; stroke-width: 1.2; stroke-linecap: square"/>
     </g>
     <g id="line2d_102">
      <g>
       <use href="#me911267e3d" x="694.940475" y="838.5" style="stroke: #000000"/>
      </g>
     </g>
     <g id="text_53">
      <text style="font-size: 10px; font-family: 'DejaVu Sans', 'Liberation Sans', sans-serif; text-anchor: middle" x="694.940475" y="853.098438" transform="rotate(-0 694.940475 853.098438)">2021</text>
     </g>
    </g>
    <g id="xtick_21">
     <g id="line2d_103">
      <path d="M 778.402288 838.5 
L 778.402288 458.75 
" clip-path="url(#pd7cd44a650)" style="fill: none; stroke: #b0b0b0; stroke-opacity: 0.3; stroke-width: 1.2; stroke-linecap: square"/>
     </g>
     <g id="line2d_104">
      <g>
       <use href="#me911267e3d" x="778.402288" y="838.5" style="stroke: #000000"/>
      </g>
     </g>
     <g id="text_54">
      <text style="font-size: 10px; font-family: 'DejaVu Sans', 'Liberation Sans', sans-serif; text-anchor: middle" x="778.402288" y="853.098438" transform="rotate(-0 778.402288 853.098438)">2022</text>
     </g>
    </g>
    <g id="xtick_22">
     <g id="line2d_105">
      <path d="M 861.8641 838.5 
L 861.8641 458.75 
" clip-path="url(#pd7cd44a650)" style="fill: none; stroke: #b0b0b0; stroke-opacity: 0.3; stroke-width: 1.2; stroke-linecap: square"/>
     </g>
     <g id="line2d_106">
      <g>
       <use href="#me911267e3d" x="861.8641" y="838.5" style="stroke: #000000"/>
      </g>
     </g>
     <g id="text_55">
      <text style="font-size: 10px; font-family: 'DejaVu Sans', 'Liberation Sans', sans-serif; text-anchor: middle" x="861.8641" y="853.098438" transform="rotate(-0 861.8641 853.098438)">2023</text>
     </g>
    </g>
    <g id="xtick_23">
     <g id="line2d_107">
      <path d="M 945.325913 838.5 
L 945.325913 458.75 
" clip-path="url(#pd7cd44a650)" style="fill: none; stroke: #b0b0b0; stroke-opacity: 0.3; stroke-width: 1.2; stroke-linecap: square"/>
     </g>
     <g id="line2d_108">
      <g>
       <use href="#me911267e3d" x="945.325913" y="838.5" style="stroke: #000000"/>
      </g>
     </g>
     <g id="text_56">
      <text style="font-size: 10px; font-family: 'DejaVu Sans', 'Liberation Sans', sans-serif; text-anchor: middle" x="945.325913" y="853.098438" transform="rotate(-0 945.325913 853.098438)">2024</text>
     </g>
    </g>
    <g id="xtick_24">
     <g id="line2d_109">
      <path d="M 1029.016388 838.5 
L 1029.016388 458.75 
" clip-path="url(#pd7cd44a650)" style="fill: none; stroke: #b0b0b0; stroke-opacity: 0.3; stroke-width: 1.2; stroke-linecap: square"/>
     </g>
     <g id="line2d_110">
      <g>
       <use href="#me911267e3d" x="1029.016388" y="838.5" style="stroke: #000000"/>
      </g>
     </g>
     <g id="text_57">
      <text style="font-size: 10px; font-family: 'DejaVu Sans', 'Liberation Sans', sans-serif; text-anchor: middle" x="1029.016388" y="853.098438" transform="rotate(-0 1029.016388 853.098438)">2025</text>
     </g>
    </g>
   </g>
   <g id="matplotlib.axis_8">
    <g id="ytick_27">
     <g id="line2d_111">
      <path d="M 603.125 809.125 
L 1085 809.125 
" clip-path="url(#pd7cd44a650)" style="fill: none; stroke: #b0b0b0; stroke-opacity: 0.3; stroke-width: 1.2; stroke-linecap: square"/>
     </g>
     <g id="line2d_112">
      <g>
       <use href="#mcc44afb5ca" x="603.125" y="809.125" style="stroke: #000000"/>
      </g>
     </g>
     <g id="text_58">
      <text style="font-size: 10px; font-family: 'DejaVu Sans', 'Liberation Sans', sans-serif; text-anchor: end" x="596.125" y="812.924219" transform="rotate(-0 596.125 812.924219)">−60</text>
     </g>
    </g>
    <g id="ytick_28">
     <g id="line2d_113">
      <path d="M 603.125 753.5 
L 1085 753.5 
" clip-path="url(#pd7cd44a650)" style="fill: none; stroke: #b0b0b0; stroke-opacity: 0.3; stroke-width: 1.2; stroke-linecap: square"/>
     </g>
     <g id="line2d_114">
      <g>
       <use href="#mcc44afb5ca" x="603.125" y="753.5" style="stroke: #000000"/>
      </g>
     </g>
     <g id="text_59">
      <text style="font-size: 10px; font-family: 'DejaVu Sans', 'Liberation Sans', sans-serif; text-anchor: end" x="596.125" y="757.299219" transform="rotate(-0 596.125 757.299219)">−50</text>
     </g>
    </g>
    <g id="ytick_29">
     <g id="line2d_115">
      <path d="M 603.125 697.875 
L 1085 697.875 
" clip-path="url(#pd7cd44a650)" style="fill: none; stroke: #b0b0b0; stroke-opacity: 0.3; stroke-width: 1.2; stroke-linecap: square"/>
     </g>
     <g id="line2d_116">
      <g>
       <use href="#mcc44afb5ca" x="603.125" y="697.875" style="stroke: #000000"/>
      </g>
     </g>
     <g id="text_60">
      <text style="font-size: 10px; font-family: 'DejaVu Sans', 'Liberation Sans', sans-serif; text-anchor: end" x="596.125" y="701.674219" transform="rotate(-0 596.125 701.674219)">−40</text>
     </g>
    </g>
    <g id="ytick_30">
     <g id="line2d_117">
      <path d="M 603.125 642.25 
L 1085 642.25 
" clip-path="url(#pd7cd44a650)" style="fill: none; stroke: #b0b0b0; stroke-opacity: 0.3; stroke-width: 1.2; stroke-linecap: square"/>
     </g>
     <g id="line2d_118">
      <g>
       <use href="#mcc44afb5ca" x="603.125" y="642.25" style="stroke: #000000"/>
      </g>
     </g>
     <g id="text_61">
      <text style="font-size: 10px; font-family: 'DejaVu Sans', 'Liberation Sans', sans-serif; text-anchor: end" x="596.125" y="646.049219" transform="rotate(-0 596.125 646.049219)">−30</text>
     </g>
    </g>
    <g id="ytick_31">
     <g id="line2d_119">
      <path d="M 603.125 586.625 
L 1085 586.625 
" clip-path="url(#pd7cd44a650)" style="fill: none; stroke: #b0b0b0; stroke-opacity: 0.3; stroke-width: 1.2; stroke-linecap: square"/>
     </g>
     <g id="line2d_120">
      <g>
       <use href="#mcc44afb5ca" x="603.125" y="586.625" style="stroke: #000000"/>
      </g>
     </g>
     <g id="text_62">
      <text style="font-size: 10px; font-family: 'DejaVu Sans', 'Liberation Sans', sans-serif; text-anchor: end" x="596.125" y="590.424219" transform="rotate(-0 596.125 590.424219)">−20</text>
     </g>
    </g>
    <g id="ytick_32">
     <g id="line2d_121">
      <path d="M 603.125 531 
L 1085 531 
" clip-path="url(#pd7cd44a650)" style="fill: none; stroke: #b0b0b0; stroke-opacity: 0.3; stroke-width: 1.2; stroke-linecap: square"/>
     </g>
     <g id="line2d_122">
      <g>
       <use href="#mcc44afb5ca" x="603.125" y="531" style="stroke: #000000"/>
      </g>
     </g>
     <g id="text_63">
      <text style="font-size: 10px; font-family: 'DejaVu Sans', 'Liberation Sans', sans-serif; text-anchor: end" x="596.125" y="534.799219" transform="rotate(-0 596.125 534.799219)">−10</text>
     </g>
    </g>
    <g id="ytick_33">
     <g id="line2d_123">
      <path d="M 603.125 475.375 
L 1085 475.375 
" clip-path="url(#pd7cd44a650)" style="fill: none; stroke: #b0b0b0; stroke-opacity: 0.3; stroke-width: 1.2; stroke-linecap: square"/>
     </g>
     <g id="line2d_124">
      <g>
       <use href="#mcc44afb5ca" x="603.125" y="475.375" style="stroke: #000000"/>
      </g>
     </g>
     <g id="text_64">
      <text style="font-size: 10px; font-family: 'DejaVu Sans', 'Liberation Sans', sans-serif; text-anchor: end" x="596.125" y="479.174219" transform="rotate(-0 596.125 479.174219)">0</text>
     </g>
    </g>
   </g>
   <g id="line2d_125">
    <path d="M 625.198413 475.375 
L 625.427075 475.375 
L 626.113062 476.996502 
L 627.7137 480.810668 
L 628.399688 489.851356 
L 628.62835 494.399837 
L 629.085675 488.61304 
L 629.314337 477.790852 
L 630.228988 477.384505 
L 632.515612 475.978963 
L 638.460838 475.978963 
L 638.6895 479.74633 
L 638.918162 480.69478 
L 639.60415 486.850299 
L 639.832813 490.074653 
L 640.061475 488.969067 
L 640.290138 491.827621 
L 640.5188 490.453495 
L 641.204787 491.637064 
L 641.43345 495.909745 
L 641.662113 497.851925 
L 641.890775 496.086577 
L 642.805425 498.92956 
L 643.034088 497.899068 
L 643.26275 497.461271 
L 643.491413 495.12022 
L 643.720075 496.343556 
L 644.406062 496.517518 
L 644.863388 495.4319 
L 645.320713 496.307407 
L 646.235363 491.699122 
L 646.464025 489.791553 
L 646.92135 494.543352 
L 647.607337 491.391135 
L 648.064663 493.822155 
L 648.521988 488.83996 
L 649.436637 490.157032 
L 649.6653 491.824209 
L 649.893963 492.070866 
L 650.122625 490.045827 
L 650.808612 491.297541 
L 651.037275 493.927458 
L 651.265938 493.29352 
L 651.4946 493.407647 
L 651.723263 494.399837 
L 652.40925 496.487838 
L 652.637912 496.484044 
L 652.866575 495.873588 
L 653.3239 493.484536 
L 654.009887 495.660334 
L 654.23855 495.869894 
L 654.467212 496.493745 
L 654.695875 496.242163 
L 654.924538 497.419653 
L 655.610525 497.010643 
L 655.839187 498.733868 
L 656.296513 499.756075 
L 656.525175 502.851658 
L 657.211163 501.462887 
L 657.439825 500.156211 
L 657.668487 499.684166 
L 658.125813 497.908811 
L 658.8118 505.615764 
L 659.269125 505.66419 
L 659.72645 510.408064 
L 660.6411 516.632864 
L 660.869762 520.864048 
L 661.098425 521.578176 
L 661.327088 527.765233 
L 662.013075 539.697068 
L 662.4704 498.92956 
L 662.699062 495.408809 
L 662.927725 489.519794 
L 664.071037 475.375 
L 665.443013 475.978963 
L 665.671675 477.836068 
L 666.129 486.026784 
L 667.04365 498.92956 
L 667.272312 499.922395 
L 667.500975 505.107794 
L 667.729637 505.995297 
L 668.415625 509.128458 
L 670.016263 544.226792 
L 670.244925 555.182783 
L 670.70225 586.504207 
L 670.930912 579.165823 
L 671.6169 553.286238 
L 671.845563 552.282329 
L 672.074225 549.961228 
L 672.302887 549.410818 
L 672.53155 548.286492 
L 673.217538 547.246607 
L 673.4462 550.615147 
L 674.132187 553.913495 
L 674.818175 556.306053 
L 675.046838 559.285639 
L 675.2755 560.377485 
L 675.504163 557.039356 
L 675.732825 557.327028 
L 676.418813 559.325869 
L 676.647475 563.935829 
L 676.876138 562.456174 
L 677.333462 569.895223 
L 678.01945 569.769147 
L 678.248113 571.026096 
L 678.705438 565.768353 
L 678.9341 565.365499 
L 679.620087 566.701343 
L 679.84875 566.450266 
L 680.077413 566.412365 
L 680.306075 567.389108 
L 680.534738 566.875407 
L 681.220725 569.20981 
L 681.449388 565.922551 
L 681.67805 564.806496 
L 681.906713 565.884242 
L 682.135375 565.365499 
L 682.821363 565.294237 
L 683.050025 565.658992 
L 683.278688 564.089583 
L 683.50735 563.602945 
L 683.736013 563.855592 
L 684.422 563.476847 
L 684.879325 560.664228 
L 685.107988 561.494496 
L 685.33665 562.888186 
L 686.022637 562.345684 
L 686.2513 494.862544 
L 686.479963 475.375 
L 692.425187 475.375 
L 692.65385 498.92956 
L 692.882513 510.543134 
L 693.111175 529.481528 
L 693.339838 559.325869 
L 694.025825 573.820633 
L 694.711813 600.958195 
L 694.940475 604.6231 
L 695.855125 631.506191 
L 696.083787 634.821254 
L 696.541113 665.019408 
L 698.827738 583.484392 
L 699.285062 577.74185 
L 699.742388 568.758912 
L 700.428375 565.365499 
L 700.657038 568.309563 
L 700.8857 568.050599 
L 701.343025 573.626416 
L 702.029013 574.424946 
L 702.486337 566.547501 
L 703.62965 559.325869 
L 703.858313 540.887464 
L 704.086975 532.14753 
L 704.315637 532.797736 
L 704.5443 526.790357 
L 705.230288 512.841083 
L 705.45895 501.949376 
L 705.916275 507.044955 
L 706.144937 514.028637 
L 706.830925 521.879729 
L 707.059588 521.284179 
L 707.28825 522.196553 
L 707.745575 529.127714 
L 708.431563 530.981406 
L 708.660225 530.592579 
L 708.888888 530.635166 
L 709.346212 533.657438 
L 710.0322 530.809947 
L 710.489525 527.344781 
L 710.718187 526.935703 
L 710.94685 526.107899 
L 711.632838 525.495755 
L 711.8615 526.752691 
L 712.090163 524.359626 
L 712.318825 524.597991 
L 712.547487 523.151919 
L 713.233475 523.327753 
L 713.462138 522.044912 
L 713.6908 526.053103 
L 713.919463 523.088084 
L 715.291438 544.226792 
L 715.5201 527.485534 
L 715.748762 475.375 
L 716.892075 475.375 
L 717.3494 504.530466 
L 718.035388 529.127714 
L 718.26405 577.468842 
L 718.721375 597.182054 
L 720.09335 637.611503 
L 720.550675 644.156246 
L 721.236662 651.614667 
L 722.151313 667.157423 
L 722.8373 675.588762 
L 723.065963 670.410283 
L 723.523288 665.623253 
L 723.75195 663.207951 
L 724.6666 647.468711 
L 724.895263 646.504116 
L 725.123925 646.509764 
L 726.038575 640.860885 
L 726.267237 642.054871 
L 726.4959 642.029252 
L 726.953225 638.7883 
L 727.639212 637.841069 
L 727.867875 639.772478 
L 728.096538 637.814896 
L 728.3252 639.84439 
L 728.553863 643.420028 
L 729.23985 643.8807 
L 729.468512 641.590522 
L 729.697175 642.158885 
L 729.925838 640.664678 
L 730.1545 637.841069 
L 730.840487 634.139277 
L 731.06915 636.000935 
L 731.297812 636.07089 
L 731.526475 634.50282 
L 731.755138 631.801439 
L 732.441125 631.948121 
L 732.669787 627.41367 
L 733.355775 622.741992 
L 734.041763 630.545568 
L 734.270425 635.877389 
L 734.499088 637.875183 
L 734.956413 649.920331 
L 735.6424 644.573637 
L 735.871062 641.034857 
L 736.328387 630.852374 
L 736.55705 631.801439 
L 737.243038 640.774124 
L 737.4717 640.860885 
L 737.700362 634.053326 
L 737.929025 622.741992 
L 738.157688 622.73055 
L 738.843675 622.102202 
L 739.072338 622.741992 
L 739.529663 628.781623 
L 739.758325 630.768303 
L 740.444313 637.841069 
L 740.672975 634.254658 
L 740.901637 633.229157 
L 741.358962 636.5224 
L 742.04495 631.801439 
L 742.273613 627.995409 
L 742.502275 619.722177 
L 742.730937 622.989187 
L 742.9596 623.460428 
L 743.645588 633.311346 
L 743.87425 633.289589 
L 744.102913 631.965799 
L 744.560238 626.211488 
L 745.246225 622.741992 
L 745.474888 610.258548 
L 745.70355 609.028201 
L 745.932212 605.733327 
L 746.160875 599.796782 
L 746.846863 589.524023 
L 747.075525 595.327595 
L 747.53285 598.619139 
L 747.761512 601.603284 
L 748.4475 598.121581 
L 748.676163 597.698419 
L 748.904825 599.164297 
L 749.133488 599.420577 
L 749.36215 598.583469 
L 750.2768 600.893792 
L 750.734125 604.331267 
L 750.962787 601.603284 
L 751.648775 598.600853 
L 751.877438 598.409319 
L 752.1061 596.001474 
L 752.334763 597.526668 
L 752.563425 595.563654 
L 753.249413 597.6314 
L 753.478075 596.61668 
L 753.706738 597.765455 
L 753.9354 597.425503 
L 754.164062 598.583469 
L 754.85005 603.558225 
L 755.078713 606.129955 
L 755.307375 604.746733 
L 755.536038 606.133008 
L 755.7647 606.590248 
L 756.450688 599.309122 
L 756.67935 594.125563 
L 756.908013 592.072734 
L 757.136675 592.543838 
L 757.365338 592.674841 
L 758.051325 591.546149 
L 758.279988 587.314829 
L 758.50865 585.43849 
L 758.737313 588.014115 
L 758.965975 588.491161 
L 759.880625 596.12867 
L 760.109288 595.563654 
L 760.33795 598.286575 
L 760.566613 603.490624 
L 761.709925 622.741992 
L 761.938588 619.563544 
L 763.0819 595.563654 
L 763.310563 597.855414 
L 763.539225 598.480406 
L 764.453875 603.622129 
L 764.682538 601.603284 
L 764.9112 606.491748 
L 765.368525 620.881125 
L 766.054513 636.932962 
L 766.283175 639.350977 
L 766.969163 627.909978 
L 767.65515 619.722177 
L 767.883812 619.070822 
L 768.112475 617.007065 
L 768.341138 617.062303 
L 768.5698 614.670134 
L 769.48445 609.538551 
L 769.713113 608.946369 
L 769.941775 610.602892 
L 770.170438 610.214051 
L 770.856425 607.642915 
L 771.771075 623.610109 
L 772.457063 627.271716 
L 772.685725 621.783357 
L 772.914387 621.886417 
L 773.14305 617.63389 
L 773.371713 611.016188 
L 774.0577 607.642915 
L 774.286362 612.021738 
L 774.515025 611.501452 
L 774.743688 612.010742 
L 774.97235 610.662731 
L 775.658338 610.364605 
L 775.887 611.285104 
L 776.115663 609.08719 
L 776.344325 608.672344 
L 776.572988 607.642915 
L 777.258975 614.411213 
L 777.7163 623.040155 
L 777.944962 621.938074 
L 778.173625 625.761808 
L 779.088275 618.875049 
L 779.774263 613.682546 
L 780.46025 611.904744 
L 780.688913 616.013558 
L 780.917575 615.751108 
L 781.146238 615.243619 
L 781.3749 612.172638 
L 782.060888 612.553478 
L 782.518213 618.830665 
L 782.975537 615.591046 
L 783.890188 620.672634 
L 784.11885 618.718842 
L 784.347512 618.212269 
L 784.576175 618.535977 
L 785.490825 621.64619 
L 785.719488 619.722177 
L 793.722675 619.722177 
L 794.18 574.424946 
L 794.865988 575.047198 
L 795.551975 572.296465 
L 795.780638 573.967505 
L 796.466625 571.40513 
L 796.695288 571.090631 
L 796.92395 570.573999 
L 797.152613 567.889529 
L 797.381275 568.343104 
L 798.067262 562.345684 
L 798.295925 557.947009 
L 798.981913 552.388157 
L 799.6679 547.246607 
L 799.896563 556.814494 
L 800.353888 563.150017 
L 800.58255 571.40513 
L 801.268538 575.519722 
L 801.4972 575.663021 
L 803.097837 591.816356 
L 803.3265 591.715824 
L 803.555163 594.224444 
L 803.783825 598.583469 
L 804.698475 590.444514 
L 805.1558 582.476623 
L 805.384463 580.464577 
L 806.07045 584.644213 
L 806.299113 585.144526 
L 806.527775 582.700393 
L 806.756438 583.024724 
L 806.9851 586.504207 
L 807.89975 565.298479 
L 808.357075 551.77633 
L 808.585738 555.395407 
L 809.271725 558.896041 
L 809.500387 562.591614 
L 809.72905 563.119657 
L 810.186375 561.662379 
L 810.872363 564.288142 
L 811.329688 560.895249 
L 811.55835 565.365499 
L 812.701663 570.269581 
L 812.930325 568.385315 
L 813.158988 567.709519 
L 813.38765 568.561311 
L 814.073638 569.183735 
L 814.3023 570.745771 
L 814.530962 571.40513 
L 815.674275 583.514245 
L 815.902938 589.524023 
L 816.1316 590.964831 
L 816.588925 597.364788 
L 817.274913 608.103171 
L 817.503575 607.642915 
L 817.9609 603.734767 
L 818.189563 603.960915 
L 818.87555 599.315078 
L 819.104213 595.563654 
L 819.561537 598.387789 
L 819.7902 597.267889 
L 820.70485 590.597009 
L 820.933513 592.014764 
L 821.162175 592.052825 
L 821.390838 589.896121 
L 822.076825 589.524023 
L 822.305488 594.72153 
L 822.53415 591.959044 
L 822.762813 592.321651 
L 822.991475 592.245128 
L 823.677463 598.583469 
L 823.906125 594.638947 
L 824.134788 594.309387 
L 824.36345 592.34347 
L 824.592112 592.024214 
L 825.2781 589.524023 
L 825.735425 579.188458 
L 825.964088 578.235009 
L 826.19275 578.458453 
L 826.878738 574.424946 
L 827.564725 578.592922 
L 827.793388 583.484392 
L 829.165363 598.565089 
L 829.394025 607.642915 
L 830.080013 608.714524 
L 830.308675 605.48897 
L 830.537338 604.25324 
L 830.766 605.665446 
L 830.994663 601.603284 
L 831.909313 589.022058 
L 832.137975 587.033547 
L 832.5953 580.464577 
L 833.281288 576.701839 
L 833.50995 576.627721 
L 833.738613 578.154183 
L 834.195938 574.424946 
L 834.881925 573.694897 
L 835.110588 572.261669 
L 835.33925 574.033494 
L 835.567913 572.915038 
L 835.796575 573.769238 
L 836.482563 574.772509 
L 836.711225 575.810642 
L 836.939888 578.192616 
L 837.16855 577.444761 
L 837.397213 579.875997 
L 838.0832 596.728631 
L 838.540525 616.702362 
L 838.769188 614.996689 
L 838.99785 616.341137 
L 839.683837 622.226715 
L 839.9125 622.839499 
L 840.141163 622.741992 
L 840.369825 624.491752 
L 840.598488 628.489414 
L 841.284475 633.366433 
L 841.513138 631.845444 
L 841.7418 631.801439 
L 841.970463 633.839035 
L 842.199125 633.309948 
L 842.885113 634.416448 
L 843.113775 636.331162 
L 843.342438 635.295459 
L 843.5711 634.846775 
L 843.799763 634.780158 
L 844.48575 631.517816 
L 844.714412 628.781623 
L 844.943075 627.913295 
L 845.171738 630.712462 
L 845.4004 631.57698 
L 846.086388 631.801439 
L 846.31505 631.67987 
L 846.772375 637.403872 
L 847.001038 636.794857 
L 847.687025 637.841069 
L 847.915688 635.579716 
L 848.14435 641.175541 
L 848.373013 643.767519 
L 848.601675 643.340017 
L 849.287663 652.940147 
L 849.744987 643.400345 
L 850.202313 635.68148 
L 850.8883 628.781623 
L 851.116962 628.57899 
L 851.345625 626.718057 
L 851.80295 631.530824 
L 852.7176 635.593606 
L 852.946263 632.841902 
L 853.174925 632.639576 
L 853.403588 631.801439 
L 854.089575 631.374446 
L 854.318238 634.34433 
L 855.004225 631.801439 
L 855.690213 631.695828 
L 855.918875 631.042056 
L 856.147537 628.890625 
L 856.3762 632.458671 
L 856.604863 637.841069 
L 857.29085 635.716056 
L 857.519513 633.374521 
L 857.748175 634.556512 
L 857.976838 639.109551 
L 858.891488 645.964722 
L 859.12015 646.388893 
L 859.348813 645.693491 
L 859.577475 648.486025 
L 859.806138 646.900516 
L 860.492125 640.609375 
L 860.720788 645.514735 
L 860.94945 645.133439 
L 861.406775 648.596472 
L 862.092763 652.328125 
L 862.550088 650.793621 
L 862.77875 647.77753 
L 863.007413 641.07503 
L 863.922063 630.068199 
L 864.150725 632.796875 
L 864.60805 627.473439 
L 865.294038 621.209129 
L 865.5227 621.271724 
L 865.751363 619.736666 
L 865.980025 617.171875 
L 866.208687 616.636165 
L 866.894675 613.426182 
L 867.123338 611.3125 
L 867.352 616.633232 
L 867.580663 617.280608 
L 867.809325 621.759124 
L 868.723975 644.515625 
L 868.952638 641.949879 
L 869.1813 642.866818 
L 869.409963 642.869036 
L 870.324613 635.155564 
L 870.553275 635.008898 
L 870.781938 632.258354 
L 871.0106 632.796875 
L 871.92525 635.422949 
L 872.153913 634.232953 
L 872.382575 636.596599 
L 872.611238 636.703125 
L 873.297225 635.640222 
L 873.983213 628.890311 
L 874.211875 630.704453 
L 874.897862 628.890625 
L 875.126525 629.869867 
L 875.355188 632.328192 
L 875.58385 631.971818 
L 875.812513 632.976346 
L 876.4985 634.75 
L 876.727163 636.989426 
L 876.955825 635.12128 
L 877.184488 634.326775 
L 877.41315 630.843885 
L 878.099138 626.211301 
L 878.3278 623.546909 
L 878.556463 624.984375 
L 878.785125 624.997316 
L 879.013788 623.864438 
L 880.1571 612.83187 
L 880.385763 609.359375 
L 880.614425 611.913354 
L 881.300412 606.803626 
L 881.529075 603.324965 
L 881.757738 602.607291 
L 882.215063 599.59375 
L 882.90105 597.797262 
L 883.358375 595.641673 
L 883.587038 596.240835 
L 883.8157 595.802429 
L 884.501688 595.6875 
L 884.73035 599.138025 
L 884.959012 598.554153 
L 885.187675 599.002993 
L 885.416338 601.293583 
L 886.102325 602.252094 
L 886.330987 603.5 
L 886.788313 608.535381 
L 887.016975 608.057377 
L 887.702963 608.088796 
L 887.931625 609.321722 
L 888.160288 609.780189 
L 888.38895 609.359375 
L 888.617613 610.816862 
L 889.3036 613.66515 
L 889.532263 615.31842 
L 889.760925 614.101182 
L 889.989588 611.749042 
L 890.21825 617.171875 
L 891.1329 624.195492 
L 891.361562 624.004471 
L 891.590225 625.762257 
L 891.818888 628.722071 
L 892.504875 628.890625 
L 892.733538 636.705 
L 893.419525 646.899029 
L 894.334175 653.879969 
L 894.562838 650.970693 
L 894.7915 649.771595 
L 895.020163 651.262698 
L 895.70615 648.866715 
L 895.934813 644.732538 
L 896.163475 644.515625 
L 896.392137 644.515257 
L 896.6208 646.778882 
L 897.53545 647.333584 
L 897.764113 650.044303 
L 897.992775 648.421875 
L 899.136088 635.803311 
L 899.593413 632.382267 
L 899.822075 628.890625 
L 900.508063 631.534017 
L 900.736725 628.431582 
L 900.965388 628.036626 
L 901.422712 639.383152 
L 902.337363 660.140625 
L 902.566025 658.920307 
L 902.794688 662.287979 
L 903.02335 661.699127 
L 903.938 657.706776 
L 904.166663 655.751451 
L 904.395325 655.16553 
L 905.538638 656.526255 
L 905.7673 652.524592 
L 905.995963 652.643481 
L 906.224625 654.94969 
L 906.910613 655.724308 
L 907.139275 653.804929 
L 907.367938 655.15808 
L 907.5966 657.533852 
L 907.825263 655.797448 
L 908.51125 654.727233 
L 908.739913 655.850554 
L 908.968575 656.234375 
L 909.197238 655.984717 
L 909.4259 655.989909 
L 910.111888 655.121406 
L 910.34055 656.472297 
L 910.569213 656.104738 
L 910.797875 653.34949 
L 911.026538 654.28125 
L 911.712525 655.01825 
L 911.941188 652.74729 
L 912.16985 653.555889 
L 912.398513 653.930657 
L 912.627175 652.328125 
L 913.770488 673.298381 
L 913.99915 687.484375 
L 914.227813 687.45221 
L 914.9138 689.598908 
L 915.142463 691.255006 
L 915.371125 690.326812 
L 915.599788 693.34375 
L 915.82845 692.453319 
L 916.971763 683.265964 
L 917.200425 684.498757 
L 917.429088 681.625 
L 918.115075 684.115683 
L 918.801063 690.227661 
L 919.029725 695.109798 
L 919.715713 695.296875 
L 919.944375 690.816647 
L 920.4017 689.8031 
L 920.630363 687.319591 
L 921.31635 683.861384 
L 921.545012 683.578125 
L 921.773675 684.987678 
L 922.002338 682.84384 
L 922.231 684.572579 
L 922.916988 685.255146 
L 923.14565 684.547815 
L 923.374313 685.53125 
L 923.602975 684.504478 
L 923.831638 682.10478 
L 924.517625 681.879214 
L 924.746288 681.063614 
L 925.203613 674.043462 
L 925.432275 675.765625 
L 926.118263 678.70218 
L 926.346925 678.188568 
L 926.80425 681.782566 
L 927.032913 683.578125 
L 927.7189 682.03799 
L 927.947563 681.242072 
L 928.404888 677.090039 
L 928.63355 676.509708 
L 929.776863 669.238371 
L 930.005525 669.066706 
L 930.234188 667.372843 
L 930.920175 666.371646 
L 931.148838 667.953125 
L 931.3775 666.398888 
L 931.606162 668.686594 
L 931.834825 668.509177 
L 932.520813 668.570298 
L 932.749475 666.501239 
L 932.978138 671.72701 
L 933.2068 671.859375 
L 933.435463 671.54353 
L 934.350113 666.507988 
L 934.578775 666.899261 
L 934.807438 666.565518 
L 935.0361 666 
L 935.722088 664.714326 
L 935.95075 664.017228 
L 936.179413 666.519007 
L 936.408075 666.782845 
L 936.636737 665.020462 
L 937.322725 664.046875 
L 937.551388 663.133243 
L 937.78005 665.445461 
L 938.008713 664.691286 
L 938.237375 664.719504 
L 938.923363 666.329852 
L 939.152025 667.150828 
L 939.380688 666.041868 
L 939.60935 663.458496 
L 939.838013 662.144688 
L 940.524 664.046875 
L 940.752663 659.803075 
L 940.981325 658.231239 
L 941.209988 658.287477 
L 941.43865 656.220131 
L 942.124638 652.328125 
L 942.3533 654.19414 
L 943.039288 671.859375 
L 943.953938 683.590928 
L 944.411263 692.819486 
L 944.639925 703.109375 
L 945.554575 712.715206 
L 946.0119 722.640625 
L 947.155213 691.390625 
L 947.383875 690.782581 
L 947.612538 692.004009 
L 947.8412 690.171997 
L 948.527188 688.24513 
L 948.984513 688.24915 
L 949.213175 687.484375 
L 949.441838 687.799064 
L 950.356488 678.417762 
L 950.813813 671.859375 
L 951.042475 673.551686 
L 951.728463 673.687006 
L 951.957125 675.662104 
L 952.185788 678.649179 
L 952.41445 678.648507 
L 952.643113 675.765625 
L 953.3291 675.962697 
L 953.557763 670.044283 
L 953.786425 668.784619 
L 954.015088 668.588459 
L 954.24375 667.610787 
L 955.1584 663.130874 
L 955.387063 663.122776 
L 955.615725 661.553424 
L 955.844388 658.823195 
L 956.530375 660.140625 
L 956.759038 660.136003 
L 956.9877 662.360129 
L 957.216363 662.547894 
L 957.445025 662.399847 
L 958.131012 664.046875 
L 958.359675 666.343318 
L 958.588338 666.577812 
L 959.045663 674.298807 
L 959.73165 675.765625 
L 959.960313 675.880059 
L 960.188975 678.889392 
L 960.417638 679.697895 
L 960.6463 681.348158 
L 961.332288 683.610464 
L 961.56095 679.743656 
L 961.789613 683.578125 
L 962.018275 682.334941 
L 962.246938 683.94641 
L 962.932925 680.321008 
L 963.161587 677.056228 
L 963.39025 676.663178 
L 963.618913 675.765625 
L 963.847575 675.873574 
L 964.533563 675.299514 
L 965.21955 682.199528 
L 965.448213 679.671875 
L 966.1342 683.847551 
L 966.591525 680.488476 
L 966.820188 681.053216 
L 967.04885 678.155031 
L 967.734838 681.625 
L 967.9635 680.441515 
L 968.192162 680.135685 
L 968.420825 676.55985 
L 968.649488 677.895894 
L 969.335475 678.480173 
L 969.564138 675.765625 
L 969.7928 677.645643 
L 970.021463 675.438977 
L 970.936113 678.756464 
L 971.393438 674.345625 
L 989.00045 674.345625 
L 989.229113 674.45932 
L 989.457775 673.911554 
L 990.143763 670.597322 
L 990.372425 674.619446 
L 990.601088 676.122136 
L 990.82975 681.19839 
L 991.058413 683.470649 
L 991.7444 684.174033 
L 991.973063 685.395865 
L 992.430388 693.76931 
L 992.65905 692.885931 
L 993.5737 696.343975 
L 993.802363 696.58085 
L 994.259688 694.6803 
L 994.945675 690.519164 
L 995.174338 689.907312 
L 995.403 688.256499 
L 995.631663 691.502042 
L 995.860325 690.805697 
L 996.546313 690.595435 
L 996.774975 689.242921 
L 997.2323 692.674114 
L 997.460963 693.999482 
L 998.14695 693.788071 
L 998.375613 690.949016 
L 998.604275 689.61847 
L 998.832938 691.446525 
L 999.0616 691.855983 
L 999.97625 689.48314 
L 1000.433575 691.437454 
L 1000.662238 693.084882 
L 1001.348225 694.555113 
L 1001.576888 690.368769 
L 1001.80555 691.780546 
L 1002.262875 690.339024 
L 1002.948863 686.958359 
L 1003.177525 687.102024 
L 1003.406188 684.757981 
L 1003.863513 686.404377 
L 1004.5495 688.619979 
L 1004.778163 691.432227 
L 1005.006825 690.609233 
L 1005.235488 691.567128 
L 1005.46415 690.669682 
L 1006.150138 691.194645 
L 1006.3788 687.468358 
L 1006.607463 687.977854 
L 1007.064788 686.045314 
L 1007.979438 681.359045 
L 1008.436763 683.470649 
L 1008.665425 682.335773 
L 1009.351413 682.457564 
L 1009.580075 682.771199 
L 1009.808738 680.895984 
L 1010.266063 684.480684 
L 1010.95205 686.504255 
L 1011.409375 681.404651 
L 1011.638038 679.454641 
L 1011.8667 679.981848 
L 1012.552688 679.608651 
L 1012.78135 681.294998 
L 1013.238675 680.281583 
L 1013.467338 680.895984 
L 1014.153325 675.973244 
L 1014.381988 675.858358 
L 1014.61065 679.011028 
L 1014.839313 675.746653 
L 1015.067975 679.843007 
L 1015.753963 683.470649 
L 1016.668613 714.366632 
L 1018.26925 752.986612 
L 1019.412563 819.927909 
L 1019.869888 803.253911 
L 1020.555875 794.181256 
L 1021.0132 769.378426 
L 1021.241863 757.646896 
L 1021.470525 751.699279 
L 1022.385175 750.01721 
L 1022.613838 750.411946 
L 1023.071163 753.235638 
L 1023.985813 768.434604 
L 1024.214475 765.699791 
L 1024.443138 766.204371 
L 1024.6718 770.381689 
L 1025.357788 767.147271 
L 1025.58645 768.89263 
L 1025.815113 769.507304 
L 1026.272438 768.434604 
L 1026.958425 767.960987 
L 1027.187087 771.101843 
L 1027.41575 768.185168 
L 1027.644413 767.558283 
L 1027.873075 769.721936 
L 1028.559062 771.690866 
L 1028.787725 769.843392 
L 1029.016388 771.009269 
L 1029.24505 770.902381 
L 1029.473713 770.629877 
L 1030.1597 772.77431 
L 1030.388363 771.009269 
L 1030.617025 770.638858 
L 1031.07435 774.033963 
L 1031.760338 776.158599 
L 1031.989 772.16531 
L 1032.217663 772.478252 
L 1032.446325 773.823976 
L 1032.674988 773.583934 
L 1033.360975 773.066295 
L 1034.046963 768.766934 
L 1034.275625 771.009269 
L 1034.961613 772.031933 
L 1035.190275 773.344585 
L 1035.876263 770.128755 
L 1036.56225 771.017376 
L 1036.790913 773.583934 
L 1037.019575 770.194997 
L 1037.248237 771.087179 
L 1037.4769 774.616355 
L 1038.162888 775.613271 
L 1038.39155 775.325075 
L 1038.620212 771.628734 
L 1038.848875 770.661392 
L 1039.077538 770.883213 
L 1039.763525 771.009269 
L 1039.992188 768.967355 
L 1040.22085 768.787641 
L 1040.678175 773.253597 
L 1041.364163 774.046803 
L 1041.592825 773.919742 
L 1041.821488 775.033235 
L 1042.05015 774.871267 
L 1042.278813 773.032052 
L 1042.9648 775.464188 
L 1043.193463 777.269053 
L 1043.422125 776.388042 
L 1043.650788 776.591681 
L 1043.87945 774.519654 
L 1044.565438 776.158599 
L 1044.7941 774.850744 
L 1045.022763 776.31157 
L 1045.251425 775.436692 
L 1045.480088 773.744908 
L 1046.166075 772.98083 
L 1046.394738 771.540776 
L 1046.6234 775.098898 
L 1046.852063 775.81665 
L 1047.080725 771.009269 
L 1047.766713 771.49354 
L 1047.995375 772.437907 
L 1048.4527 778.243723 
L 1048.681362 777.802997 
L 1049.36735 776.85703 
L 1050.053337 784.585895 
L 1050.282 782.976897 
L 1050.967988 776.883203 
L 1051.19665 776.862795 
L 1051.425313 778.434836 
L 1051.653975 778.425464 
L 1051.882638 781.01145 
L 1052.568625 780.020597 
L 1052.797288 780.13142 
L 1053.02595 782.182223 
L 1053.483275 779.147825 
L 1054.169263 779.318834 
L 1054.397925 780.053916 
L 1054.626588 781.641812 
L 1054.85525 781.30793 
L 1055.083913 782.751306 
L 1055.7699 781.683789 
L 1055.998563 783.283298 
L 1056.227225 783.864643 
L 1056.455888 782.72708 
L 1056.68455 783.347074 
L 1057.370537 780.020597 
L 1057.5992 783.815937 
L 1058.056525 779.57272 
L 1058.285188 777.40298 
L 1058.971175 780.13049 
L 1059.199838 783.607324 
L 1059.4285 780.705095 
L 1059.657163 780.240057 
L 1059.885825 781.30793 
L 1060.571813 780.617516 
L 1060.800475 781.088648 
L 1061.029138 785.131685 
L 1061.2578 786.813235 
L 1061.486463 785.402897 
L 1062.17245 784.743197 
L 1062.401113 787.336965 
L 1062.629775 786.457261 
L 1062.858438 787.021319 
L 1062.858438 787.021319 
" clip-path="url(#pd7cd44a650)" style="fill: none; stroke: #8b0000; stroke-opacity: 0.5; stroke-width: 0.5; stroke-linecap: square"/>
   </g>
   <g id="patch_20">
    <path d="M 603.125 838.5 
L 603.125 458.75 
" style="fill: none; stroke: #000000; stroke-linejoin: miter; stroke-linecap: square"/>
   </g>
   <g id="patch_21">
    <path d="M 1085 838.5 
L 1085 458.75 
" style="fill: none; stroke: #000000; stroke-linejoin: miter; stroke-linecap: square"/>
   </g>
   <g id="patch_22">
    <path d="M 603.125 838.5 
L 1085 838.5 
" style="fill: none; stroke: #000000; stroke-linejoin: miter; stroke-linecap: square"/>
   </g>
   <g id="patch_23">
    <path d="M 603.125 458.75 
L 1085 458.75 
" style="fill: none; stroke: #000000; stroke-linejoin: miter; stroke-linecap: square"/>
   </g>
   <g id="text_65">
    <text style="font-size: 12px; font-family: 'DejaVu Sans', 'Liberation Sans', sans-serif; text-anchor: middle" x="844.0625" y="452.75" transform="rotate(-0 844.0625 452.75)">Drawdown (%)</text>
   </g>
  </g>
 </g>
 <defs>
  <clipPath id="p4b7e24a7e3">
   <rect x="81.25" y="35" width="481.875" height="380.625"/>
  </clipPath>
  <clipPath id="pbfd30560b8">
   <rect x="603.125" y="35" width="481.875" height="380.625"/>
  </clipPath>
  <clipPath id="pbc6b674ccd">
   <rect x="81.25" y="458.375" width="481.875" height="380.25"/>
  </clipPath>
  <clipPath id="pd7cd44a650">
   <rect x="603.125" y="458.75" width="481.875" height="379.75"/>
  </clipPath>
 </defs>
</svg>

</body></html>
